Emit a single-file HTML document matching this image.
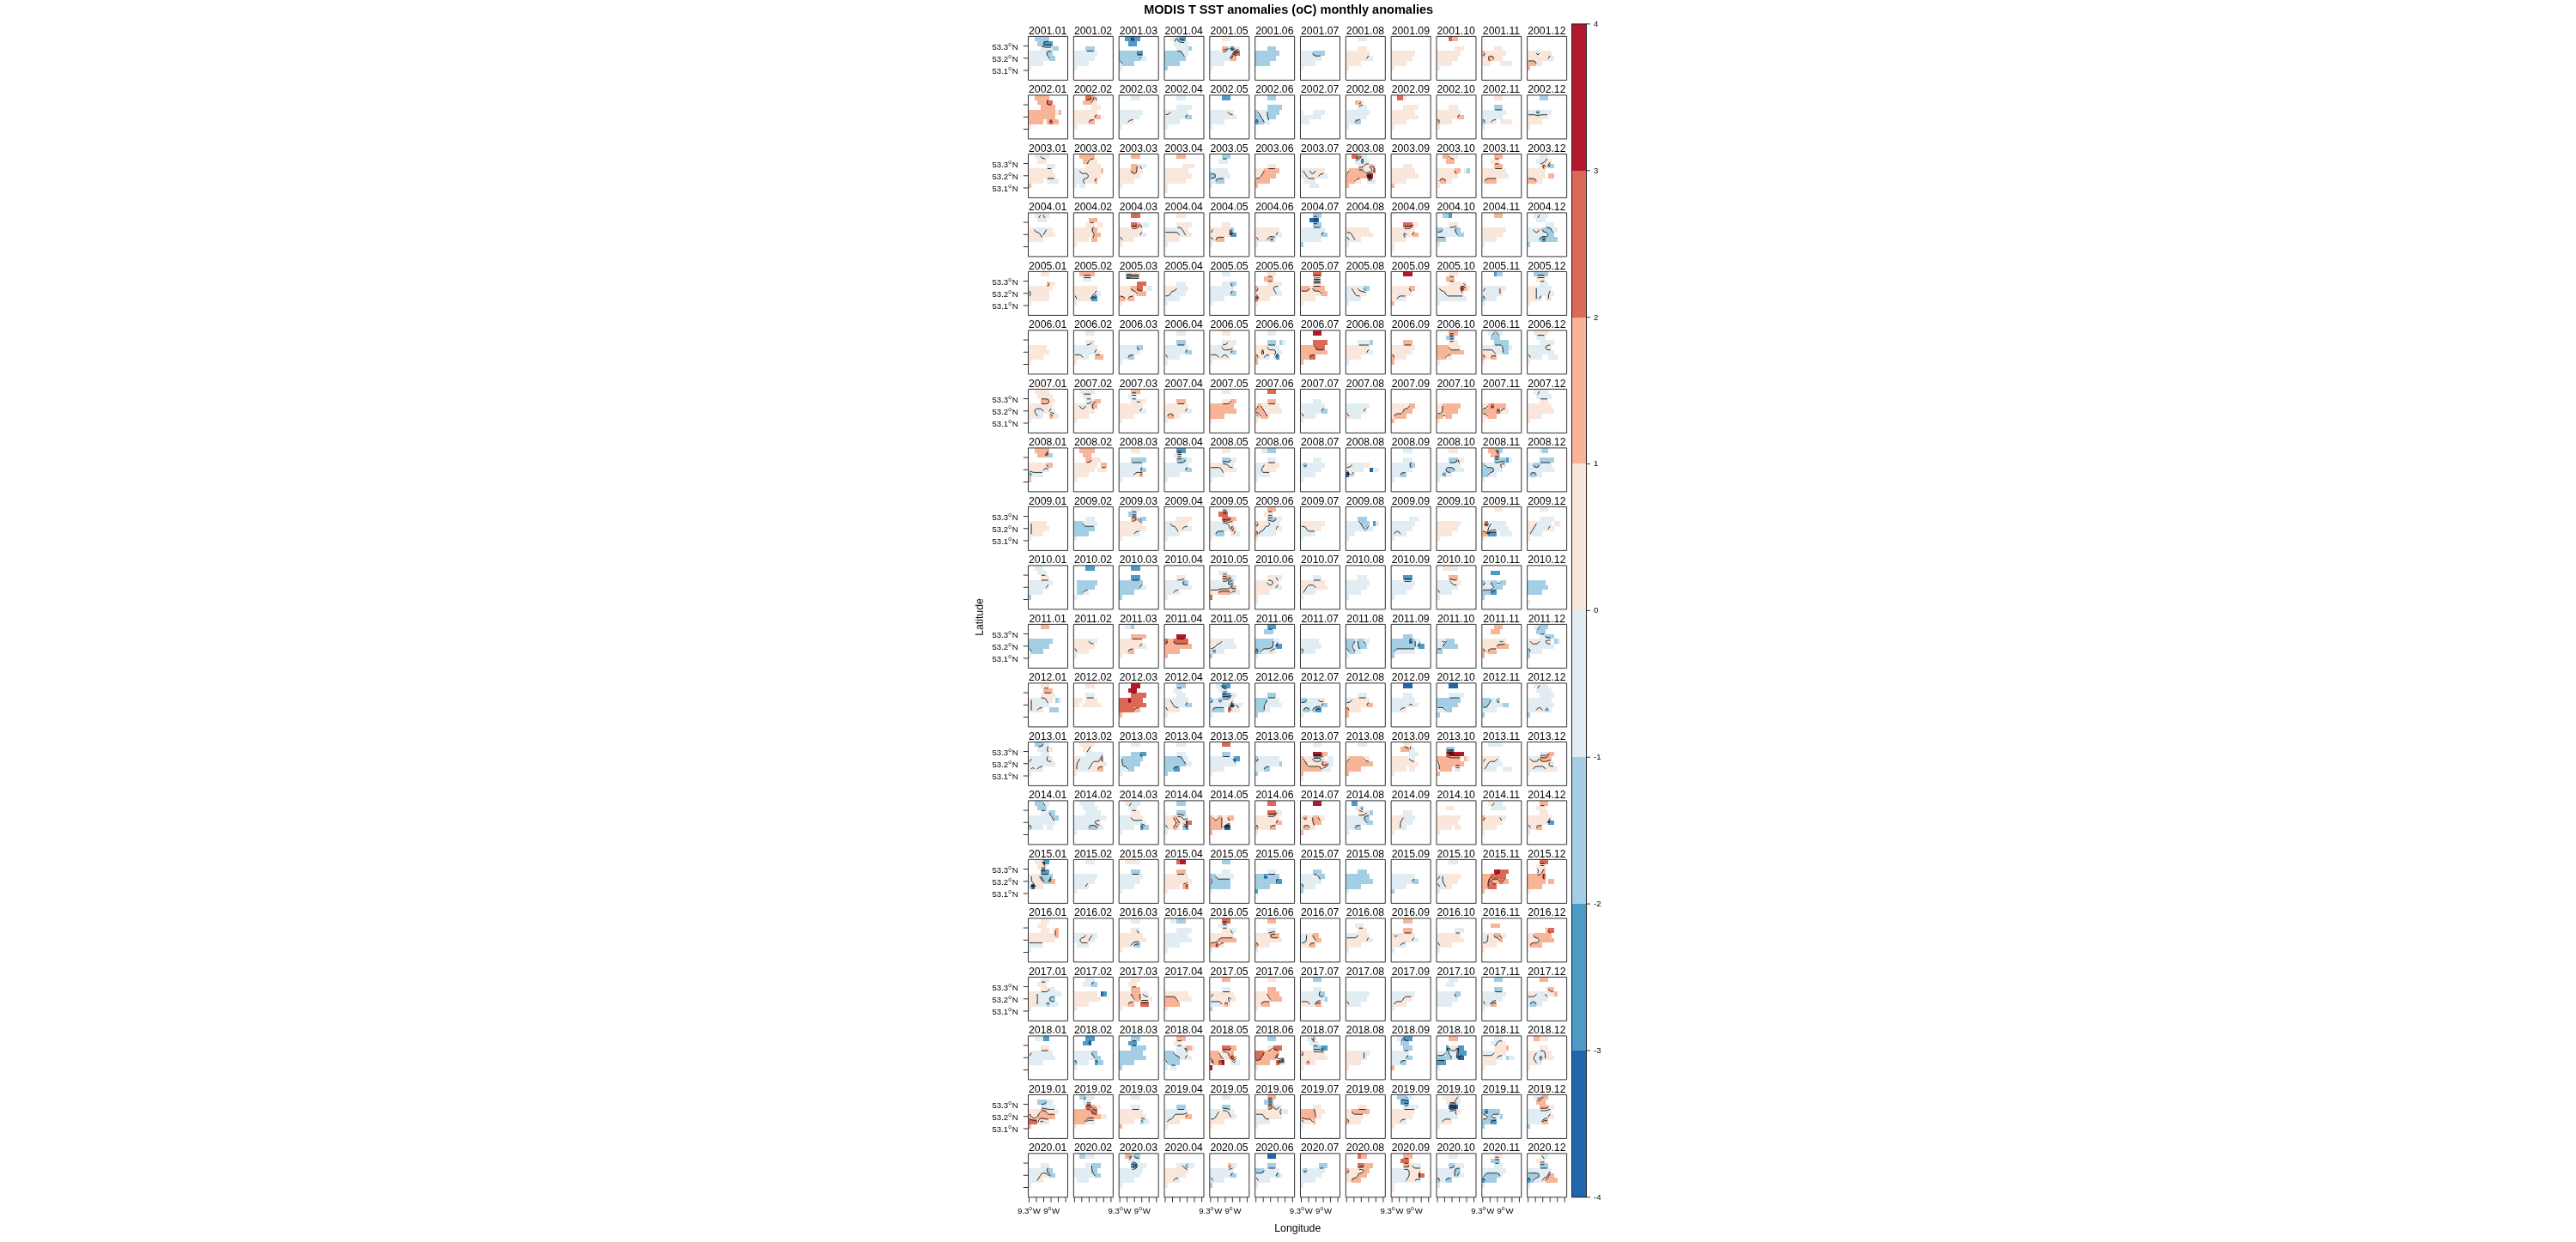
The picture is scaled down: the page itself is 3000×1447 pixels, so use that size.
<!DOCTYPE html>
<html lang="en"><head><meta charset="utf-8"><title>MODIS T SST anomalies (oC) monthly anomalies</title>
<style>html,body{margin:0;padding:0;background:#fff}body{width:3000px;height:1447px;overflow:hidden}</style></head>
<body>
<svg width="3000" height="1447" viewBox="0 0 3000 1447" style="display:block">
<rect width="3000" height="1447" fill="#fff"/>
<g font-family="'Liberation Sans', sans-serif" fill="#000" opacity="0.999">
<text x="1500.7" y="15.8" font-size="14.55" font-weight="bold" text-anchor="middle">MODIS T SST anomalies (oC) monthly anomalies</text>
<text x="1511.3" y="1435" font-size="12.3" text-anchor="middle">Longitude</text>
<text transform="translate(1144.8,719) rotate(-90)" font-size="12.3" text-anchor="middle">Latitude</text>
<text x="1220.2" y="39.6" font-size="12.25" text-anchor="middle">2001.01</text>
<text x="1185.6" y="58.05" font-size="9.6" text-anchor="end">53.3<tspan dy="-4.1" font-size="6.7">o</tspan><tspan dy="4.1" dx="0.7">N</tspan></text>
<text x="1185.6" y="72.27" font-size="9.6" text-anchor="end">53.2<tspan dy="-4.1" font-size="6.7">o</tspan><tspan dy="4.1" dx="0.7">N</tspan></text>
<text x="1185.6" y="86.49" font-size="9.6" text-anchor="end">53.1<tspan dy="-4.1" font-size="6.7">o</tspan><tspan dy="4.1" dx="0.7">N</tspan></text>
<text x="1273.03" y="39.6" font-size="12.25" text-anchor="middle">2001.02</text>
<text x="1325.86" y="39.6" font-size="12.25" text-anchor="middle">2001.03</text>
<text x="1378.69" y="39.6" font-size="12.25" text-anchor="middle">2001.04</text>
<text x="1431.52" y="39.6" font-size="12.25" text-anchor="middle">2001.05</text>
<text x="1484.35" y="39.6" font-size="12.25" text-anchor="middle">2001.06</text>
<text x="1537.18" y="39.6" font-size="12.25" text-anchor="middle">2001.07</text>
<text x="1590.01" y="39.6" font-size="12.25" text-anchor="middle">2001.08</text>
<text x="1642.84" y="39.6" font-size="12.25" text-anchor="middle">2001.09</text>
<text x="1695.67" y="39.6" font-size="12.25" text-anchor="middle">2001.10</text>
<text x="1748.5" y="39.6" font-size="12.25" text-anchor="middle">2001.11</text>
<text x="1801.33" y="39.6" font-size="12.25" text-anchor="middle">2001.12</text>
<text x="1220.2" y="108.1" font-size="12.25" text-anchor="middle">2002.01</text>
<text x="1273.03" y="108.1" font-size="12.25" text-anchor="middle">2002.02</text>
<text x="1325.86" y="108.1" font-size="12.25" text-anchor="middle">2002.03</text>
<text x="1378.69" y="108.1" font-size="12.25" text-anchor="middle">2002.04</text>
<text x="1431.52" y="108.1" font-size="12.25" text-anchor="middle">2002.05</text>
<text x="1484.35" y="108.1" font-size="12.25" text-anchor="middle">2002.06</text>
<text x="1537.18" y="108.1" font-size="12.25" text-anchor="middle">2002.07</text>
<text x="1590.01" y="108.1" font-size="12.25" text-anchor="middle">2002.08</text>
<text x="1642.84" y="108.1" font-size="12.25" text-anchor="middle">2002.09</text>
<text x="1695.67" y="108.1" font-size="12.25" text-anchor="middle">2002.10</text>
<text x="1748.5" y="108.1" font-size="12.25" text-anchor="middle">2002.11</text>
<text x="1801.33" y="108.1" font-size="12.25" text-anchor="middle">2002.12</text>
<text x="1220.2" y="176.6" font-size="12.25" text-anchor="middle">2003.01</text>
<text x="1185.6" y="195.05" font-size="9.6" text-anchor="end">53.3<tspan dy="-4.1" font-size="6.7">o</tspan><tspan dy="4.1" dx="0.7">N</tspan></text>
<text x="1185.6" y="209.27" font-size="9.6" text-anchor="end">53.2<tspan dy="-4.1" font-size="6.7">o</tspan><tspan dy="4.1" dx="0.7">N</tspan></text>
<text x="1185.6" y="223.49" font-size="9.6" text-anchor="end">53.1<tspan dy="-4.1" font-size="6.7">o</tspan><tspan dy="4.1" dx="0.7">N</tspan></text>
<text x="1273.03" y="176.6" font-size="12.25" text-anchor="middle">2003.02</text>
<text x="1325.86" y="176.6" font-size="12.25" text-anchor="middle">2003.03</text>
<text x="1378.69" y="176.6" font-size="12.25" text-anchor="middle">2003.04</text>
<text x="1431.52" y="176.6" font-size="12.25" text-anchor="middle">2003.05</text>
<text x="1484.35" y="176.6" font-size="12.25" text-anchor="middle">2003.06</text>
<text x="1537.18" y="176.6" font-size="12.25" text-anchor="middle">2003.07</text>
<text x="1590.01" y="176.6" font-size="12.25" text-anchor="middle">2003.08</text>
<text x="1642.84" y="176.6" font-size="12.25" text-anchor="middle">2003.09</text>
<text x="1695.67" y="176.6" font-size="12.25" text-anchor="middle">2003.10</text>
<text x="1748.5" y="176.6" font-size="12.25" text-anchor="middle">2003.11</text>
<text x="1801.33" y="176.6" font-size="12.25" text-anchor="middle">2003.12</text>
<text x="1220.2" y="245.1" font-size="12.25" text-anchor="middle">2004.01</text>
<text x="1273.03" y="245.1" font-size="12.25" text-anchor="middle">2004.02</text>
<text x="1325.86" y="245.1" font-size="12.25" text-anchor="middle">2004.03</text>
<text x="1378.69" y="245.1" font-size="12.25" text-anchor="middle">2004.04</text>
<text x="1431.52" y="245.1" font-size="12.25" text-anchor="middle">2004.05</text>
<text x="1484.35" y="245.1" font-size="12.25" text-anchor="middle">2004.06</text>
<text x="1537.18" y="245.1" font-size="12.25" text-anchor="middle">2004.07</text>
<text x="1590.01" y="245.1" font-size="12.25" text-anchor="middle">2004.08</text>
<text x="1642.84" y="245.1" font-size="12.25" text-anchor="middle">2004.09</text>
<text x="1695.67" y="245.1" font-size="12.25" text-anchor="middle">2004.10</text>
<text x="1748.5" y="245.1" font-size="12.25" text-anchor="middle">2004.11</text>
<text x="1801.33" y="245.1" font-size="12.25" text-anchor="middle">2004.12</text>
<text x="1220.2" y="313.6" font-size="12.25" text-anchor="middle">2005.01</text>
<text x="1185.6" y="332.05" font-size="9.6" text-anchor="end">53.3<tspan dy="-4.1" font-size="6.7">o</tspan><tspan dy="4.1" dx="0.7">N</tspan></text>
<text x="1185.6" y="346.27" font-size="9.6" text-anchor="end">53.2<tspan dy="-4.1" font-size="6.7">o</tspan><tspan dy="4.1" dx="0.7">N</tspan></text>
<text x="1185.6" y="360.49" font-size="9.6" text-anchor="end">53.1<tspan dy="-4.1" font-size="6.7">o</tspan><tspan dy="4.1" dx="0.7">N</tspan></text>
<text x="1273.03" y="313.6" font-size="12.25" text-anchor="middle">2005.02</text>
<text x="1325.86" y="313.6" font-size="12.25" text-anchor="middle">2005.03</text>
<text x="1378.69" y="313.6" font-size="12.25" text-anchor="middle">2005.04</text>
<text x="1431.52" y="313.6" font-size="12.25" text-anchor="middle">2005.05</text>
<text x="1484.35" y="313.6" font-size="12.25" text-anchor="middle">2005.06</text>
<text x="1537.18" y="313.6" font-size="12.25" text-anchor="middle">2005.07</text>
<text x="1590.01" y="313.6" font-size="12.25" text-anchor="middle">2005.08</text>
<text x="1642.84" y="313.6" font-size="12.25" text-anchor="middle">2005.09</text>
<text x="1695.67" y="313.6" font-size="12.25" text-anchor="middle">2005.10</text>
<text x="1748.5" y="313.6" font-size="12.25" text-anchor="middle">2005.11</text>
<text x="1801.33" y="313.6" font-size="12.25" text-anchor="middle">2005.12</text>
<text x="1220.2" y="382.1" font-size="12.25" text-anchor="middle">2006.01</text>
<text x="1273.03" y="382.1" font-size="12.25" text-anchor="middle">2006.02</text>
<text x="1325.86" y="382.1" font-size="12.25" text-anchor="middle">2006.03</text>
<text x="1378.69" y="382.1" font-size="12.25" text-anchor="middle">2006.04</text>
<text x="1431.52" y="382.1" font-size="12.25" text-anchor="middle">2006.05</text>
<text x="1484.35" y="382.1" font-size="12.25" text-anchor="middle">2006.06</text>
<text x="1537.18" y="382.1" font-size="12.25" text-anchor="middle">2006.07</text>
<text x="1590.01" y="382.1" font-size="12.25" text-anchor="middle">2006.08</text>
<text x="1642.84" y="382.1" font-size="12.25" text-anchor="middle">2006.09</text>
<text x="1695.67" y="382.1" font-size="12.25" text-anchor="middle">2006.10</text>
<text x="1748.5" y="382.1" font-size="12.25" text-anchor="middle">2006.11</text>
<text x="1801.33" y="382.1" font-size="12.25" text-anchor="middle">2006.12</text>
<text x="1220.2" y="450.6" font-size="12.25" text-anchor="middle">2007.01</text>
<text x="1185.6" y="469.05" font-size="9.6" text-anchor="end">53.3<tspan dy="-4.1" font-size="6.7">o</tspan><tspan dy="4.1" dx="0.7">N</tspan></text>
<text x="1185.6" y="483.27" font-size="9.6" text-anchor="end">53.2<tspan dy="-4.1" font-size="6.7">o</tspan><tspan dy="4.1" dx="0.7">N</tspan></text>
<text x="1185.6" y="497.49" font-size="9.6" text-anchor="end">53.1<tspan dy="-4.1" font-size="6.7">o</tspan><tspan dy="4.1" dx="0.7">N</tspan></text>
<text x="1273.03" y="450.6" font-size="12.25" text-anchor="middle">2007.02</text>
<text x="1325.86" y="450.6" font-size="12.25" text-anchor="middle">2007.03</text>
<text x="1378.69" y="450.6" font-size="12.25" text-anchor="middle">2007.04</text>
<text x="1431.52" y="450.6" font-size="12.25" text-anchor="middle">2007.05</text>
<text x="1484.35" y="450.6" font-size="12.25" text-anchor="middle">2007.06</text>
<text x="1537.18" y="450.6" font-size="12.25" text-anchor="middle">2007.07</text>
<text x="1590.01" y="450.6" font-size="12.25" text-anchor="middle">2007.08</text>
<text x="1642.84" y="450.6" font-size="12.25" text-anchor="middle">2007.09</text>
<text x="1695.67" y="450.6" font-size="12.25" text-anchor="middle">2007.10</text>
<text x="1748.5" y="450.6" font-size="12.25" text-anchor="middle">2007.11</text>
<text x="1801.33" y="450.6" font-size="12.25" text-anchor="middle">2007.12</text>
<text x="1220.2" y="519.1" font-size="12.25" text-anchor="middle">2008.01</text>
<text x="1273.03" y="519.1" font-size="12.25" text-anchor="middle">2008.02</text>
<text x="1325.86" y="519.1" font-size="12.25" text-anchor="middle">2008.03</text>
<text x="1378.69" y="519.1" font-size="12.25" text-anchor="middle">2008.04</text>
<text x="1431.52" y="519.1" font-size="12.25" text-anchor="middle">2008.05</text>
<text x="1484.35" y="519.1" font-size="12.25" text-anchor="middle">2008.06</text>
<text x="1537.18" y="519.1" font-size="12.25" text-anchor="middle">2008.07</text>
<text x="1590.01" y="519.1" font-size="12.25" text-anchor="middle">2008.08</text>
<text x="1642.84" y="519.1" font-size="12.25" text-anchor="middle">2008.09</text>
<text x="1695.67" y="519.1" font-size="12.25" text-anchor="middle">2008.10</text>
<text x="1748.5" y="519.1" font-size="12.25" text-anchor="middle">2008.11</text>
<text x="1801.33" y="519.1" font-size="12.25" text-anchor="middle">2008.12</text>
<text x="1220.2" y="587.6" font-size="12.25" text-anchor="middle">2009.01</text>
<text x="1185.6" y="606.05" font-size="9.6" text-anchor="end">53.3<tspan dy="-4.1" font-size="6.7">o</tspan><tspan dy="4.1" dx="0.7">N</tspan></text>
<text x="1185.6" y="620.27" font-size="9.6" text-anchor="end">53.2<tspan dy="-4.1" font-size="6.7">o</tspan><tspan dy="4.1" dx="0.7">N</tspan></text>
<text x="1185.6" y="634.49" font-size="9.6" text-anchor="end">53.1<tspan dy="-4.1" font-size="6.7">o</tspan><tspan dy="4.1" dx="0.7">N</tspan></text>
<text x="1273.03" y="587.6" font-size="12.25" text-anchor="middle">2009.02</text>
<text x="1325.86" y="587.6" font-size="12.25" text-anchor="middle">2009.03</text>
<text x="1378.69" y="587.6" font-size="12.25" text-anchor="middle">2009.04</text>
<text x="1431.52" y="587.6" font-size="12.25" text-anchor="middle">2009.05</text>
<text x="1484.35" y="587.6" font-size="12.25" text-anchor="middle">2009.06</text>
<text x="1537.18" y="587.6" font-size="12.25" text-anchor="middle">2009.07</text>
<text x="1590.01" y="587.6" font-size="12.25" text-anchor="middle">2009.08</text>
<text x="1642.84" y="587.6" font-size="12.25" text-anchor="middle">2009.09</text>
<text x="1695.67" y="587.6" font-size="12.25" text-anchor="middle">2009.10</text>
<text x="1748.5" y="587.6" font-size="12.25" text-anchor="middle">2009.11</text>
<text x="1801.33" y="587.6" font-size="12.25" text-anchor="middle">2009.12</text>
<text x="1220.2" y="656.1" font-size="12.25" text-anchor="middle">2010.01</text>
<text x="1273.03" y="656.1" font-size="12.25" text-anchor="middle">2010.02</text>
<text x="1325.86" y="656.1" font-size="12.25" text-anchor="middle">2010.03</text>
<text x="1378.69" y="656.1" font-size="12.25" text-anchor="middle">2010.04</text>
<text x="1431.52" y="656.1" font-size="12.25" text-anchor="middle">2010.05</text>
<text x="1484.35" y="656.1" font-size="12.25" text-anchor="middle">2010.06</text>
<text x="1537.18" y="656.1" font-size="12.25" text-anchor="middle">2010.07</text>
<text x="1590.01" y="656.1" font-size="12.25" text-anchor="middle">2010.08</text>
<text x="1642.84" y="656.1" font-size="12.25" text-anchor="middle">2010.09</text>
<text x="1695.67" y="656.1" font-size="12.25" text-anchor="middle">2010.10</text>
<text x="1748.5" y="656.1" font-size="12.25" text-anchor="middle">2010.11</text>
<text x="1801.33" y="656.1" font-size="12.25" text-anchor="middle">2010.12</text>
<text x="1220.2" y="724.6" font-size="12.25" text-anchor="middle">2011.01</text>
<text x="1185.6" y="743.05" font-size="9.6" text-anchor="end">53.3<tspan dy="-4.1" font-size="6.7">o</tspan><tspan dy="4.1" dx="0.7">N</tspan></text>
<text x="1185.6" y="757.27" font-size="9.6" text-anchor="end">53.2<tspan dy="-4.1" font-size="6.7">o</tspan><tspan dy="4.1" dx="0.7">N</tspan></text>
<text x="1185.6" y="771.49" font-size="9.6" text-anchor="end">53.1<tspan dy="-4.1" font-size="6.7">o</tspan><tspan dy="4.1" dx="0.7">N</tspan></text>
<text x="1273.03" y="724.6" font-size="12.25" text-anchor="middle">2011.02</text>
<text x="1325.86" y="724.6" font-size="12.25" text-anchor="middle">2011.03</text>
<text x="1378.69" y="724.6" font-size="12.25" text-anchor="middle">2011.04</text>
<text x="1431.52" y="724.6" font-size="12.25" text-anchor="middle">2011.05</text>
<text x="1484.35" y="724.6" font-size="12.25" text-anchor="middle">2011.06</text>
<text x="1537.18" y="724.6" font-size="12.25" text-anchor="middle">2011.07</text>
<text x="1590.01" y="724.6" font-size="12.25" text-anchor="middle">2011.08</text>
<text x="1642.84" y="724.6" font-size="12.25" text-anchor="middle">2011.09</text>
<text x="1695.67" y="724.6" font-size="12.25" text-anchor="middle">2011.10</text>
<text x="1748.5" y="724.6" font-size="12.25" text-anchor="middle">2011.11</text>
<text x="1801.33" y="724.6" font-size="12.25" text-anchor="middle">2011.12</text>
<text x="1220.2" y="793.1" font-size="12.25" text-anchor="middle">2012.01</text>
<text x="1273.03" y="793.1" font-size="12.25" text-anchor="middle">2012.02</text>
<text x="1325.86" y="793.1" font-size="12.25" text-anchor="middle">2012.03</text>
<text x="1378.69" y="793.1" font-size="12.25" text-anchor="middle">2012.04</text>
<text x="1431.52" y="793.1" font-size="12.25" text-anchor="middle">2012.05</text>
<text x="1484.35" y="793.1" font-size="12.25" text-anchor="middle">2012.06</text>
<text x="1537.18" y="793.1" font-size="12.25" text-anchor="middle">2012.07</text>
<text x="1590.01" y="793.1" font-size="12.25" text-anchor="middle">2012.08</text>
<text x="1642.84" y="793.1" font-size="12.25" text-anchor="middle">2012.09</text>
<text x="1695.67" y="793.1" font-size="12.25" text-anchor="middle">2012.10</text>
<text x="1748.5" y="793.1" font-size="12.25" text-anchor="middle">2012.11</text>
<text x="1801.33" y="793.1" font-size="12.25" text-anchor="middle">2012.12</text>
<text x="1220.2" y="861.6" font-size="12.25" text-anchor="middle">2013.01</text>
<text x="1185.6" y="880.05" font-size="9.6" text-anchor="end">53.3<tspan dy="-4.1" font-size="6.7">o</tspan><tspan dy="4.1" dx="0.7">N</tspan></text>
<text x="1185.6" y="894.27" font-size="9.6" text-anchor="end">53.2<tspan dy="-4.1" font-size="6.7">o</tspan><tspan dy="4.1" dx="0.7">N</tspan></text>
<text x="1185.6" y="908.49" font-size="9.6" text-anchor="end">53.1<tspan dy="-4.1" font-size="6.7">o</tspan><tspan dy="4.1" dx="0.7">N</tspan></text>
<text x="1273.03" y="861.6" font-size="12.25" text-anchor="middle">2013.02</text>
<text x="1325.86" y="861.6" font-size="12.25" text-anchor="middle">2013.03</text>
<text x="1378.69" y="861.6" font-size="12.25" text-anchor="middle">2013.04</text>
<text x="1431.52" y="861.6" font-size="12.25" text-anchor="middle">2013.05</text>
<text x="1484.35" y="861.6" font-size="12.25" text-anchor="middle">2013.06</text>
<text x="1537.18" y="861.6" font-size="12.25" text-anchor="middle">2013.07</text>
<text x="1590.01" y="861.6" font-size="12.25" text-anchor="middle">2013.08</text>
<text x="1642.84" y="861.6" font-size="12.25" text-anchor="middle">2013.09</text>
<text x="1695.67" y="861.6" font-size="12.25" text-anchor="middle">2013.10</text>
<text x="1748.5" y="861.6" font-size="12.25" text-anchor="middle">2013.11</text>
<text x="1801.33" y="861.6" font-size="12.25" text-anchor="middle">2013.12</text>
<text x="1220.2" y="930.1" font-size="12.25" text-anchor="middle">2014.01</text>
<text x="1273.03" y="930.1" font-size="12.25" text-anchor="middle">2014.02</text>
<text x="1325.86" y="930.1" font-size="12.25" text-anchor="middle">2014.03</text>
<text x="1378.69" y="930.1" font-size="12.25" text-anchor="middle">2014.04</text>
<text x="1431.52" y="930.1" font-size="12.25" text-anchor="middle">2014.05</text>
<text x="1484.35" y="930.1" font-size="12.25" text-anchor="middle">2014.06</text>
<text x="1537.18" y="930.1" font-size="12.25" text-anchor="middle">2014.07</text>
<text x="1590.01" y="930.1" font-size="12.25" text-anchor="middle">2014.08</text>
<text x="1642.84" y="930.1" font-size="12.25" text-anchor="middle">2014.09</text>
<text x="1695.67" y="930.1" font-size="12.25" text-anchor="middle">2014.10</text>
<text x="1748.5" y="930.1" font-size="12.25" text-anchor="middle">2014.11</text>
<text x="1801.33" y="930.1" font-size="12.25" text-anchor="middle">2014.12</text>
<text x="1220.2" y="998.6" font-size="12.25" text-anchor="middle">2015.01</text>
<text x="1185.6" y="1017.05" font-size="9.6" text-anchor="end">53.3<tspan dy="-4.1" font-size="6.7">o</tspan><tspan dy="4.1" dx="0.7">N</tspan></text>
<text x="1185.6" y="1031.27" font-size="9.6" text-anchor="end">53.2<tspan dy="-4.1" font-size="6.7">o</tspan><tspan dy="4.1" dx="0.7">N</tspan></text>
<text x="1185.6" y="1045.49" font-size="9.6" text-anchor="end">53.1<tspan dy="-4.1" font-size="6.7">o</tspan><tspan dy="4.1" dx="0.7">N</tspan></text>
<text x="1273.03" y="998.6" font-size="12.25" text-anchor="middle">2015.02</text>
<text x="1325.86" y="998.6" font-size="12.25" text-anchor="middle">2015.03</text>
<text x="1378.69" y="998.6" font-size="12.25" text-anchor="middle">2015.04</text>
<text x="1431.52" y="998.6" font-size="12.25" text-anchor="middle">2015.05</text>
<text x="1484.35" y="998.6" font-size="12.25" text-anchor="middle">2015.06</text>
<text x="1537.18" y="998.6" font-size="12.25" text-anchor="middle">2015.07</text>
<text x="1590.01" y="998.6" font-size="12.25" text-anchor="middle">2015.08</text>
<text x="1642.84" y="998.6" font-size="12.25" text-anchor="middle">2015.09</text>
<text x="1695.67" y="998.6" font-size="12.25" text-anchor="middle">2015.10</text>
<text x="1748.5" y="998.6" font-size="12.25" text-anchor="middle">2015.11</text>
<text x="1801.33" y="998.6" font-size="12.25" text-anchor="middle">2015.12</text>
<text x="1220.2" y="1067.1" font-size="12.25" text-anchor="middle">2016.01</text>
<text x="1273.03" y="1067.1" font-size="12.25" text-anchor="middle">2016.02</text>
<text x="1325.86" y="1067.1" font-size="12.25" text-anchor="middle">2016.03</text>
<text x="1378.69" y="1067.1" font-size="12.25" text-anchor="middle">2016.04</text>
<text x="1431.52" y="1067.1" font-size="12.25" text-anchor="middle">2016.05</text>
<text x="1484.35" y="1067.1" font-size="12.25" text-anchor="middle">2016.06</text>
<text x="1537.18" y="1067.1" font-size="12.25" text-anchor="middle">2016.07</text>
<text x="1590.01" y="1067.1" font-size="12.25" text-anchor="middle">2016.08</text>
<text x="1642.84" y="1067.1" font-size="12.25" text-anchor="middle">2016.09</text>
<text x="1695.67" y="1067.1" font-size="12.25" text-anchor="middle">2016.10</text>
<text x="1748.5" y="1067.1" font-size="12.25" text-anchor="middle">2016.11</text>
<text x="1801.33" y="1067.1" font-size="12.25" text-anchor="middle">2016.12</text>
<text x="1220.2" y="1135.6" font-size="12.25" text-anchor="middle">2017.01</text>
<text x="1185.6" y="1154.05" font-size="9.6" text-anchor="end">53.3<tspan dy="-4.1" font-size="6.7">o</tspan><tspan dy="4.1" dx="0.7">N</tspan></text>
<text x="1185.6" y="1168.27" font-size="9.6" text-anchor="end">53.2<tspan dy="-4.1" font-size="6.7">o</tspan><tspan dy="4.1" dx="0.7">N</tspan></text>
<text x="1185.6" y="1182.49" font-size="9.6" text-anchor="end">53.1<tspan dy="-4.1" font-size="6.7">o</tspan><tspan dy="4.1" dx="0.7">N</tspan></text>
<text x="1273.03" y="1135.6" font-size="12.25" text-anchor="middle">2017.02</text>
<text x="1325.86" y="1135.6" font-size="12.25" text-anchor="middle">2017.03</text>
<text x="1378.69" y="1135.6" font-size="12.25" text-anchor="middle">2017.04</text>
<text x="1431.52" y="1135.6" font-size="12.25" text-anchor="middle">2017.05</text>
<text x="1484.35" y="1135.6" font-size="12.25" text-anchor="middle">2017.06</text>
<text x="1537.18" y="1135.6" font-size="12.25" text-anchor="middle">2017.07</text>
<text x="1590.01" y="1135.6" font-size="12.25" text-anchor="middle">2017.08</text>
<text x="1642.84" y="1135.6" font-size="12.25" text-anchor="middle">2017.09</text>
<text x="1695.67" y="1135.6" font-size="12.25" text-anchor="middle">2017.10</text>
<text x="1748.5" y="1135.6" font-size="12.25" text-anchor="middle">2017.11</text>
<text x="1801.33" y="1135.6" font-size="12.25" text-anchor="middle">2017.12</text>
<text x="1220.2" y="1204.1" font-size="12.25" text-anchor="middle">2018.01</text>
<text x="1273.03" y="1204.1" font-size="12.25" text-anchor="middle">2018.02</text>
<text x="1325.86" y="1204.1" font-size="12.25" text-anchor="middle">2018.03</text>
<text x="1378.69" y="1204.1" font-size="12.25" text-anchor="middle">2018.04</text>
<text x="1431.52" y="1204.1" font-size="12.25" text-anchor="middle">2018.05</text>
<text x="1484.35" y="1204.1" font-size="12.25" text-anchor="middle">2018.06</text>
<text x="1537.18" y="1204.1" font-size="12.25" text-anchor="middle">2018.07</text>
<text x="1590.01" y="1204.1" font-size="12.25" text-anchor="middle">2018.08</text>
<text x="1642.84" y="1204.1" font-size="12.25" text-anchor="middle">2018.09</text>
<text x="1695.67" y="1204.1" font-size="12.25" text-anchor="middle">2018.10</text>
<text x="1748.5" y="1204.1" font-size="12.25" text-anchor="middle">2018.11</text>
<text x="1801.33" y="1204.1" font-size="12.25" text-anchor="middle">2018.12</text>
<text x="1220.2" y="1272.6" font-size="12.25" text-anchor="middle">2019.01</text>
<text x="1185.6" y="1291.05" font-size="9.6" text-anchor="end">53.3<tspan dy="-4.1" font-size="6.7">o</tspan><tspan dy="4.1" dx="0.7">N</tspan></text>
<text x="1185.6" y="1305.27" font-size="9.6" text-anchor="end">53.2<tspan dy="-4.1" font-size="6.7">o</tspan><tspan dy="4.1" dx="0.7">N</tspan></text>
<text x="1185.6" y="1319.49" font-size="9.6" text-anchor="end">53.1<tspan dy="-4.1" font-size="6.7">o</tspan><tspan dy="4.1" dx="0.7">N</tspan></text>
<text x="1273.03" y="1272.6" font-size="12.25" text-anchor="middle">2019.02</text>
<text x="1325.86" y="1272.6" font-size="12.25" text-anchor="middle">2019.03</text>
<text x="1378.69" y="1272.6" font-size="12.25" text-anchor="middle">2019.04</text>
<text x="1431.52" y="1272.6" font-size="12.25" text-anchor="middle">2019.05</text>
<text x="1484.35" y="1272.6" font-size="12.25" text-anchor="middle">2019.06</text>
<text x="1537.18" y="1272.6" font-size="12.25" text-anchor="middle">2019.07</text>
<text x="1590.01" y="1272.6" font-size="12.25" text-anchor="middle">2019.08</text>
<text x="1642.84" y="1272.6" font-size="12.25" text-anchor="middle">2019.09</text>
<text x="1695.67" y="1272.6" font-size="12.25" text-anchor="middle">2019.10</text>
<text x="1748.5" y="1272.6" font-size="12.25" text-anchor="middle">2019.11</text>
<text x="1801.33" y="1272.6" font-size="12.25" text-anchor="middle">2019.12</text>
<text x="1220.2" y="1341.1" font-size="12.25" text-anchor="middle">2020.01</text>
<text x="1198.4" y="1413.9" font-size="9.6" text-anchor="middle">9.3<tspan dy="-4.1" font-size="6.7">o</tspan><tspan dy="4.1" dx="0.9">W</tspan></text>
<text x="1224.66" y="1413.9" font-size="9.6" text-anchor="middle">9<tspan dy="-4.1" font-size="6.7">o</tspan><tspan dy="4.1" dx="0.9">W</tspan></text>
<text x="1273.03" y="1341.1" font-size="12.25" text-anchor="middle">2020.02</text>
<text x="1325.86" y="1341.1" font-size="12.25" text-anchor="middle">2020.03</text>
<text x="1304.06" y="1413.9" font-size="9.6" text-anchor="middle">9.3<tspan dy="-4.1" font-size="6.7">o</tspan><tspan dy="4.1" dx="0.9">W</tspan></text>
<text x="1330.32" y="1413.9" font-size="9.6" text-anchor="middle">9<tspan dy="-4.1" font-size="6.7">o</tspan><tspan dy="4.1" dx="0.9">W</tspan></text>
<text x="1378.69" y="1341.1" font-size="12.25" text-anchor="middle">2020.04</text>
<text x="1431.52" y="1341.1" font-size="12.25" text-anchor="middle">2020.05</text>
<text x="1409.72" y="1413.9" font-size="9.6" text-anchor="middle">9.3<tspan dy="-4.1" font-size="6.7">o</tspan><tspan dy="4.1" dx="0.9">W</tspan></text>
<text x="1435.98" y="1413.9" font-size="9.6" text-anchor="middle">9<tspan dy="-4.1" font-size="6.7">o</tspan><tspan dy="4.1" dx="0.9">W</tspan></text>
<text x="1484.35" y="1341.1" font-size="12.25" text-anchor="middle">2020.06</text>
<text x="1537.18" y="1341.1" font-size="12.25" text-anchor="middle">2020.07</text>
<text x="1515.38" y="1413.9" font-size="9.6" text-anchor="middle">9.3<tspan dy="-4.1" font-size="6.7">o</tspan><tspan dy="4.1" dx="0.9">W</tspan></text>
<text x="1541.64" y="1413.9" font-size="9.6" text-anchor="middle">9<tspan dy="-4.1" font-size="6.7">o</tspan><tspan dy="4.1" dx="0.9">W</tspan></text>
<text x="1590.01" y="1341.1" font-size="12.25" text-anchor="middle">2020.08</text>
<text x="1642.84" y="1341.1" font-size="12.25" text-anchor="middle">2020.09</text>
<text x="1621.04" y="1413.9" font-size="9.6" text-anchor="middle">9.3<tspan dy="-4.1" font-size="6.7">o</tspan><tspan dy="4.1" dx="0.9">W</tspan></text>
<text x="1647.3" y="1413.9" font-size="9.6" text-anchor="middle">9<tspan dy="-4.1" font-size="6.7">o</tspan><tspan dy="4.1" dx="0.9">W</tspan></text>
<text x="1695.67" y="1341.1" font-size="12.25" text-anchor="middle">2020.10</text>
<text x="1748.5" y="1341.1" font-size="12.25" text-anchor="middle">2020.11</text>
<text x="1726.7" y="1413.9" font-size="9.6" text-anchor="middle">9.3<tspan dy="-4.1" font-size="6.7">o</tspan><tspan dy="4.1" dx="0.9">W</tspan></text>
<text x="1752.96" y="1413.9" font-size="9.6" text-anchor="middle">9<tspan dy="-4.1" font-size="6.7">o</tspan><tspan dy="4.1" dx="0.9">W</tspan></text>
<text x="1801.33" y="1341.1" font-size="12.25" text-anchor="middle">2020.12</text>
<text x="1856" y="1397.7" font-size="9.6">-4</text>
<text x="1856" y="1226.84" font-size="9.6">-3</text>
<text x="1856" y="1055.98" font-size="9.6">-2</text>
<text x="1856" y="885.11" font-size="9.6">-1</text>
<text x="1856" y="714.25" font-size="9.6">0</text>
<text x="1856" y="543.39" font-size="9.6">1</text>
<text x="1856" y="372.52" font-size="9.6">2</text>
<text x="1856" y="201.66" font-size="9.6">3</text>
<text x="1856" y="30.8" font-size="9.6">4</text>
</g>
<g shape-rendering="crispEdges">
<path fill="#2166AC" d="M1317 42h4v6h-4zM1525 254h11v5h-11zM1595 545h4v5h-4zM1567 550h4v6h-4zM1634 796h11v6h-11zM1687 796h11v6h-11zM1426 961h7v6h-7zM1201 1030h4v6h-4zM1282 1155h3v6h-3zM1268 1213h3v5h-3zM1698 1230h7v5h-7zM1687 1287h11v5h-11zM1476 1344h10v6h-10z"/>
<path fill="#4E9AC7" d="M1215 48h11v6h-11zM1310 42h7v6h-7zM1321 42h7v6h-7zM1314 48h10v6h-10zM1324 59h7v6h-7zM1374 42h7v6h-7zM1433 54h4v5h-4zM1423 111h10v6h-10zM1462 139h3v6h-3zM1433 271h7v5h-7zM1687 248h4v6h-4zM1796 276h4v6h-4zM1271 345h7v6h-7zM1740 316h3v6h-3zM1486 413h4v6h-4zM1370 522h11v6h-11zM1754 533h3v6h-3zM1599 607h3v6h-3zM1733 619h10v6h-10zM1264 659h11v6h-11zM1317 659h11v6h-11zM1317 670h11v6h-11zM1634 670h11v6h-11zM1736 665h11v5h-11zM1736 687h7v6h-7zM1476 727h10v6h-10zM1486 750h7v6h-7zM1462 756h3v6h-3zM1641 744h4v6h-4zM1652 750h7v6h-7zM1423 796h10v6h-10zM1423 807h10v6h-10zM1433 819h4v5h-4zM1532 824h7v6h-7zM1328 876h7v5h-7zM1367 893h7v6h-7zM1437 881h7v6h-7zM1328 961h3v6h-3zM1381 961h3v6h-3zM1574 933h7v6h-7zM1803 956h7v5h-7zM1215 1001h7v6h-7zM1212 1013h10v5h-10zM1472 1018h4v6h-4zM1486 1024h7v6h-7zM1462 1036h3v5h-3zM1285 1155h4v6h-4zM1215 1207h7v6h-7zM1264 1207h11v6h-11zM1261 1213h7v5h-7zM1275 1235h3v6h-3zM1314 1213h10v5h-10zM1539 1218h7v6h-7zM1634 1207h11v6h-11zM1684 1218h3v6h-3zM1698 1218h7v6h-7zM1698 1224h10v6h-10zM1673 1235h11v6h-11zM1631 1281h10v6h-10zM1729 1292h4v6h-4zM1736 1304h7v6h-7zM1317 1355h7v6h-7zM1726 1372h3v6h-3zM1779 1372h3v6h-3z"/>
<path fill="#A4CEE3" d="M1205 42h17v6h-17zM1208 48h7v6h-7zM1226 54h7v5h-7zM1219 59h7v6h-7zM1222 65h7v6h-7zM1264 54h11v5h-11zM1303 59h21v6h-21zM1303 65h25v6h-25zM1307 71h14v6h-14zM1370 42h4v6h-4zM1384 54h4v5h-4zM1356 59h21v6h-21zM1356 65h25v6h-25zM1356 71h18v6h-18zM1356 77h4v5h-4zM1476 54h10v5h-10zM1462 59h28v6h-28zM1462 65h24v6h-24zM1462 71h17v6h-17zM1529 59h14v6h-14zM1381 134h7v5h-7zM1476 111h10v6h-10zM1476 122h17v6h-17zM1462 128h3v6h-3zM1476 128h14v6h-14zM1462 134h7v5h-7zM1476 134h10v5h-10zM1465 139h7v6h-7zM1578 139h7v6h-7zM1740 122h10v6h-10zM1726 139h3v6h-3zM1793 111h10v6h-10zM1789 128h4v6h-4zM1423 179h10v6h-10zM1409 202h7v6h-7zM1416 208h10v6h-10zM1585 185h3v6h-3zM1708 196h4v6h-4zM1803 191h7v5h-7zM1433 265h4v6h-4zM1479 276h4v6h-4zM1529 248h10v6h-10zM1529 259h10v6h-10zM1539 271h7v5h-7zM1515 282h3v6h-3zM1680 248h7v6h-7zM1673 265h7v6h-7zM1694 265h7v6h-7zM1698 271h7v5h-7zM1673 276h11v6h-11zM1796 265h11v6h-11zM1803 271h7v5h-7zM1793 276h3v6h-3zM1800 276h14v6h-14zM1779 282h3v6h-3zM1433 328h7v5h-7zM1433 339h7v6h-7zM1588 333h7v6h-7zM1743 316h7v6h-7zM1726 345h3v6h-3zM1786 316h17v6h-17zM1324 402h7v6h-7zM1314 413h7v6h-7zM1370 396h11v6h-11zM1381 408h7v5h-7zM1433 408h7v5h-7zM1476 396h10v6h-10zM1490 396h3v6h-3zM1595 396h4v6h-4zM1684 391h10v5h-10zM1740 385h3v6h-3zM1736 391h11v5h-11zM1740 396h17v6h-17zM1750 402h7v6h-7zM1750 408h7v5h-7zM1539 476h7v6h-7zM1219 528h7v5h-7zM1198 550h3v6h-3zM1317 533h18v6h-18zM1328 545h7v5h-7zM1370 533h11v6h-11zM1381 545h7v5h-7zM1423 533h10v6h-10zM1476 522h10v6h-10zM1518 539h4v6h-4zM1641 539h7v6h-7zM1631 550h7v6h-7zM1687 533h11v6h-11zM1684 545h10v5h-10zM1680 550h4v6h-4zM1743 522h7v6h-7zM1740 533h14v6h-14zM1726 539h3v6h-3zM1726 545h14v5h-14zM1726 550h7v6h-7zM1796 522h7v6h-7zM1793 533h17v6h-17zM1786 539h7v6h-7zM1782 550h7v6h-7zM1250 607h11v6h-11zM1250 613h25v6h-25zM1250 619h18v6h-18zM1314 596h10v6h-10zM1328 602h7v5h-7zM1416 619h10v6h-10zM1476 602h10v5h-10zM1581 602h11v5h-11zM1585 607h10v6h-10zM1588 613h4v6h-4zM1198 693h3v6h-3zM1254 676h24v6h-24zM1254 682h21v5h-21zM1254 687h7v6h-7zM1303 676h28v6h-28zM1303 682h25v5h-25zM1303 687h18v6h-18zM1303 693h4v6h-4zM1377 676h7v6h-7zM1430 676h7v6h-7zM1726 676h3v6h-3zM1736 676h7v6h-7zM1747 676h7v6h-7zM1740 682h10v5h-10zM1726 687h10v6h-10zM1726 693h3v6h-3zM1779 676h21v6h-21zM1779 682h24v5h-24zM1779 687h17v6h-17zM1198 744h28v6h-28zM1198 750h24v6h-24zM1201 756h14v6h-14zM1317 727h4v6h-4zM1412 756h4v6h-4zM1409 762h3v5h-3zM1472 733h11v6h-11zM1462 744h21v6h-21zM1462 750h21v6h-21zM1465 756h4v6h-4zM1515 756h3v6h-3zM1567 744h11v6h-11zM1581 744h7v6h-7zM1567 750h7v6h-7zM1581 750h11v6h-11zM1571 756h7v6h-7zM1634 739h11v5h-11zM1620 744h21v6h-21zM1645 744h3v6h-3zM1620 750h28v6h-28zM1620 756h4v6h-4zM1620 762h4v5h-4zM1684 744h10v6h-10zM1680 750h18v6h-18zM1673 756h7v6h-7zM1793 727h10v6h-10zM1789 733h11v6h-11zM1800 739h10v5h-10zM1810 744h4v6h-4zM1779 756h3v6h-3zM1779 762h3v5h-3zM1229 813h4v6h-4zM1222 824h11v6h-11zM1370 796h11v6h-11zM1381 819h7v5h-7zM1409 813h3v6h-3zM1419 813h4v6h-4zM1412 824h14v6h-14zM1476 807h10v6h-10zM1462 813h14v6h-14zM1462 819h10v5h-10zM1462 824h10v6h-10zM1462 830h3v6h-3zM1515 813h7v6h-7zM1539 819h7v5h-7zM1518 824h7v6h-7zM1529 824h3v6h-3zM1673 813h28v6h-28zM1673 819h25v5h-25zM1684 824h7v6h-7zM1673 830h4v6h-4zM1726 813h10v6h-10zM1743 813h4v6h-4zM1726 819h7v5h-7zM1750 819h7v5h-7zM1726 830h3v6h-3zM1800 824h3v6h-3zM1779 830h3v6h-3zM1205 864h10v6h-10zM1317 876h11v5h-11zM1307 881h24v6h-24zM1307 887h21v6h-21zM1314 893h7v6h-7zM1356 881h21v6h-21zM1356 887h25v6h-25zM1356 893h11v6h-11zM1356 899h4v5h-4zM1423 876h10v5h-10zM1462 881h3v6h-3zM1490 887h3v6h-3zM1472 893h7v6h-7zM1462 899h3v5h-3zM1684 870h10v6h-10zM1205 933h10v6h-10zM1208 939h11v5h-11zM1222 944h7v6h-7zM1226 950h7v6h-7zM1198 961h3v6h-3zM1268 961h10v6h-10zM1331 961h7v6h-7zM1370 933h11v6h-11zM1370 944h11v6h-11zM1377 961h4v6h-4zM1585 939h3v5h-3zM1595 944h4v6h-4zM1588 950h7v6h-7zM1592 956h7v5h-7zM1578 961h7v6h-7zM1212 1018h14v6h-14zM1215 1024h7v6h-7zM1317 1013h11v5h-11zM1423 1001h10v6h-10zM1409 1018h7v6h-7zM1412 1024h21v6h-21zM1409 1030h24v6h-24zM1462 1018h10v6h-10zM1476 1018h14v6h-14zM1462 1024h24v6h-24zM1462 1030h17v6h-17zM1529 1013h10v5h-10zM1536 1018h7v6h-7zM1515 1030h3v6h-3zM1515 1036h3v5h-3zM1581 1013h11v5h-11zM1567 1018h28v6h-28zM1567 1024h32v6h-32zM1567 1030h18v6h-18zM1645 1024h7v6h-7zM1620 1036h4v5h-4zM1321 1098h7v6h-7zM1370 1070h11v6h-11zM1222 1161h7v6h-7zM1219 1167h3v6h-3zM1271 1144h7v6h-7zM1409 1173h3v5h-3zM1529 1138h10v6h-10zM1536 1155h7v6h-7zM1543 1161h3v6h-3zM1694 1155h7v6h-7zM1740 1138h10v6h-10zM1740 1150h10v5h-10zM1782 1167h7v6h-7zM1271 1224h7v6h-7zM1275 1230h7v5h-7zM1250 1235h4v6h-4zM1278 1235h7v6h-7zM1317 1207h11v6h-11zM1317 1218h18v6h-18zM1303 1224h28v6h-28zM1303 1230h32v5h-32zM1303 1235h18v6h-18zM1303 1241h4v6h-4zM1356 1224h11v6h-11zM1356 1230h18v5h-18zM1360 1235h14v6h-14zM1476 1207h10v6h-10zM1529 1218h10v6h-10zM1631 1213h10v5h-10zM1634 1218h11v6h-11zM1638 1230h7v5h-7zM1631 1235h7v6h-7zM1684 1224h3v6h-3zM1673 1230h18v5h-18zM1754 1230h3v5h-3zM1793 1230h3v5h-3zM1208 1281h11v6h-11zM1257 1275h7v6h-7zM1328 1304h3v6h-3zM1370 1287h11v5h-11zM1423 1287h10v5h-10zM1472 1281h11v6h-11zM1627 1275h11v6h-11zM1726 1292h3v6h-3zM1733 1292h14v6h-14zM1733 1298h3v6h-3zM1747 1298h3v6h-3zM1726 1304h10v6h-10zM1726 1310h3v5h-3zM1779 1310h3v5h-3zM1219 1361h7v6h-7zM1222 1367h7v5h-7zM1257 1344h7v6h-7zM1271 1355h11v6h-11zM1271 1361h7v6h-7zM1275 1367h7v5h-7zM1321 1344h7v6h-7zM1381 1355h3v6h-3zM1433 1367h7v5h-7zM1409 1378h3v6h-3zM1476 1355h10v6h-10zM1462 1361h10v6h-10zM1486 1367h4v5h-4zM1536 1355h10v6h-10zM1518 1361h4v6h-4zM1687 1355h7v6h-7zM1694 1361h7v6h-7zM1694 1367h4v5h-4zM1673 1372h4v6h-4zM1684 1372h7v6h-7zM1736 1350h11v5h-11zM1729 1367h18v5h-18zM1729 1372h14v6h-14zM1793 1355h10v6h-10zM1779 1367h14v5h-14zM1782 1372h4v6h-4z"/>
<path fill="#E1EDF3" d="M1212 54h14v5h-14zM1198 59h21v6h-21zM1198 65h24v6h-24zM1198 71h17v6h-17zM1198 77h3v5h-3zM1250 59h28v6h-28zM1250 65h25v6h-25zM1250 71h18v6h-18zM1250 77h4v5h-4zM1328 65h7v6h-7zM1303 71h4v6h-4zM1303 77h4v5h-4zM1367 48h17v6h-17zM1370 54h14v5h-14zM1377 59h7v6h-7zM1430 54h3v5h-3zM1437 54h7v5h-7zM1409 59h28v6h-28zM1409 65h24v6h-24zM1409 71h17v6h-17zM1409 77h3v5h-3zM1515 59h14v6h-14zM1515 65h24v6h-24zM1515 71h17v6h-17zM1585 42h7v6h-7zM1592 65h7v6h-7zM1673 77h4v5h-4zM1789 59h4v6h-4zM1803 65h7v6h-7zM1275 111h3v6h-3zM1317 111h11v6h-11zM1303 128h28v6h-28zM1303 134h25v5h-25zM1303 139h11v6h-11zM1370 111h11v6h-11zM1370 122h18v6h-18zM1363 128h21v6h-21zM1356 134h25v5h-25zM1356 139h18v6h-18zM1409 128h21v6h-21zM1409 134h31v5h-31zM1409 139h17v6h-17zM1465 128h11v6h-11zM1469 134h7v5h-7zM1472 139h7v6h-7zM1515 128h3v6h-3zM1529 128h14v6h-14zM1515 134h24v5h-24zM1515 139h10v6h-10zM1581 122h11v6h-11zM1567 128h28v6h-28zM1567 134h25v5h-25zM1567 139h11v6h-11zM1567 145h4v6h-4zM1673 145h4v6h-4zM1726 128h28v6h-28zM1726 134h24v5h-24zM1729 139h7v6h-7zM1726 145h3v6h-3zM1779 128h10v6h-10zM1793 128h14v6h-14zM1212 179h7v6h-7zM1219 191h10v5h-10zM1219 208h14v6h-14zM1250 196h7v6h-7zM1250 202h18v6h-18zM1250 208h11v6h-11zM1250 214h4v5h-4zM1257 214h7v5h-7zM1328 191h7v5h-7zM1356 219h4v6h-4zM1419 185h11v6h-11zM1409 196h21v6h-21zM1416 202h17v6h-17zM1409 208h7v6h-7zM1409 214h3v5h-3zM1515 196h3v6h-3zM1525 196h7v6h-7zM1515 202h7v6h-7zM1536 202h10v6h-10zM1518 208h14v6h-14zM1525 214h11v5h-11zM1585 179h7v6h-7zM1578 185h7v6h-7zM1588 185h7v6h-7zM1581 191h7v5h-7zM1599 191h3v5h-3zM1592 208h10v6h-10zM1705 196h3v6h-3zM1793 179h10v6h-10zM1789 185h11v6h-11zM1212 248h3v6h-3zM1208 254h11v5h-11zM1205 265h14v6h-14zM1212 271h3v5h-3zM1328 259h10v6h-10zM1328 271h7v5h-7zM1303 276h4v6h-4zM1356 265h21v6h-21zM1374 271h7v5h-7zM1409 265h3v6h-3zM1409 276h3v6h-3zM1409 282h3v6h-3zM1486 271h7v5h-7zM1462 276h3v6h-3zM1476 276h3v6h-3zM1483 276h3v6h-3zM1462 282h3v6h-3zM1515 265h28v6h-28zM1515 271h24v5h-24zM1515 276h24v6h-24zM1567 271h7v5h-7zM1571 276h7v6h-7zM1567 282h4v6h-4zM1634 271h4v5h-4zM1620 288h4v5h-4zM1680 265h14v6h-14zM1673 271h25v5h-25zM1793 248h10v6h-10zM1789 254h11v5h-11zM1800 259h10v6h-10zM1779 265h7v6h-7zM1793 265h3v6h-3zM1807 265h7v6h-7zM1779 271h24v5h-24zM1779 276h14v6h-14zM1198 339h3v6h-3zM1261 322h10v6h-10zM1275 339h7v6h-7zM1250 345h4v6h-4zM1310 316h7v6h-7zM1338 333h4v6h-4zM1370 328h11v5h-11zM1370 333h11v6h-11zM1363 339h18v6h-18zM1356 345h18v6h-18zM1356 351h4v5h-4zM1423 316h10v6h-10zM1423 328h10v5h-10zM1409 333h28v6h-28zM1409 339h24v6h-24zM1409 345h17v6h-17zM1409 351h3v5h-3zM1483 333h7v6h-7zM1486 339h7v6h-7zM1567 333h7v6h-7zM1581 333h7v6h-7zM1567 339h11v6h-11zM1567 345h18v6h-18zM1567 351h4v5h-4zM1627 345h11v6h-11zM1705 328h3v5h-3zM1673 333h4v6h-4zM1673 339h11v6h-11zM1673 345h35v6h-35zM1673 351h4v5h-4zM1729 333h18v6h-18zM1726 339h21v6h-21zM1729 345h14v6h-14zM1726 351h3v5h-3zM1793 328h10v5h-10zM1789 333h18v6h-18zM1789 339h14v6h-14zM1789 345h4v6h-4zM1800 345h3v6h-3zM1264 385h11v6h-11zM1271 396h4v6h-4zM1250 402h28v6h-28zM1250 408h25v5h-25zM1261 413h7v6h-7zM1303 402h21v6h-21zM1303 408h25v5h-25zM1303 413h11v6h-11zM1303 419h4v6h-4zM1370 385h11v6h-11zM1356 402h28v6h-28zM1356 408h25v5h-25zM1360 413h14v6h-14zM1423 396h7v6h-7zM1437 396h3v6h-3zM1409 402h14v6h-14zM1409 408h24v5h-24zM1419 413h4v6h-4zM1430 413h3v6h-3zM1476 385h10v6h-10zM1493 396h4v6h-4zM1476 402h14v6h-14zM1486 408h7v5h-7zM1472 413h7v6h-7zM1483 413h3v6h-3zM1581 396h14v6h-14zM1592 408h7v5h-7zM1567 419h4v6h-4zM1733 385h7v6h-7zM1743 385h7v6h-7zM1726 402h24v6h-24zM1757 402h4v6h-4zM1740 408h10v5h-10zM1789 391h11v5h-11zM1793 396h17v6h-17zM1779 402h21v6h-21zM1779 408h31v5h-31zM1782 413h14v6h-14zM1803 413h11v6h-11zM1205 476h10v6h-10zM1222 476h7v6h-7zM1208 482h7v6h-7zM1198 488h3v5h-3zM1257 453h18v6h-18zM1264 465h7v5h-7zM1257 470h7v6h-7zM1250 488h4v5h-4zM1314 459h10v6h-10zM1324 465h4v5h-4zM1328 476h7v6h-7zM1381 476h7v6h-7zM1423 453h10v6h-10zM1462 482h3v6h-3zM1529 465h10v5h-10zM1515 470h28v6h-28zM1515 476h24v6h-24zM1518 482h14v6h-14zM1515 488h3v5h-3zM1567 470h28v6h-28zM1567 476h21v6h-21zM1571 482h14v6h-14zM1793 453h10v6h-10zM1789 459h18v6h-18zM1215 545h7v5h-7zM1201 550h14v6h-14zM1303 539h28v6h-28zM1303 545h25v5h-25zM1303 550h18v6h-18zM1303 556h4v6h-4zM1381 533h7v6h-7zM1356 539h28v6h-28zM1356 545h25v5h-25zM1356 550h18v6h-18zM1356 556h4v6h-4zM1433 533h7v6h-7zM1430 539h7v6h-7zM1409 545h14v5h-14zM1409 550h17v6h-17zM1409 556h3v6h-3zM1469 522h7v6h-7zM1476 533h10v6h-10zM1462 539h10v6h-10zM1462 545h7v5h-7zM1462 550h17v6h-17zM1529 533h10v6h-10zM1515 539h3v6h-3zM1522 539h21v6h-21zM1515 545h24v5h-24zM1515 550h17v6h-17zM1515 556h3v6h-3zM1574 539h14v6h-14zM1567 545h21v5h-21zM1599 545h7v5h-7zM1571 550h3v6h-3zM1634 522h11v6h-11zM1634 533h11v6h-11zM1620 539h21v6h-21zM1620 545h25v5h-25zM1620 550h11v6h-11zM1620 556h4v6h-4zM1673 539h28v6h-28zM1673 545h11v5h-11zM1694 545h11v5h-11zM1673 550h7v6h-7zM1684 550h7v6h-7zM1673 556h4v6h-4zM1757 533h4v6h-4zM1729 539h18v6h-18zM1740 545h10v5h-10zM1733 550h10v6h-10zM1793 522h3v6h-3zM1779 539h7v6h-7zM1793 539h14v6h-14zM1779 545h31v5h-31zM1779 550h3v6h-3zM1789 550h7v6h-7zM1198 607h3v6h-3zM1198 613h3v6h-3zM1198 619h3v6h-3zM1198 625h3v5h-3zM1264 602h11v5h-11zM1261 607h17v6h-17zM1250 625h4v5h-4zM1317 590h11v6h-11zM1324 602h4v5h-4zM1321 619h7v6h-7zM1356 607h7v6h-7zM1356 613h14v6h-14zM1377 613h11v6h-11zM1356 619h18v6h-18zM1423 590h10v6h-10zM1409 607h21v6h-21zM1409 613h24v6h-24zM1409 619h7v6h-7zM1437 619h7v6h-7zM1486 602h7v5h-7zM1479 607h11v6h-11zM1472 613h14v6h-14zM1465 619h21v6h-21zM1515 613h7v6h-7zM1515 619h17v6h-17zM1515 625h3v5h-3zM1567 607h18v6h-18zM1602 607h4v6h-4zM1567 613h21v6h-21zM1592 613h7v6h-7zM1567 619h11v6h-11zM1567 625h4v5h-4zM1641 602h11v5h-11zM1620 607h28v6h-28zM1620 613h25v6h-25zM1620 619h4v6h-4zM1631 619h7v6h-7zM1620 625h4v5h-4zM1736 607h18v6h-18zM1733 613h24v6h-24zM1747 619h14v6h-14zM1793 590h10v6h-10zM1793 602h17v5h-17zM1789 607h18v6h-18zM1786 613h17v6h-17zM1782 619h14v6h-14zM1205 659h10v6h-10zM1208 665h11v5h-11zM1198 676h28v6h-28zM1198 682h21v5h-21zM1198 687h17v6h-17zM1261 687h7v6h-7zM1250 693h4v6h-4zM1328 682h7v5h-7zM1356 676h21v6h-21zM1356 682h32v5h-32zM1356 687h11v6h-11zM1356 693h4v6h-4zM1419 665h11v5h-11zM1433 670h7v6h-7zM1409 676h21v6h-21zM1409 682h24v5h-24zM1433 687h11v6h-11zM1486 670h7v6h-7zM1476 676h7v6h-7zM1486 682h7v5h-7zM1462 699h3v5h-3zM1529 670h10v6h-10zM1522 682h10v5h-10zM1518 687h14v6h-14zM1515 693h3v6h-3zM1581 670h11v6h-11zM1567 676h28v6h-28zM1567 682h25v5h-25zM1567 687h18v6h-18zM1567 693h4v6h-4zM1620 676h28v6h-28zM1620 682h25v5h-25zM1620 687h18v6h-18zM1620 693h4v6h-4zM1691 659h7v6h-7zM1673 676h18v6h-18zM1673 682h25v5h-25zM1677 687h14v6h-14zM1729 676h7v6h-7zM1743 676h4v6h-4zM1726 682h14v5h-14zM1779 699h3v5h-3zM1198 756h3v6h-3zM1198 762h3v5h-3zM1268 744h10v6h-10zM1250 756h4v6h-4zM1250 762h4v5h-4zM1310 727h7v6h-7zM1328 750h7v6h-7zM1423 744h14v6h-14zM1416 750h24v6h-24zM1409 756h3v6h-3zM1416 756h10v6h-10zM1483 744h7v6h-7zM1483 750h3v6h-3zM1469 756h10v6h-10zM1462 762h3v5h-3zM1515 744h21v6h-21zM1515 750h24v6h-24zM1518 756h14v6h-14zM1578 744h3v6h-3zM1588 744h7v6h-7zM1574 750h7v6h-7zM1567 756h4v6h-4zM1578 756h7v6h-7zM1567 762h4v5h-4zM1648 744h7v6h-7zM1648 750h4v6h-4zM1624 756h24v6h-24zM1673 744h7v6h-7zM1673 750h7v6h-7zM1747 744h3v6h-3zM1786 727h7v6h-7zM1793 739h7v5h-7zM1779 744h3v6h-3zM1793 744h7v6h-7zM1814 744h3v6h-3zM1779 750h31v6h-31zM1782 756h14v6h-14zM1226 807h3v6h-3zM1201 813h18v6h-18zM1233 813h3v6h-3zM1201 819h21v5h-21zM1201 824h7v6h-7zM1264 807h11v6h-11zM1367 802h10v5h-10zM1370 807h11v6h-11zM1363 813h21v6h-21zM1367 819h14v5h-14zM1356 824h4v6h-4zM1416 796h7v6h-7zM1419 802h11v5h-11zM1433 807h7v6h-7zM1412 813h7v6h-7zM1423 813h14v6h-14zM1409 819h24v5h-24zM1440 819h7v5h-7zM1409 824h3v6h-3zM1409 830h3v6h-3zM1476 813h14v6h-14zM1472 819h21v5h-21zM1472 824h7v6h-7zM1522 813h14v6h-14zM1515 819h24v5h-24zM1515 824h3v6h-3zM1525 824h4v6h-4zM1515 830h3v6h-3zM1581 807h11v6h-11zM1567 813h7v6h-7zM1634 807h11v6h-11zM1620 813h28v6h-28zM1620 819h21v5h-21zM1645 819h7v5h-7zM1620 824h11v6h-11zM1687 807h18v6h-18zM1673 824h11v6h-11zM1736 813h7v6h-7zM1733 819h17v5h-17zM1726 824h17v6h-17zM1793 796h10v6h-10zM1789 802h18v5h-18zM1793 807h17v6h-17zM1779 813h28v6h-28zM1779 819h31v5h-31zM1779 824h10v6h-10zM1796 824h4v6h-4zM1803 824h4v6h-4zM1215 864h7v6h-7zM1208 870h11v6h-11zM1212 876h10v5h-10zM1201 881h18v6h-18zM1198 887h31v6h-31zM1198 893h3v6h-3zM1205 893h3v6h-3zM1198 899h3v5h-3zM1268 870h3v6h-3zM1264 876h21v5h-21zM1257 881h25v6h-25zM1254 887h17v6h-17zM1285 887h4v6h-4zM1254 893h14v6h-14zM1317 864h11v6h-11zM1303 881h4v6h-4zM1303 887h4v6h-4zM1303 893h11v6h-11zM1303 899h4v5h-4zM1370 864h11v6h-11zM1370 876h11v5h-11zM1377 881h7v6h-7zM1381 887h7v6h-7zM1409 881h28v6h-28zM1409 887h31v6h-31zM1409 893h17v6h-17zM1465 881h25v6h-25zM1462 887h28v6h-28zM1462 893h10v6h-10zM1529 864h10v6h-10zM1529 881h10v6h-10zM1546 881h7v6h-7zM1546 887h7v6h-7zM1539 893h11v6h-11zM1515 904h3v6h-3zM1585 864h7v6h-7zM1641 870h7v6h-7zM1641 876h11v5h-11zM1641 881h7v6h-7zM1694 893h7v6h-7zM1733 864h17v6h-17zM1726 881h3v6h-3zM1743 881h4v6h-4zM1733 887h17v6h-17zM1729 893h14v6h-14zM1750 893h11v6h-11zM1793 876h10v5h-10zM1782 881h11v6h-11zM1803 887h7v6h-7zM1786 893h14v6h-14zM1215 933h7v6h-7zM1212 944h10v6h-10zM1198 950h28v6h-28zM1198 956h31v5h-31zM1201 961h14v6h-14zM1219 961h7v6h-7zM1257 933h18v6h-18zM1261 939h17v5h-17zM1264 944h18v6h-18zM1250 950h35v6h-35zM1250 956h25v5h-25zM1250 961h18v6h-18zM1278 961h7v6h-7zM1250 967h4v6h-4zM1317 933h11v6h-11zM1314 939h10v5h-10zM1303 950h14v6h-14zM1303 956h32v5h-32zM1303 961h18v6h-18zM1303 967h4v6h-4zM1377 950h7v6h-7zM1356 961h4v6h-4zM1356 967h4v6h-4zM1462 967h3v6h-3zM1578 939h7v5h-7zM1592 944h3v6h-3zM1567 950h21v6h-21zM1567 956h25v5h-25zM1567 961h11v6h-11zM1634 944h11v6h-11zM1634 950h14v6h-14zM1631 956h14v5h-14zM1631 961h7v6h-7zM1740 933h10v6h-10zM1736 939h18v5h-18zM1747 950h7v6h-7zM1779 961h3v6h-3zM1779 967h3v6h-3zM1198 1018h3v6h-3zM1198 1024h3v6h-3zM1198 1030h3v6h-3zM1264 1001h11v6h-11zM1250 1018h28v6h-28zM1250 1024h25v6h-25zM1250 1030h14v6h-14zM1250 1036h4v5h-4zM1303 1018h28v6h-28zM1303 1024h25v6h-25zM1303 1030h18v6h-18zM1303 1036h4v5h-4zM1423 1013h10v5h-10zM1416 1018h21v6h-21zM1409 1024h3v6h-3zM1409 1036h3v5h-3zM1476 1013h10v5h-10zM1515 1018h21v6h-21zM1515 1024h24v6h-24zM1518 1030h14v6h-14zM1567 1036h4v5h-4zM1620 1018h28v6h-28zM1620 1024h25v6h-25zM1620 1030h18v6h-18zM1687 1001h11v6h-11zM1677 1018h3v6h-3zM1673 1024h7v6h-7zM1677 1030h7v6h-7zM1789 1013h4v5h-4zM1198 1098h17v6h-17zM1198 1104h3v6h-3zM1250 1087h14v6h-14zM1271 1087h7v6h-7zM1250 1093h7v5h-7zM1268 1093h7v5h-7zM1254 1098h14v6h-14zM1317 1070h11v6h-11zM1324 1081h4v6h-4zM1317 1098h4v6h-4zM1363 1070h7v6h-7zM1370 1081h18v6h-18zM1356 1087h28v6h-28zM1356 1093h32v5h-32zM1356 1098h18v6h-18zM1419 1076h11v5h-11zM1433 1081h7v6h-7zM1409 1104h3v6h-3zM1476 1081h10v6h-10zM1462 1104h3v6h-3zM1515 1087h7v6h-7zM1515 1093h7v5h-7zM1578 1076h10v5h-10zM1567 1087h14v6h-14zM1592 1093h7v5h-7zM1567 1104h4v6h-4zM1624 1087h3v6h-3zM1645 1093h7v5h-7zM1631 1098h7v6h-7zM1620 1104h4v6h-4zM1694 1081h11v6h-11zM1673 1098h4v6h-4zM1726 1087h7v6h-7zM1726 1093h7v5h-7zM1212 1138h10v6h-10zM1222 1150h7v5h-7zM1208 1155h28v6h-28zM1208 1161h14v6h-14zM1208 1167h11v6h-11zM1222 1167h11v6h-11zM1198 1173h3v5h-3zM1264 1138h11v6h-11zM1261 1144h10v6h-10zM1331 1155h7v6h-7zM1338 1161h4v6h-4zM1303 1173h4v5h-4zM1423 1150h10v5h-10zM1409 1155h3v6h-3zM1430 1161h3v6h-3zM1409 1167h14v6h-14zM1529 1150h10v5h-10zM1515 1155h21v6h-21zM1515 1161h28v6h-28zM1525 1167h7v6h-7zM1567 1155h28v6h-28zM1567 1161h25v6h-25zM1571 1167h14v6h-14zM1620 1155h28v6h-28zM1620 1161h14v6h-14zM1620 1167h4v6h-4zM1620 1173h4v5h-4zM1687 1138h11v6h-11zM1684 1144h10v6h-10zM1673 1155h21v6h-21zM1673 1161h25v6h-25zM1673 1167h18v6h-18zM1726 1155h28v6h-28zM1726 1161h24v6h-24zM1729 1167h7v6h-7zM1789 1155h11v6h-11zM1779 1161h24v6h-24zM1779 1167h3v6h-3zM1789 1167h7v6h-7zM1205 1207h10v6h-10zM1201 1224h25v6h-25zM1198 1230h31v5h-31zM1198 1235h17v6h-17zM1250 1224h21v6h-21zM1250 1230h25v5h-25zM1254 1235h14v6h-14zM1250 1241h4v6h-4zM1370 1218h11v6h-11zM1367 1224h17v6h-17zM1374 1230h7v5h-7zM1356 1235h4v6h-4zM1356 1241h4v6h-4zM1363 1241h7v6h-7zM1437 1235h7v6h-7zM1490 1235h7v6h-7zM1462 1241h3v6h-3zM1522 1207h7v6h-7zM1525 1213h11v5h-11zM1588 1224h7v6h-7zM1588 1230h4v5h-4zM1627 1207h7v6h-7zM1620 1224h21v6h-21zM1620 1230h18v5h-18zM1620 1235h11v6h-11zM1673 1224h11v6h-11zM1687 1224h11v6h-11zM1691 1230h7v5h-7zM1673 1241h4v6h-4zM1740 1207h10v6h-10zM1736 1213h7v5h-7zM1726 1224h14v6h-14zM1743 1230h7v5h-7zM1757 1230h7v5h-7zM1789 1224h11v6h-11zM1786 1230h7v5h-7zM1796 1230h4v5h-4zM1789 1235h7v6h-7zM1219 1281h7v6h-7zM1212 1287h17v5h-17zM1212 1304h3v6h-3zM1264 1275h11v6h-11zM1261 1281h10v6h-10zM1264 1304h11v6h-11zM1317 1287h11v5h-11zM1331 1304h7v6h-7zM1356 1292h28v6h-28zM1356 1298h11v6h-11zM1356 1304h4v6h-4zM1356 1310h4v5h-4zM1423 1275h10v6h-10zM1409 1292h10v6h-10zM1430 1292h7v6h-7zM1409 1298h7v6h-7zM1433 1298h7v6h-7zM1483 1287h7v5h-7zM1490 1292h10v6h-10zM1462 1298h10v6h-10zM1462 1304h17v6h-17zM1515 1304h3v6h-3zM1515 1310h3v5h-3zM1638 1275h7v6h-7zM1634 1287h18v5h-18zM1631 1304h7v6h-7zM1698 1275h3v6h-3zM1694 1281h7v6h-7zM1673 1292h21v6h-21zM1673 1298h25v6h-25zM1673 1304h7v6h-7zM1673 1310h4v5h-4zM1726 1298h7v6h-7zM1736 1298h11v6h-11zM1786 1275h10v6h-10zM1779 1292h28v6h-28zM1779 1298h24v6h-24zM1779 1304h17v6h-17zM1212 1355h10v6h-10zM1198 1361h21v6h-21zM1198 1367h14v5h-14zM1198 1372h10v6h-10zM1264 1344h11v6h-11zM1264 1355h7v6h-7zM1250 1361h21v6h-21zM1250 1367h25v5h-25zM1254 1372h14v6h-14zM1317 1344h4v6h-4zM1314 1350h14v5h-14zM1324 1355h11v6h-11zM1303 1361h28v6h-28zM1303 1367h25v5h-25zM1303 1372h18v6h-18zM1377 1355h4v6h-4zM1384 1355h7v6h-7zM1367 1372h7v6h-7zM1356 1378h4v6h-4zM1409 1361h28v6h-28zM1409 1367h24v5h-24zM1412 1372h14v6h-14zM1472 1361h18v6h-18zM1462 1367h24v5h-24zM1490 1367h3v5h-3zM1465 1372h14v6h-14zM1462 1378h3v6h-3zM1515 1361h3v6h-3zM1522 1361h21v6h-21zM1515 1367h24v5h-24zM1515 1372h17v6h-17zM1515 1378h3v6h-3zM1645 1355h10v6h-10zM1620 1361h21v6h-21zM1620 1367h21v5h-21zM1620 1372h18v6h-18zM1648 1372h7v6h-7zM1687 1344h11v6h-11zM1694 1355h11v6h-11zM1673 1361h21v6h-21zM1673 1367h21v5h-21zM1698 1367h7v5h-7zM1677 1372h7v6h-7zM1673 1378h4v6h-4zM1740 1355h10v6h-10zM1726 1361h28v6h-28zM1726 1367h3v5h-3zM1747 1367h3v5h-3zM1726 1378h3v6h-3zM1796 1344h7v6h-7zM1779 1361h28v6h-28zM1793 1367h10v5h-10zM1786 1372h10v6h-10zM1779 1378h3v6h-3z"/>
<path fill="#FAE7DC" d="M1363 42h7v6h-7zM1423 42h10v6h-10zM1515 77h3v5h-3zM1581 42h4v6h-4zM1581 54h11v5h-11zM1567 59h28v6h-28zM1567 65h25v6h-25zM1567 71h18v6h-18zM1567 77h4v5h-4zM1620 59h28v6h-28zM1620 65h25v6h-25zM1620 71h18v6h-18zM1620 77h4v5h-4zM1694 54h11v5h-11zM1673 59h28v6h-28zM1673 65h25v6h-25zM1673 71h18v6h-18zM1740 54h10v5h-10zM1729 59h25v6h-25zM1726 65h7v6h-7zM1740 65h10v6h-10zM1726 71h10v6h-10zM1747 71h14v6h-14zM1779 59h10v6h-10zM1793 59h14v6h-14zM1779 65h24v6h-24zM1789 71h7v6h-7zM1229 128h4v6h-4zM1198 145h3v6h-3zM1271 117h7v5h-7zM1271 122h11v6h-11zM1250 128h28v6h-28zM1250 134h25v5h-25zM1250 139h18v6h-18zM1250 145h4v6h-4zM1314 139h7v6h-7zM1303 145h4v6h-4zM1356 128h7v6h-7zM1356 145h4v6h-4zM1430 128h7v6h-7zM1409 145h3v6h-3zM1585 117h3v5h-3zM1634 111h4v6h-4zM1634 122h18v6h-18zM1620 128h28v6h-28zM1620 134h32v5h-32zM1620 139h18v6h-18zM1620 145h4v6h-4zM1687 122h11v6h-11zM1673 128h28v6h-28zM1673 134h25v5h-25zM1677 139h14v6h-14zM1740 111h10v6h-10zM1736 139h7v6h-7zM1747 139h14v6h-14zM1779 134h24v5h-24zM1779 139h17v6h-17zM1779 145h3v6h-3zM1205 179h7v6h-7zM1219 179h3v6h-3zM1208 185h11v6h-11zM1198 196h28v6h-28zM1198 202h31v6h-31zM1198 208h17v6h-17zM1268 185h10v6h-10zM1264 191h18v5h-18zM1257 196h25v6h-25zM1268 202h14v6h-14zM1261 208h14v6h-14zM1324 191h4v5h-4zM1303 196h14v6h-14zM1324 196h7v6h-7zM1303 202h25v6h-25zM1303 208h18v6h-18zM1303 214h4v5h-4zM1377 191h14v5h-14zM1356 196h28v6h-28zM1356 202h32v6h-32zM1356 208h25v6h-25zM1356 214h4v5h-4zM1476 191h10v5h-10zM1462 196h10v6h-10zM1462 202h7v6h-7zM1518 196h7v6h-7zM1532 196h11v6h-11zM1522 202h14v6h-14zM1588 191h7v5h-7zM1567 196h4v6h-4zM1588 196h11v6h-11zM1578 208h7v6h-7zM1634 191h11v5h-11zM1620 196h28v6h-28zM1620 202h32v6h-32zM1620 208h18v6h-18zM1687 179h11v6h-11zM1673 196h21v6h-21zM1673 202h25v6h-25zM1673 208h4v6h-4zM1684 208h7v6h-7zM1673 214h4v5h-4zM1736 185h11v6h-11zM1726 196h28v6h-28zM1726 202h31v6h-31zM1726 208h3v6h-3zM1800 185h7v6h-7zM1793 191h3v5h-3zM1800 191h3v5h-3zM1779 196h21v6h-21zM1779 202h21v6h-21zM1789 208h7v6h-7zM1205 248h7v6h-7zM1215 248h7v6h-7zM1198 265h7v6h-7zM1219 265h7v6h-7zM1198 271h14v5h-14zM1215 271h14v5h-14zM1198 276h17v6h-17zM1264 259h11v6h-11zM1278 259h7v6h-7zM1250 265h21v6h-21zM1250 271h25v5h-25zM1250 276h18v6h-18zM1250 282h4v6h-4zM1303 265h28v6h-28zM1303 271h25v5h-25zM1307 276h14v6h-14zM1303 282h4v6h-4zM1370 248h11v6h-11zM1370 259h18v6h-18zM1377 265h7v6h-7zM1356 271h18v5h-18zM1381 271h7v5h-7zM1356 276h18v6h-18zM1356 282h4v6h-4zM1423 259h10v6h-10zM1412 265h21v6h-21zM1409 271h24v5h-24zM1412 276h4v6h-4zM1462 265h28v6h-28zM1462 271h24v5h-24zM1465 276h11v6h-11zM1567 265h28v6h-28zM1574 271h25v5h-25zM1567 276h4v6h-4zM1578 276h7v6h-7zM1645 259h7v6h-7zM1620 265h28v6h-28zM1620 271h14v5h-14zM1638 271h7v5h-7zM1620 276h18v6h-18zM1620 282h4v6h-4zM1687 259h11v6h-11zM1673 282h4v6h-4zM1726 265h28v6h-28zM1726 271h24v5h-24zM1726 276h17v6h-17zM1726 282h3v6h-3zM1786 248h7v6h-7zM1786 265h7v6h-7zM1212 316h10v6h-10zM1222 328h7v5h-7zM1198 333h28v6h-28zM1201 339h21v6h-21zM1198 345h24v6h-24zM1198 351h3v5h-3zM1250 333h28v6h-28zM1250 339h25v6h-25zM1254 345h17v6h-17zM1250 351h4v5h-4zM1317 316h11v6h-11zM1303 333h14v6h-14zM1335 333h3v6h-3zM1303 339h21v6h-21zM1310 345h4v6h-4zM1303 351h4v5h-4zM1356 333h14v6h-14zM1381 333h3v6h-3zM1356 339h7v6h-7zM1476 316h10v6h-10zM1476 328h17v5h-17zM1465 333h18v6h-18zM1462 339h24v6h-24zM1465 345h14v6h-14zM1462 351h3v5h-3zM1529 328h10v5h-10zM1525 333h4v6h-4zM1515 339h24v6h-24zM1515 345h17v6h-17zM1515 351h3v5h-3zM1574 333h7v6h-7zM1578 339h14v6h-14zM1620 333h21v6h-21zM1620 339h25v6h-25zM1620 345h7v6h-7zM1687 316h11v6h-11zM1687 328h18v5h-18zM1677 333h24v6h-24zM1708 333h4v6h-4zM1684 339h21v6h-21zM1726 333h3v6h-3zM1747 333h7v6h-7zM1747 339h3v6h-3zM1789 322h11v6h-11zM1779 333h10v6h-10zM1779 339h10v6h-10zM1803 339h7v6h-7zM1779 345h10v6h-10zM1793 345h3v6h-3zM1803 345h4v6h-4zM1779 351h3v5h-3zM1198 402h21v6h-21zM1198 408h24v5h-24zM1198 413h17v6h-17zM1198 419h3v6h-3zM1264 396h7v6h-7zM1275 408h7v5h-7zM1250 413h11v6h-11zM1250 419h4v6h-4zM1356 413h4v6h-4zM1356 419h4v6h-4zM1423 385h10v6h-10zM1430 396h7v6h-7zM1423 402h14v6h-14zM1409 413h10v6h-10zM1423 413h7v6h-7zM1409 419h3v6h-3zM1462 402h14v6h-14zM1462 408h7v5h-7zM1472 408h14v5h-14zM1465 413h7v6h-7zM1567 402h28v6h-28zM1567 408h25v5h-25zM1567 413h18v6h-18zM1620 402h28v6h-28zM1620 408h25v5h-25zM1624 413h14v6h-14zM1687 396h11v6h-11zM1687 402h14v6h-14zM1684 413h7v6h-7zM1673 419h4v6h-4zM1726 408h14v5h-14zM1729 413h7v6h-7zM1726 419h3v6h-3zM1786 385h17v6h-17zM1800 402h7v6h-7zM1779 413h3v6h-3zM1779 419h3v6h-3zM1205 453h17v6h-17zM1208 459h18v6h-18zM1222 465h7v5h-7zM1198 470h28v6h-28zM1198 476h7v6h-7zM1215 476h7v6h-7zM1198 482h10v6h-10zM1226 482h7v6h-7zM1261 459h10v6h-10zM1271 465h4v5h-4zM1250 470h7v6h-7zM1264 470h7v6h-7zM1250 476h25v6h-25zM1250 482h18v6h-18zM1317 465h7v5h-7zM1328 465h7v5h-7zM1303 470h28v6h-28zM1303 476h25v6h-25zM1303 482h18v6h-18zM1303 488h4v5h-4zM1356 470h28v6h-28zM1356 476h25v6h-25zM1356 482h4v6h-4zM1367 482h7v6h-7zM1356 488h4v5h-4zM1423 465h10v5h-10zM1409 488h3v5h-3zM1462 470h3v6h-3zM1469 470h21v6h-21zM1472 476h21v6h-21zM1465 482h4v6h-4zM1476 482h3v6h-3zM1462 488h3v5h-3zM1515 482h3v6h-3zM1588 476h4v6h-4zM1567 482h4v6h-4zM1620 470h21v6h-21zM1620 476h14v6h-14zM1620 482h4v6h-4zM1673 470h7v6h-7zM1673 476h7v6h-7zM1680 482h4v6h-4zM1673 488h4v5h-4zM1726 470h7v6h-7zM1747 476h10v6h-10zM1726 482h7v6h-7zM1726 488h3v5h-3zM1786 453h7v6h-7zM1793 465h10v5h-10zM1779 470h28v6h-28zM1779 476h31v6h-31zM1779 482h17v6h-17zM1779 488h3v5h-3zM1198 539h21v6h-21zM1198 545h17v5h-17zM1271 533h11v6h-11zM1250 539h28v6h-28zM1250 545h25v5h-25zM1278 545h11v5h-11zM1250 550h18v6h-18zM1250 556h4v6h-4zM1317 522h11v6h-11zM1321 550h7v6h-7zM1367 528h10v5h-10zM1423 522h10v6h-10zM1409 539h21v6h-21zM1423 545h17v5h-17zM1472 539h18v6h-18zM1469 545h17v5h-17zM1462 556h3v6h-3zM1567 539h7v6h-7zM1588 539h7v6h-7zM1574 550h4v6h-4zM1687 522h11v6h-11zM1698 533h7v6h-7zM1747 539h7v6h-7zM1726 556h3v6h-3zM1201 607h18v6h-18zM1201 613h21v6h-21zM1201 619h14v6h-14zM1303 607h28v6h-28zM1303 613h32v6h-32zM1303 619h18v6h-18zM1303 625h4v5h-4zM1370 602h18v5h-18zM1363 607h21v6h-21zM1370 613h7v6h-7zM1356 625h4v5h-4zM1430 607h7v6h-7zM1437 613h3v6h-3zM1433 619h4v6h-4zM1409 625h3v5h-3zM1472 596h11v6h-11zM1465 607h14v6h-14zM1462 613h10v6h-10zM1486 613h7v6h-7zM1462 625h3v5h-3zM1515 607h28v6h-28zM1522 613h17v6h-17zM1624 619h7v6h-7zM1673 607h28v6h-28zM1673 613h25v6h-25zM1673 619h18v6h-18zM1673 625h4v5h-4zM1740 590h10v6h-10zM1726 607h3v6h-3zM1733 607h3v6h-3zM1726 613h7v6h-7zM1726 625h3v5h-3zM1779 607h10v6h-10zM1810 607h7v6h-7zM1779 613h7v6h-7zM1803 613h7v6h-7zM1779 619h3v6h-3zM1779 625h3v5h-3zM1212 670h10v6h-10zM1219 682h3v5h-3zM1370 670h11v6h-11zM1367 687h7v6h-7zM1409 687h10v6h-10zM1476 670h10v6h-10zM1462 676h14v6h-14zM1483 676h7v6h-7zM1462 682h24v5h-24zM1462 687h17v6h-17zM1462 693h3v6h-3zM1515 676h28v6h-28zM1515 682h7v5h-7zM1532 682h14v5h-14zM1515 687h3v6h-3zM1680 659h11v6h-11zM1691 676h10v6h-10zM1673 687h4v6h-4zM1673 693h4v6h-4zM1250 744h18v6h-18zM1250 750h25v6h-25zM1254 756h14v6h-14zM1303 744h28v6h-28zM1303 750h25v6h-25zM1303 756h11v6h-11zM1303 762h4v5h-4zM1409 744h14v6h-14zM1409 750h7v6h-7zM1479 756h7v6h-7zM1680 744h4v6h-4zM1726 744h21v6h-21zM1750 744h4v6h-4zM1726 750h17v6h-17zM1729 756h4v6h-4zM1782 744h11v6h-11zM1800 744h7v6h-7zM1212 796h10v6h-10zM1212 807h14v6h-14zM1198 813h3v6h-3zM1219 813h7v6h-7zM1198 819h3v5h-3zM1198 824h3v6h-3zM1208 824h7v6h-7zM1264 796h11v6h-11zM1250 813h11v6h-11zM1264 813h14v6h-14zM1250 819h7v5h-7zM1261 819h21v5h-21zM1356 813h7v6h-7zM1356 819h11v5h-11zM1360 824h14v6h-14zM1356 830h4v6h-4zM1437 819h3v5h-3zM1433 824h11v6h-11zM1536 813h7v6h-7zM1574 813h21v6h-21zM1567 819h25v5h-25zM1571 824h14v6h-14zM1641 819h4v5h-4zM1631 824h7v6h-7zM1786 796h7v6h-7zM1789 824h7v6h-7zM1219 870h7v6h-7zM1198 881h3v6h-3zM1219 881h7v6h-7zM1201 893h4v6h-4zM1208 893h7v6h-7zM1257 864h18v6h-18zM1261 870h7v6h-7zM1250 881h7v6h-7zM1250 887h4v6h-4zM1271 887h14v6h-14zM1250 893h4v6h-4zM1268 893h10v6h-10zM1250 899h4v5h-4zM1409 899h3v5h-3zM1518 881h11v6h-11zM1539 881h4v6h-4zM1522 887h17v6h-17zM1581 864h4v6h-4zM1567 881h4v6h-4zM1588 881h7v6h-7zM1634 864h11v6h-11zM1620 881h21v6h-21zM1620 887h32v6h-32zM1620 893h18v6h-18zM1641 893h7v6h-7zM1620 899h4v5h-4zM1708 881h4v6h-4zM1673 887h4v6h-4zM1673 893h4v6h-4zM1729 881h14v6h-14zM1726 887h7v6h-7zM1726 893h3v6h-3zM1779 881h3v6h-3zM1779 887h24v6h-24zM1779 893h7v6h-7zM1800 893h14v6h-14zM1779 899h3v5h-3zM1285 950h4v6h-4zM1275 956h7v5h-7zM1310 933h7v6h-7zM1317 944h11v6h-11zM1317 950h14v6h-14zM1356 950h11v6h-11zM1370 950h7v6h-7zM1356 956h14v5h-14zM1374 956h7v5h-7zM1360 961h7v6h-7zM1370 961h4v6h-4zM1412 950h7v6h-7zM1423 950h7v6h-7zM1423 956h10v5h-10zM1423 961h3v6h-3zM1486 944h7v6h-7zM1462 950h28v6h-28zM1462 956h24v5h-24zM1465 961h14v6h-14zM1515 950h3v6h-3zM1522 950h7v6h-7zM1536 950h7v6h-7zM1515 956h14v5h-14zM1515 961h3v6h-3zM1525 961h7v6h-7zM1581 944h11v6h-11zM1567 967h4v6h-4zM1620 950h14v6h-14zM1620 956h11v5h-11zM1620 961h11v6h-11zM1620 967h4v6h-4zM1684 939h10v5h-10zM1673 950h28v6h-28zM1673 956h25v5h-25zM1673 961h18v6h-18zM1694 961h7v6h-7zM1673 967h4v6h-4zM1733 933h7v6h-7zM1729 950h18v6h-18zM1726 956h24v5h-24zM1726 961h17v6h-17zM1726 967h3v6h-3zM1789 939h11v5h-11zM1793 944h10v6h-10zM1779 950h28v6h-28zM1779 956h24v5h-24zM1782 961h7v6h-7zM1205 1001h10v6h-10zM1208 1007h11v6h-11zM1201 1018h11v6h-11zM1201 1024h14v6h-14zM1205 1030h10v6h-10zM1264 1030h4v6h-4zM1310 1001h18v6h-18zM1356 1018h28v6h-28zM1356 1024h32v6h-32zM1356 1030h18v6h-18zM1356 1036h4v5h-4zM1673 1018h4v6h-4zM1680 1018h21v6h-21zM1680 1024h18v6h-18zM1673 1030h4v6h-4zM1684 1030h7v6h-7zM1673 1036h4v5h-4zM1789 1007h11v6h-11zM1793 1013h3v5h-3zM1779 1036h3v5h-3zM1212 1070h10v6h-10zM1208 1076h11v5h-11zM1212 1081h10v6h-10zM1226 1081h3v6h-3zM1198 1087h31v6h-31zM1198 1093h31v5h-31zM1264 1087h7v6h-7zM1257 1093h11v5h-11zM1317 1081h7v6h-7zM1303 1087h28v6h-28zM1303 1093h32v5h-32zM1303 1098h14v6h-14zM1303 1104h4v6h-4zM1356 1104h4v6h-4zM1423 1081h10v6h-10zM1409 1087h28v6h-28zM1409 1093h10v5h-10zM1419 1098h7v6h-7zM1462 1087h17v6h-17zM1462 1093h31v5h-31zM1465 1098h14v6h-14zM1522 1087h7v6h-7zM1522 1093h10v5h-10zM1515 1098h10v6h-10zM1581 1081h11v6h-11zM1581 1087h14v6h-14zM1567 1093h25v5h-25zM1567 1098h18v6h-18zM1620 1087h4v6h-4zM1627 1087h21v6h-21zM1620 1093h25v5h-25zM1620 1098h11v6h-11zM1673 1087h28v6h-28zM1673 1093h32v5h-32zM1677 1098h14v6h-14zM1673 1104h4v6h-4zM1733 1087h7v6h-7zM1747 1087h7v6h-7zM1733 1093h14v5h-14zM1726 1098h17v6h-17zM1726 1104h3v6h-3zM1779 1087h7v6h-7zM1779 1093h14v5h-14zM1779 1098h3v6h-3zM1208 1144h11v6h-11zM1212 1150h10v5h-10zM1198 1155h10v6h-10zM1198 1161h10v6h-10zM1198 1167h10v6h-10zM1250 1155h28v6h-28zM1250 1161h32v6h-32zM1250 1167h18v6h-18zM1250 1173h4v5h-4zM1317 1138h11v6h-11zM1314 1144h10v6h-10zM1303 1155h14v6h-14zM1328 1155h3v6h-3zM1303 1161h18v6h-18zM1328 1161h10v6h-10zM1303 1167h11v6h-11zM1356 1155h28v6h-28zM1370 1161h18v6h-18zM1356 1173h4v5h-4zM1412 1155h25v6h-25zM1409 1161h21v6h-21zM1433 1161h7v6h-7zM1423 1167h3v6h-3zM1430 1167h3v6h-3zM1476 1138h10v6h-10zM1462 1155h14v6h-14zM1462 1161h17v6h-17zM1462 1167h7v6h-7zM1462 1173h3v5h-3zM1515 1167h10v6h-10zM1567 1167h4v6h-4zM1634 1161h11v6h-11zM1624 1167h14v6h-14zM1726 1167h3v6h-3zM1726 1173h3v5h-3zM1800 1150h3v5h-3zM1779 1155h10v6h-10zM1800 1155h10v6h-10zM1212 1218h10v6h-10zM1198 1224h3v6h-3zM1367 1213h10v5h-10zM1388 1218h3v6h-3zM1381 1230h7v5h-7zM1419 1224h11v6h-11zM1423 1230h10v5h-10zM1433 1235h4v6h-4zM1476 1218h7v6h-7zM1518 1224h25v6h-25zM1515 1230h31v5h-31zM1515 1235h7v6h-7zM1525 1235h7v6h-7zM1515 1241h3v6h-3zM1567 1224h21v6h-21zM1567 1230h21v5h-21zM1567 1235h18v6h-18zM1567 1241h4v6h-4zM1687 1218h11v6h-11zM1743 1213h11v5h-11zM1740 1218h14v6h-14zM1740 1224h14v6h-14zM1726 1230h17v5h-17zM1726 1235h17v6h-17zM1726 1241h3v6h-3zM1793 1207h10v6h-10zM1793 1218h10v6h-10zM1779 1224h10v6h-10zM1800 1224h7v6h-7zM1779 1230h7v5h-7zM1800 1230h10v5h-10zM1779 1235h10v6h-10zM1779 1241h3v6h-3zM1198 1292h14v6h-14zM1219 1292h14v6h-14zM1201 1298h7v6h-7zM1208 1304h4v6h-4zM1215 1304h7v6h-7zM1275 1287h7v5h-7zM1282 1298h7v6h-7zM1250 1310h4v5h-4zM1317 1275h11v6h-11zM1303 1292h28v6h-28zM1303 1298h32v6h-32zM1303 1304h18v6h-18zM1367 1298h14v6h-14zM1360 1304h14v6h-14zM1419 1292h11v6h-11zM1416 1298h17v6h-17zM1409 1304h17v6h-17zM1409 1310h3v5h-3zM1490 1287h3v5h-3zM1462 1292h28v6h-28zM1472 1298h21v6h-21zM1462 1310h3v5h-3zM1529 1287h10v5h-10zM1532 1292h11v6h-11zM1532 1298h7v6h-7zM1518 1304h11v6h-11zM1581 1287h11v5h-11zM1567 1292h7v6h-7zM1567 1298h21v6h-21zM1571 1304h14v6h-14zM1620 1292h28v6h-28zM1620 1298h25v6h-25zM1620 1304h11v6h-11zM1620 1310h4v5h-4zM1680 1275h18v6h-18zM1684 1281h10v6h-10zM1694 1292h7v6h-7zM1680 1304h11v6h-11zM1803 1287h7v5h-7zM1803 1298h7v6h-7zM1212 1367h10v5h-10zM1208 1372h7v6h-7zM1198 1378h3v6h-3zM1303 1378h4v6h-4zM1370 1355h7v6h-7zM1356 1361h28v6h-28zM1356 1367h25v5h-25zM1356 1372h11v6h-11zM1433 1355h7v6h-7zM1409 1372h3v6h-3zM1462 1372h3v6h-3zM1571 1361h17v6h-17zM1567 1367h14v5h-14zM1567 1372h7v6h-7zM1641 1355h4v6h-4zM1641 1361h14v6h-14zM1641 1367h11v5h-11zM1638 1372h10v6h-10zM1620 1378h4v6h-4zM1620 1384h4v5h-4zM1740 1344h10v6h-10zM1793 1344h3v6h-3zM1789 1350h11v5h-11zM1796 1372h4v6h-4z"/>
<path fill="#F7B496" d="M1423 54h7v5h-7zM1433 65h7v6h-7zM1691 42h7v6h-7zM1726 59h3v6h-3zM1733 65h7v6h-7zM1779 71h10v6h-10zM1779 77h3v5h-3zM1205 111h17v6h-17zM1208 117h11v5h-11zM1212 122h17v6h-17zM1198 128h31v6h-31zM1233 128h3v6h-3zM1198 134h31v5h-31zM1198 139h17v6h-17zM1219 139h3v6h-3zM1226 139h7v6h-7zM1271 111h4v6h-4zM1261 117h10v5h-10zM1275 134h7v5h-7zM1268 139h7v6h-7zM1578 117h7v5h-7zM1698 134h7v5h-7zM1673 139h4v6h-4zM1198 214h3v5h-3zM1257 179h18v6h-18zM1261 185h7v6h-7zM1282 196h3v6h-3zM1275 208h3v6h-3zM1317 179h11v6h-11zM1317 191h7v5h-7zM1317 196h7v6h-7zM1370 179h11v6h-11zM1472 196h18v6h-18zM1469 202h17v6h-17zM1462 208h17v6h-17zM1462 214h3v5h-3zM1581 179h4v6h-4zM1595 191h4v5h-4zM1571 196h17v6h-17zM1567 202h25v6h-25zM1567 208h11v6h-11zM1567 214h4v5h-4zM1620 214h4v5h-4zM1680 179h7v6h-7zM1684 185h10v6h-10zM1694 196h7v6h-7zM1677 208h7v6h-7zM1740 179h10v6h-10zM1740 191h10v5h-10zM1729 208h14v6h-14zM1796 191h4v5h-4zM1803 202h7v6h-7zM1779 208h10v6h-10zM1268 254h10v5h-10zM1271 265h7v6h-7zM1275 271h7v5h-7zM1271 276h7v6h-7zM1324 259h4v6h-4zM1416 276h10v6h-10zM1645 271h7v5h-7zM1740 248h10v6h-10zM1219 328h3v5h-3zM1257 316h18v6h-18zM1317 333h7v6h-7zM1324 339h11v6h-11zM1303 345h7v6h-7zM1314 345h7v6h-7zM1472 322h11v6h-11zM1462 333h3v6h-3zM1515 333h10v6h-10zM1529 333h14v6h-14zM1539 339h7v6h-7zM1641 333h7v6h-7zM1620 351h4v5h-4zM1684 322h10v6h-10zM1705 333h3v6h-3zM1275 413h10v6h-10zM1469 408h3v5h-3zM1462 413h3v6h-3zM1462 419h3v6h-3zM1515 402h17v6h-17zM1515 408h31v5h-31zM1515 413h10v6h-10zM1515 419h3v6h-3zM1634 396h11v6h-11zM1620 413h4v6h-4zM1620 419h4v6h-4zM1687 385h11v6h-11zM1673 402h14v6h-14zM1673 408h32v5h-32zM1673 413h11v6h-11zM1726 413h3v6h-3zM1736 413h7v6h-7zM1212 465h10v5h-10zM1222 482h4v6h-4zM1275 465h7v5h-7zM1271 470h7v6h-7zM1317 453h11v6h-11zM1370 465h11v5h-11zM1360 482h7v6h-7zM1433 465h7v5h-7zM1409 470h28v6h-28zM1409 476h31v6h-31zM1409 482h17v6h-17zM1476 465h10v5h-10zM1465 470h4v6h-4zM1462 476h10v6h-10zM1469 482h7v6h-7zM1641 470h7v6h-7zM1634 476h11v6h-11zM1624 482h14v6h-14zM1620 488h4v5h-4zM1680 470h21v6h-21zM1680 476h18v6h-18zM1673 482h7v6h-7zM1684 482h7v6h-7zM1733 470h3v6h-3zM1740 470h14v6h-14zM1726 476h17v6h-17zM1733 482h10v6h-10zM1205 522h17v6h-17zM1208 528h11v5h-11zM1219 539h7v6h-7zM1198 556h3v6h-3zM1257 522h18v6h-18zM1261 528h10v5h-10zM1264 533h7v6h-7zM1282 539h7v6h-7zM1328 550h3v6h-3zM1733 522h10v6h-10zM1736 528h11v5h-11zM1317 602h7v5h-7zM1433 602h7v5h-7zM1433 613h4v6h-4zM1476 590h10v6h-10zM1462 607h3v6h-3zM1462 619h3v6h-3zM1726 619h7v6h-7zM1423 670h10v6h-10zM1433 682h7v5h-7zM1419 687h14v6h-14zM1687 670h11v6h-11zM1212 727h10v6h-10zM1317 739h18v5h-18zM1314 756h7v6h-7zM1360 744h7v6h-7zM1356 750h32v6h-32zM1356 756h18v6h-18zM1356 762h4v5h-4zM1740 727h10v6h-10zM1736 733h11v6h-11zM1743 750h14v6h-14zM1726 756h3v6h-3zM1733 756h10v6h-10zM1726 762h3v5h-3zM1215 802h11v5h-11zM1321 824h7v6h-7zM1303 830h4v6h-4zM1592 819h7v5h-7zM1567 824h4v6h-4zM1567 830h4v6h-4zM1282 881h3v6h-3zM1278 893h7v6h-7zM1539 876h7v5h-7zM1515 881h3v6h-3zM1515 887h7v6h-7zM1539 887h7v6h-7zM1515 893h24v6h-24zM1515 899h3v5h-3zM1571 881h17v6h-17zM1567 887h32v6h-32zM1567 893h18v6h-18zM1567 899h4v5h-4zM1631 870h10v6h-10zM1673 881h28v6h-28zM1705 881h3v6h-3zM1677 887h28v6h-28zM1677 893h14v6h-14zM1673 899h4v5h-4zM1803 876h7v5h-7zM1793 881h14v6h-14zM1367 950h3v6h-3zM1370 956h4v5h-4zM1367 961h3v6h-3zM1409 950h3v6h-3zM1419 950h4v6h-4zM1430 950h7v6h-7zM1409 956h14v5h-14zM1409 961h14v6h-14zM1409 967h3v6h-3zM1486 956h7v5h-7zM1462 961h3v6h-3zM1479 961h7v6h-7zM1518 950h4v6h-4zM1529 950h7v6h-7zM1529 956h10v5h-10zM1518 961h7v6h-7zM1515 967h3v6h-3zM1726 950h3v6h-3zM1793 933h10v6h-10zM1789 961h7v6h-7zM1222 1024h7v6h-7zM1370 1013h11v5h-11zM1377 1030h4v6h-4zM1726 1018h10v6h-10zM1726 1024h7v6h-7zM1736 1024h11v6h-11zM1750 1024h7v6h-7zM1726 1030h7v6h-7zM1726 1036h3v5h-3zM1796 1013h4v5h-4zM1779 1018h17v6h-17zM1779 1024h21v6h-21zM1803 1024h7v6h-7zM1779 1030h17v6h-17zM1229 1081h4v6h-4zM1229 1087h4v6h-4zM1419 1093h21v5h-21zM1409 1098h7v6h-7zM1476 1070h10v6h-10zM1479 1087h11v6h-11zM1462 1098h3v6h-3zM1529 1087h7v6h-7zM1532 1093h7v5h-7zM1525 1098h7v6h-7zM1634 1070h11v6h-11zM1634 1081h11v6h-11zM1736 1076h11v5h-11zM1740 1087h7v6h-7zM1747 1093h3v5h-3zM1800 1081h3v6h-3zM1786 1087h21v6h-21zM1793 1093h17v5h-17zM1782 1098h14v6h-14zM1317 1150h11v5h-11zM1317 1155h11v6h-11zM1321 1161h7v6h-7zM1314 1167h7v6h-7zM1356 1161h14v6h-14zM1356 1167h18v6h-18zM1423 1138h10v6h-10zM1426 1167h4v6h-4zM1476 1150h10v5h-10zM1476 1155h14v6h-14zM1479 1161h14v6h-14zM1469 1167h10v6h-10zM1532 1167h7v6h-7zM1736 1167h7v6h-7zM1793 1138h10v6h-10zM1803 1150h7v5h-7zM1810 1155h4v6h-4zM1370 1207h11v6h-11zM1381 1218h7v6h-7zM1433 1218h7v6h-7zM1409 1224h10v6h-10zM1430 1224h7v6h-7zM1409 1230h14v5h-14zM1437 1230h3v5h-3zM1412 1235h7v6h-7zM1472 1224h18v6h-18zM1469 1230h17v5h-17zM1462 1235h17v6h-17zM1529 1207h3v6h-3zM1515 1224h3v6h-3zM1522 1235h3v6h-3zM1620 1241h4v6h-4zM1687 1207h11v6h-11zM1754 1218h3v6h-3zM1786 1207h7v6h-7zM1212 1292h7v6h-7zM1198 1298h3v6h-3zM1208 1298h21v6h-21zM1198 1310h3v5h-3zM1271 1287h4v5h-4zM1250 1292h21v6h-21zM1250 1298h32v6h-32zM1250 1304h14v6h-14zM1303 1310h4v5h-4zM1381 1298h7v6h-7zM1476 1275h10v6h-10zM1476 1287h7v5h-7zM1515 1292h17v6h-17zM1515 1298h17v6h-17zM1529 1304h3v6h-3zM1574 1292h21v6h-21zM1567 1304h4v6h-4zM1796 1275h7v6h-7zM1789 1281h11v6h-11zM1793 1287h10v5h-10zM1796 1304h7v6h-7zM1310 1344h7v6h-7zM1430 1355h3v6h-3zM1585 1344h7v6h-7zM1588 1355h11v6h-11zM1567 1361h4v6h-4zM1588 1361h7v6h-7zM1581 1367h11v5h-11zM1574 1372h11v6h-11zM1634 1344h11v6h-11zM1634 1355h7v6h-7zM1803 1367h7v5h-7zM1800 1372h14v6h-14z"/>
<path fill="#DA6A55" d="M1437 59h7v6h-7zM1687 42h4v6h-4zM1219 117h7v5h-7zM1222 139h4v6h-4zM1264 111h7v6h-7zM1627 111h7v6h-7zM1574 179h7v6h-7zM1599 196h3v6h-3zM1317 248h11v6h-11zM1317 259h7v6h-7zM1634 259h11v6h-11zM1324 328h11v5h-11zM1324 333h7v6h-7zM1462 345h3v6h-3zM1529 316h10v6h-10zM1701 333h4v6h-4zM1529 396h17v6h-17zM1532 402h11v6h-11zM1525 413h7v6h-7zM1476 453h10v6h-10zM1736 470h4v6h-4zM1743 476h4v6h-4zM1419 596h11v6h-11zM1423 602h10v5h-10zM1729 607h4v6h-4zM1409 693h3v6h-3zM1356 744h4v6h-4zM1367 744h17v6h-17zM1317 807h18v6h-18zM1303 813h11v6h-11zM1317 813h14v6h-14zM1303 819h32v5h-32zM1303 824h18v6h-18zM1430 824h3v6h-3zM1423 864h10v6h-10zM1684 876h3v5h-3zM1381 956h7v5h-7zM1476 933h10v6h-10zM1476 944h10v6h-10zM1370 1001h4v6h-4zM1381 1030h3v6h-3zM1747 1013h10v5h-10zM1736 1018h18v6h-18zM1733 1024h3v6h-3zM1747 1024h3v6h-3zM1733 1030h10v6h-10zM1793 1001h10v6h-10zM1796 1018h4v6h-4zM1423 1070h10v6h-10zM1416 1098h3v6h-3zM1803 1081h7v6h-7zM1328 1167h10v6h-10zM1423 1218h10v6h-10zM1433 1230h4v5h-4zM1419 1235h4v6h-4zM1483 1218h10v6h-10zM1462 1224h10v6h-10zM1462 1230h7v5h-7zM1486 1235h4v6h-4zM1198 1304h10v6h-10zM1264 1287h7v5h-7zM1271 1292h7v6h-7zM1581 1344h4v6h-4zM1581 1355h7v6h-7zM1631 1350h10v5h-10zM1652 1367h7v5h-7z"/>
<path fill="#B2182B" d="M1592 202h7v6h-7zM1634 316h11v6h-11zM1529 385h10v6h-10zM1370 739h11v5h-11zM1317 796h11v6h-11zM1314 802h10v5h-10zM1314 813h3v6h-3zM1529 876h10v5h-10zM1687 876h18v5h-18zM1529 933h10v6h-10zM1374 1001h7v6h-7zM1740 1013h7v5h-7zM1423 1235h3v6h-3zM1409 1241h3v6h-3z"/>
<rect x="1830.5" y="1223.94" width="17" height="170.86" fill="#2166AC"/>
<rect x="1830.5" y="1053.08" width="17" height="170.86" fill="#4E9AC7"/>
<rect x="1830.5" y="882.21" width="17" height="170.86" fill="#A4CEE3"/>
<rect x="1830.5" y="711.35" width="17" height="170.86" fill="#E1EDF3"/>
<rect x="1830.5" y="540.49" width="17" height="170.86" fill="#FAE7DC"/>
<rect x="1830.5" y="369.62" width="17" height="170.86" fill="#F7B496"/>
<rect x="1830.5" y="198.76" width="17" height="170.86" fill="#DA6A55"/>
<rect x="1830.5" y="27.9" width="17" height="170.86" fill="#B2182B"/>
</g>
<path d="M1220.3 48.1Q1216.8 48.1 1216 49.5Q1215.1 51 1216 51.7Q1216.8 52.4 1218.6 52.4Q1220.3 52.4 1223.8 52.4M1213.3 53.8Q1216.8 55.2 1218.6 55.2Q1220.3 55.2 1223.8 55.2M1223.8 59.5Q1220.3 59.5 1219.5 60.9Q1218.6 62.3 1219.5 63.8Q1220.3 65.2 1222.1 68M1266.2 59.5Q1269.7 59.5 1273.2 59.5M1317.2 45.2Q1319 48.1 1320.7 45.2M1324.2 62.3Q1326 65.2 1329.5 63.8M1329.5 66.6L1327.7 68M1306.7 73.8L1305 70.9M1370.9 45.2Q1371.8 48.1 1373.6 48.8Q1375.3 49.5 1378.8 49.5M1369.2 45.2L1368.3 48.1M1373.6 45.2Q1375.3 46.7 1378.8 46.7M1371.8 59.5Q1375.3 59.5 1376.2 60.9Q1377.1 62.3 1378.8 65.2M1424.6 60.9Q1428.1 60.9 1430.8 56.6M1424.6 58.1Q1428.1 58.1 1429 56.6M1434.3 56.6Q1435.1 58.1 1436 56.6M1432.5 56.6Q1435.1 60.9 1437.8 56.6M1442.1 57.6Q1438.6 57.6 1437.2 60Q1435.7 62.3 1435.4 63.1Q1435.1 63.8 1432.5 68M1442.1 59.5Q1438.6 59.5 1437.8 60.9Q1436.9 62.3 1436 64.5Q1435.1 66.6 1434.3 68M1442.1 61.4Q1438.6 61.4 1438.4 61.9Q1438.1 62.3 1438.6 65.2M1528.6 62.3Q1530.3 65.2 1532.1 65.2Q1533.8 65.2 1537.3 65.2M1593.6 65.2L1591.9 68M1729.4 62.3L1727.6 65.2M1739.9 68Q1738.1 65.2 1736.4 65.2Q1734.6 65.2 1733.8 66.6Q1732.9 68 1734.6 70.9M1789.2 62.3Q1791 65.2 1792.7 62.3M1805 65.2L1803.2 68M1780.5 70.9Q1784 70.9 1785.7 70.9Q1787.5 70.9 1789.2 73.8M1220.3 116.6Q1218.6 119.5 1219.5 120.9Q1220.3 122.3 1223.8 122.3M1222.1 142.2Q1223.8 139.4 1225.6 142.2M1266.2 116.6Q1269.7 116.6 1271.4 113.8M1271.4 119.5Q1273.2 116.6 1274 113.8M1275.8 113.8L1276.7 116.6M1276.7 133.7L1274.9 136.6M1267.9 142.2Q1269.7 139.4 1273.2 139.4M1313.7 142.2Q1315.5 139.4 1319 139.4M1357.8 133.7Q1361.3 133.7 1363.1 130.8M1382.3 133.7L1380.6 136.6M1429.9 130.8Q1431.6 133.7 1435.1 133.7M1465.2 130.8Q1467 133.7 1467.9 135.1Q1468.7 136.6 1469.6 138Q1470.5 139.4 1472.2 142.2M1475.7 130.8Q1475.7 136.6 1477.5 139.4M1465.2 142.2L1463.5 139.4M1586.6 122.3L1583.1 123.7M1584.9 119.5L1583.1 120.9M1577.9 142.2Q1579.6 139.4 1583.1 139.4M1699.3 133.7L1697.5 136.6M1676.5 142.2L1674.8 139.4M1741.6 128Q1745.1 128 1748.6 128M1729.4 142.2L1727.6 139.4M1736.4 142.2Q1738.1 139.4 1741.6 139.4M1780.5 133.7Q1784 133.7 1785.7 133.7Q1787.5 133.7 1789.2 134.4Q1791 135.1 1792.7 134.4Q1794.5 133.7 1796.2 133.7Q1798 133.7 1801.5 133.7M1789.2 130.8Q1791 132.3 1792.7 130.8M1211.6 182.2Q1213.3 185.1 1216.8 185.1M1223.8 196.5L1220.3 196.5M1220.3 207.9Q1223.8 207.9 1227.3 207.9M1273.2 185.1Q1269.7 185.1 1268.8 186.5Q1267.9 188 1266.2 190.8M1257.4 199.3Q1259.2 202.2 1260.9 202.2Q1262.7 202.2 1264.4 202.2Q1266.2 202.2 1267 203.6Q1267.9 205.1 1267 206.5Q1266.2 207.9 1264.4 207.9Q1262.7 207.9 1261.8 209.3Q1260.9 210.8 1262.7 213.6M1276.7 207.9L1274.9 210.8M1324.2 193.7Q1324.2 199.3 1323.4 200.8Q1322.5 202.2 1320.7 202.2Q1319 202.2 1317.2 199.3M1327.7 193.7L1329.5 196.5M1428.1 185.1L1424.6 185.1M1410.6 202.2Q1414.1 202.2 1415 203.6Q1415.9 205.1 1415 206.5Q1414.1 207.9 1410.6 207.9M1415.9 210.8Q1417.6 207.9 1419.4 207.9Q1421.1 207.9 1424.6 207.9M1477.5 196.5Q1481 196.5 1484.5 196.5M1472.2 199.3Q1470.5 202.2 1469.6 203.6Q1468.7 205.1 1467.9 206.5Q1467 207.9 1463.5 207.9M1518.1 199.3Q1519.8 202.2 1520.7 203.6Q1521.6 205.1 1522.4 206.5Q1523.3 207.9 1525.1 207.9Q1526.8 207.9 1530.3 207.9M1525.1 199.3Q1526.8 202.2 1528.6 202.2Q1530.3 202.2 1532.1 199.3M1535.6 205.1Q1537.3 202.2 1540.8 202.2M1579.6 187Q1583.1 186.5 1585.8 182.2M1579.6 185.1Q1583.1 183.7 1584 182.2M1581.4 182.2L1579.6 183.2M1593.6 190.8Q1590.1 190.8 1589.3 192.2Q1588.4 193.7 1587.5 194.4Q1586.6 195.1 1583.1 195.1M1583.1 197.9Q1586.6 197.9 1587.5 198.6Q1588.4 199.3 1589.3 200.8Q1590.1 202.2 1591.9 201.2Q1593.6 200.3 1597.1 200.3M1595.4 193.7Q1597.1 196.5 1598 199.3M1599.8 193.7L1600.6 194.6M1598 193.7L1600.6 196.5M1600.6 198.4L1599.8 199.3M1570.9 199.3L1569.1 202.2M1591 205.1Q1593.6 202.2 1597.1 202.2M1592.8 205.1Q1593.6 204.1 1597.1 204.1M1577.9 210.8Q1579.6 207.9 1583.1 207.9M1597.1 210L1593.6 210M1597.1 208.6L1593.6 208.6M1597.1 207.2L1593.6 207.2M1597.1 205.8L1593.6 205.8M1586.6 185.1Q1584.9 188 1585.8 189.4Q1586.6 190.8 1587.5 189.4Q1588.4 188 1586.6 185.1M1687 182.2Q1688.8 185.1 1692.3 185.1M1694 199.3L1695.8 202.2M1676.5 210.8Q1678.3 207.9 1680 207.9Q1681.8 207.9 1683.5 210.8M1745.1 185.1L1741.6 185.1M1745.1 190.8L1741.6 190.8M1741.6 196.5Q1745.1 196.5 1748.6 196.5M1729.4 210.8Q1731.1 207.9 1732.9 207.9Q1734.6 207.9 1736.4 207.9Q1738.1 207.9 1741.6 207.9M1801.5 185.1Q1799.7 188 1798.8 188.7Q1798 189.4 1794.5 190.8M1799.7 193.7Q1798 192.2 1797.1 192.9Q1796.2 193.7 1798 196.5M1805 192.2L1804.1 193.7M1805 189.4L1802.3 193.7M1780.5 207.9Q1784 207.9 1785.7 207.9Q1787.5 207.9 1789.2 210.8M1211.6 250.8L1209.8 253.6M1215.1 250.8L1216.8 253.6M1204.6 267.9Q1206.3 270.7 1208.1 270.7Q1209.8 270.7 1210.7 272.1Q1211.6 273.6 1213.3 276.4M1215.1 273.6Q1216.8 270.7 1218.6 267.9M1273.2 259.3L1269.7 259.3M1273.2 265Q1271.4 267.9 1272.3 269.3Q1273.2 270.7 1274 272.1Q1274.9 273.6 1273.2 276.4M1319 266.4Q1322.5 266.4 1324.2 265.7Q1326 265 1326.9 262.1M1319 263.6Q1322.5 263.6 1324.2 262.1M1328.6 262.1L1329.5 265M1329.5 270.7L1327.7 273.6M1306.7 279.2L1305 276.4M1371.8 265Q1375.3 265 1376.2 266.4Q1377.1 267.9 1377.9 269.3Q1378.8 270.7 1380.6 273.6M1357.8 270.7Q1361.3 270.7 1363.1 270.7Q1364.8 270.7 1366.6 270.7Q1368.3 270.7 1370.1 270.7Q1371.8 270.7 1373.6 273.6M1412.4 267.9L1410.6 270.7M1435.1 270.7L1434.6 273.6M1434.3 267.9L1433.4 273.6M1432.5 267.9L1432.2 273.6M1412.4 279.2L1410.6 276.4M1415.9 279.2Q1417.6 276.4 1419.4 276.4Q1421.1 276.4 1424.6 276.4M1488 270.7L1486.2 273.6M1465.2 279.2L1463.5 276.4M1475.7 279.2Q1477.5 276.4 1479.2 275.7Q1481 275 1484.5 276.4M1479.2 279.2Q1481 277.8 1482.7 279.2M1533.8 255L1530.3 255M1533.8 252.2L1530.3 252.2M1533.8 257.9L1530.3 257.9M1533.8 260.7L1530.3 260.7M1530.3 265Q1533.8 265 1537.3 265M1540.8 270.7L1539.1 273.6M1569.1 270.7Q1572.6 270.7 1573.5 272.1Q1574.4 273.6 1575.3 275Q1576.1 276.4 1577.9 279.2M1570.9 279.2L1569.1 276.4M1636 266.4Q1639.5 266.4 1641.2 266.4Q1643 266.4 1645.6 262.1M1636 263.6Q1639.5 263.6 1641.2 263.6Q1643 263.6 1643.8 262.1M1637.7 273.6Q1636 270.7 1635.1 272.1Q1634.2 273.6 1636 276.4M1646.5 270.7L1644.7 273.6M1688.8 265Q1692.3 265 1695.8 263.6M1695.8 266.4Q1694 267.9 1694.9 269.3Q1695.8 270.7 1697.5 273.6M1674.8 270.7Q1678.3 270.7 1680 267.9M1674.8 276.4Q1678.3 276.4 1681.8 276.4M1792.7 250.8L1791 253.6M1801.5 265Q1805 265 1805.8 266.4Q1806.7 267.9 1808.5 270.7M1785.7 267.9Q1787.5 270.7 1789.2 270.7Q1791 270.7 1792.7 267.9M1796.2 267.9Q1798 270.7 1799.7 270.7Q1801.5 270.7 1802.3 272.1Q1803.2 273.6 1802.3 275Q1801.5 276.4 1799.7 275.7Q1798 275 1796.2 275.7Q1794.5 276.4 1792.7 279.2M1796.2 279.2Q1798 277.8 1799.7 279.2M1222.1 330.6L1220.3 333.5M1199.3 339.2Q1201.1 342 1199.3 344.9M1262.7 323.5Q1266.2 323.5 1269.7 323.5M1262.7 320.7Q1266.2 320.7 1269.7 320.7M1276.7 339.2Q1274.9 342 1274 342.5Q1273.2 343 1270.2 347.8M1253.9 347.8L1252.2 344.9M1272.6 347.8Q1273.2 346.8 1276.7 346.3M1271.4 347.8Q1273.2 344.9 1276.7 343.5M1312 319.8Q1315.5 319.8 1317.2 319.2M1312 321Q1315.5 321 1317.2 320.5Q1319 320 1320.7 320Q1322.5 320 1326 320M1312 322.2Q1315.5 322.2 1317.2 321.8Q1319 321.4 1320.7 321.4Q1322.5 321.4 1326 321.4M1312 323.3Q1315.5 323.3 1317.2 323.1Q1319 322.9 1320.7 322.9Q1322.5 322.9 1326 322.9M1312 324.5Q1315.5 324.5 1317.2 324.4Q1319 324.4 1320.7 324.4Q1322.5 324.4 1326 324.4M1317.2 336.3Q1319 339.2 1320.7 339.2Q1322.5 339.2 1324.2 342M1324.2 336.3Q1326 339.2 1329.5 339.2M1305 344.9Q1308.5 344.9 1310.2 347.8M1313.7 347.8Q1315.5 344.9 1319 344.9M1370.1 336.3Q1368.3 339.2 1366.6 339.2Q1364.8 339.2 1363.9 340.6Q1363.1 342 1362.2 343.5Q1361.3 344.9 1357.8 344.9M1433.4 330.6L1435.1 333.5M1435.1 339.2L1433.4 342M1481 322.1L1477.5 322.1M1481 327.8L1477.5 327.8M1488 333.5Q1484.5 333.5 1483.6 334.9Q1482.7 336.3 1483.6 337.8Q1484.5 339.2 1486.2 342M1465.2 336.3L1463.5 339.2M1466.1 347.8L1463.5 343.5M1464.4 347.8L1463.5 346.3M1530.3 320.8Q1533.8 320.8 1537.3 320.8M1530.3 323.8Q1533.8 323.8 1537.3 323.8M1530.3 329.9Q1533.8 329.9 1537.3 329.9M1530.3 328.5Q1533.8 328.5 1537.3 328.5M1530.3 327Q1533.8 327 1537.3 327M1530.3 325.5Q1533.8 325.5 1537.3 325.5M1530.3 333.5Q1533.8 333.5 1537.3 333.5M1516.3 339.2Q1519.8 339.2 1521.6 339.2Q1523.3 339.2 1525.1 336.3M1528.6 336.3Q1530.3 339.2 1532.1 339.2Q1533.8 339.2 1535.6 339.2Q1537.3 339.2 1539.1 342M1574.4 336.3Q1576.1 339.2 1577 340.6Q1577.9 342 1578.8 343.5Q1579.6 344.9 1583.1 344.9M1581.4 336.3Q1583.1 339.2 1584.9 339.2Q1586.6 339.2 1590.1 340.6M1588.4 336.3L1590.1 337.8M1641.2 336.3L1643 339.2M1627.2 347.8Q1629 344.9 1630.7 344.9Q1632.5 344.9 1636 344.9M1692.3 322.1L1688.8 322.1M1692.3 327.8L1688.8 327.8M1704.5 330.6L1706.3 332.1M1706.3 334.9Q1702.8 332.1 1701.5 334.2Q1700.2 336.3 1702.8 340.6M1704.5 336.3Q1702.8 334.9 1702.4 335.6Q1701.9 336.3 1702.8 337.8M1676.5 336.3Q1678.3 339.2 1680 339.2Q1681.8 339.2 1682.7 340.6Q1683.5 342 1684.4 343.5Q1685.3 344.9 1687 344.9Q1688.8 344.9 1690.5 344.9Q1692.3 344.9 1694 344.9Q1695.8 344.9 1697.5 344.9Q1699.3 344.9 1702.8 344.9M1729.4 336.3L1727.6 339.2M1746.9 336.3L1746.9 342M1729.4 347.8L1727.6 344.9M1791 320.7Q1794.5 320.7 1798 320.7M1791 323.5Q1794.5 323.5 1798 323.5M1798 327.8L1794.5 327.8M1789.2 336.3Q1789.2 342 1789.2 347.8M1805 339.2Q1803.2 342 1803.2 347.8M1794.5 344.9L1792.7 347.8M1266.2 402Q1269.7 402 1271.4 399.1M1276.7 407.7L1274.9 410.5M1252.2 413.4Q1255.7 413.4 1257.4 413.4Q1259.2 413.4 1260.9 416.2M1280.2 413.4L1276.7 413.4M1324.2 404.8L1326 407.7M1313.7 416.2Q1315.5 413.4 1319 413.4M1371.8 402Q1375.3 402 1378.8 402M1382.3 407.7L1380.6 410.5M1359.6 416.2L1357.8 413.4M1424.6 402Q1428.1 402 1429.9 399.1M1422.9 404.8Q1424.6 407.7 1426.4 407.7Q1428.1 407.7 1429.9 407.7Q1431.6 407.7 1435.1 406.3M1435.1 409.1L1433.4 410.5M1410.6 413.4Q1414.1 413.4 1415.9 413.4Q1417.6 413.4 1419.4 416.2M1422.9 416.2Q1424.6 413.4 1426.4 413.4Q1428.1 413.4 1429.9 416.2M1477.5 402Q1481 402 1484.5 402M1475.7 404.8Q1477.5 407.7 1479.2 407.7Q1481 407.7 1482.7 407.7Q1484.5 407.7 1485.4 409.1Q1486.2 410.5 1484.5 413.4M1465.2 416.2L1463.5 413.4M1472.2 416.2Q1474 413.4 1477.5 413.4M1488 414.8L1487.1 416.2M1488 412L1485.4 416.2M1470.5 407.7Q1468.7 410.5 1469.6 412Q1470.5 413.4 1471.4 412Q1472.2 410.5 1470.5 407.7M1530.3 402Q1532.1 404.8 1532.9 406.3Q1533.8 407.7 1535.6 407.7Q1537.3 407.7 1540.8 407.7M1525.1 416.2Q1526.8 413.4 1530.3 413.4M1583.1 402Q1586.6 402 1588.4 402Q1590.1 402 1593.6 402M1593.6 407.7L1591.9 410.5M1636 402Q1639.5 402 1643 402M1623.7 416.2L1622 413.4M1692.3 392.5L1688.8 392.5M1692.3 390.6L1688.8 390.6M1692.3 388.7L1688.8 388.7M1692.3 394.9L1688.8 394.9M1692.3 397.7L1688.8 397.7M1687 404.8Q1688.8 407.7 1690.5 407.7Q1692.3 407.7 1694 407.7Q1695.8 407.7 1699.3 407.7M1683.5 416.2Q1685.3 413.4 1688.8 413.4M1739.9 387.8L1738.1 390.6M1743.4 387.8L1745.1 390.6M1741.6 402Q1745.1 402 1746.9 402Q1748.6 402 1749.5 403.4Q1750.4 404.8 1750.4 410.5M1727.6 407.7Q1731.1 407.7 1732.9 407.7Q1734.6 407.7 1736.4 407.7Q1738.1 407.7 1739 409.1Q1739.9 410.5 1741.6 412M1729.4 416.2L1727.6 413.4M1736.4 416.2Q1738.1 413.4 1741.6 414.8M1791 390.6Q1794.5 390.6 1798 390.6M1805 402Q1801.5 402 1800.6 403.4Q1799.7 404.8 1800.6 406.3Q1801.5 407.7 1805 407.7M1782.2 416.2L1780.5 413.4M1213.3 464.8Q1216.8 464.8 1218.6 464.8Q1220.3 464.8 1221.2 466.2Q1222.1 467.6 1221.2 469.1Q1220.3 470.5 1218.6 470.5Q1216.8 470.5 1213.3 470.5M1215.1 479Q1213.3 476.2 1211.6 476.2Q1209.8 476.2 1208.1 476.2Q1206.3 476.2 1205.5 477.6Q1204.6 479 1205.5 480.5Q1206.3 481.9 1208.1 484.8M1223.8 476.2L1222.1 479M1227.3 481.9L1223.8 480.5M1225.6 484.8L1223.8 483.3M1262.7 459.1Q1266.2 459.1 1269.7 459.1M1269.7 464.8L1266.2 464.8M1266.2 470.5Q1269.7 470.5 1271.4 467.6M1274.9 467.6Q1273.2 470.5 1272.3 471.9Q1271.4 473.3 1273.2 476.2M1257.4 473.3Q1259.2 476.2 1260.9 476.2Q1262.7 476.2 1264.4 473.3M1322.5 460.5L1319 460.5M1322.5 457.7L1319 457.7M1322.5 464.8L1319 464.8M1324.2 467.6Q1326 470.5 1327.7 467.6M1329.5 476.2L1327.7 479M1371.8 470.5Q1375.3 470.5 1378.8 470.5M1382.3 476.2L1380.6 479M1359.6 484.8Q1361.3 481.9 1363.1 481.9Q1364.8 481.9 1366.6 484.8M1424.6 470.5Q1428.1 470.5 1429.9 470.5Q1431.6 470.5 1433.4 467.6M1477.5 470.5Q1481 470.5 1484.5 470.5M1465.2 473.3L1463.5 476.2M1468.7 473.3Q1470.5 476.2 1471.4 477.6Q1472.2 479 1473.1 480.5Q1474 481.9 1475.7 484.8M1465.2 484.8L1463.5 483.3M1463.5 480.5Q1467 481.9 1468.7 484.8M1540.8 476.2L1539.1 479M1518.1 484.8L1516.3 481.9M1590.1 476.2L1588.4 479M1570.9 484.8L1569.1 481.9M1641.2 473.3Q1639.5 476.2 1637.7 476.2Q1636 476.2 1635.1 477.6Q1634.2 479 1633.3 480.5Q1632.5 481.9 1630.7 481.9Q1629 481.9 1627.2 481.9Q1625.5 481.9 1623.7 484.8M1680 473.3Q1680 479 1679.2 480.5Q1678.3 481.9 1674.8 481.9M1680 484.8Q1681.8 481.9 1683.5 484.8M1727.6 476.2Q1731.1 476.2 1732.9 473.3M1736.4 473.3Q1738.1 476.2 1739.9 473.3M1743.4 479Q1745.1 476.2 1746 479M1747.8 479Q1748.6 476.2 1752.1 476.2M1727.6 481.9Q1731.1 481.9 1732.9 484.8M1792.7 456.2L1791 459.1M1794.5 464.8Q1798 464.8 1801.5 464.8M1220.3 529.5L1219.7 530.4M1220.3 527.6L1218.6 530.4M1220.3 525.7L1217.4 530.4M1215.1 547.5Q1216.8 544.7 1220.3 546.1M1218.6 541.9L1220.3 543.3M1201.1 553.2L1199.3 551.8M1199.3 549Q1202.8 550.4 1204.6 550.4Q1206.3 550.4 1208.1 550.4Q1209.8 550.4 1213.3 550.4M1266.2 539Q1269.7 539 1271.4 536.1M1287.2 544.7L1283.7 544.7M1319 539Q1322.5 539 1324.2 539Q1326 539 1329.5 539M1329.5 544.7Q1327.7 547.5 1329.5 548.5M1320.7 553.2Q1322.5 550.4 1324.2 550.4Q1326 550.4 1329.5 550.4M1329.5 552.3L1327.7 553.2M1375.3 525.7L1371.8 525.7M1375.3 527.6L1371.8 527.6M1375.3 529.5L1371.8 529.5M1375.3 534.7L1371.8 534.7M1375.3 531.9L1371.8 531.9M1371.8 539Q1375.3 539 1377.1 539Q1378.8 539 1380.6 536.1M1382.3 544.7L1380.6 547.5M1424.6 537.6Q1428.1 537.6 1429.9 538.3Q1431.6 539 1433.4 536.1M1424.6 540.4Q1428.1 540.4 1429 541.1Q1429.9 541.9 1430.8 543.3Q1431.6 544.7 1435.1 544.7M1410.6 544.7Q1414.1 544.7 1415.9 544.7Q1417.6 544.7 1419.4 544.7Q1421.1 544.7 1422 546.1Q1422.9 547.5 1424.6 550.4M1477.5 539Q1481 539 1484.5 539M1472.2 541.9Q1470.5 544.7 1469.6 546.1Q1468.7 547.5 1469.6 549Q1470.5 550.4 1472.2 550.4Q1474 550.4 1477.5 550.4M1518.1 541.9Q1519.8 544.7 1521.6 541.9M1569.1 544.7Q1572.6 544.7 1574.4 541.9M1569.7 553.2L1569.1 552.3M1570.9 553.2L1569.1 550.4M1572.1 553.2L1569.1 548.5M1576.1 550.4L1574.4 553.2M1643 539Q1641.2 541.9 1643 544.7M1630.7 553.2Q1632.5 550.4 1636 550.4M1688.8 539Q1692.3 539 1694 539Q1695.8 539 1696.7 536.1M1698.4 536.1L1699.3 539M1694 547.5Q1692.3 544.7 1690.5 544.7Q1688.8 544.7 1687 544.7Q1685.3 544.7 1684.4 546.1Q1683.5 547.5 1684.4 549Q1685.3 550.4 1688.8 550.4M1680 553.2Q1681.8 550.4 1683.5 553.2M1744.5 524.8L1745.1 525.7M1743.4 524.8L1745.1 527.6M1742.2 524.8L1745.1 529.5M1745.1 535.2L1741.6 535.2M1745.1 533.3L1741.6 533.3M1745.1 531.4L1741.6 531.4M1741.6 539Q1745.1 539 1746.9 538.3Q1748.6 537.6 1752.1 537.6M1752.1 540.4Q1748.6 540.4 1747.8 541.1Q1746.9 541.9 1748.6 544.7M1729.4 541.9Q1731.1 544.7 1732.9 544.7Q1734.6 544.7 1736.4 544.7Q1738.1 544.7 1739 546.1Q1739.9 547.5 1739 549Q1738.1 550.4 1736.4 550.4Q1734.6 550.4 1732.9 553.2M1794.5 539Q1798 539 1799.7 539Q1801.5 539 1805 539M1785.7 541.9Q1787.5 544.7 1789.2 544.7Q1791 544.7 1792.7 541.9M1782.2 553.2Q1784 550.4 1785.7 550.4Q1787.5 550.4 1789.2 553.2M1201.1 610.4Q1201.1 616 1201.1 621.8M1260.9 610.4Q1262.7 613.2 1264.4 613.2Q1266.2 613.2 1267.9 613.2Q1269.7 613.2 1273.2 613.2M1322.5 596.1L1319 596.1M1322.5 599.9L1319 599.9M1322.5 601.8L1319 601.8M1322.5 603.7L1319 603.7M1319 607.5Q1322.5 607.5 1323.4 604.6M1325.1 604.6Q1326 607.5 1329.5 608.9M1327.7 604.6L1329.5 606.1M1320.7 621.8Q1322.5 618.9 1326 618.9M1363.1 610.4Q1364.8 613.2 1366.6 613.2Q1368.3 613.2 1369.2 614.6Q1370.1 616 1371.8 618.9M1377.1 616Q1378.8 613.2 1382.3 613.2M1428.1 594.2L1424.6 594.2M1428.1 596.1L1424.6 596.1M1428.1 598L1424.6 598M1424.6 609.4Q1428.1 609.4 1429 609.9Q1429.9 610.4 1430.8 611.8Q1431.6 613.2 1432.5 616M1424.6 607.5Q1428.1 607.5 1429.9 608.2Q1431.6 608.9 1435.1 607.5M1424.6 605.6Q1428.1 605.6 1429.9 605.8Q1431.6 606.1 1433.4 604.6M1435.1 613.2L1434.3 616M1415.9 621.8Q1417.6 618.9 1419.4 618.9Q1421.1 618.9 1424.6 618.9M1438.6 618.9L1436.9 621.8M1436.9 616L1435.1 618.9M1481 596.1L1477.5 596.1M1481 603.2L1477.5 603.2M1481 600.4L1477.5 600.4M1477.5 606.1Q1481 607.5 1482.7 607.5Q1484.5 607.5 1486.2 604.6M1477.5 608.9Q1479.2 610.4 1478.4 611.8Q1477.5 613.2 1475.7 613.2Q1474 613.2 1473.1 614.6Q1472.2 616 1471.4 617.5Q1470.5 618.9 1468.7 618.9Q1467 618.9 1466.1 621.8M1465.2 610.4L1463.5 613.2M1488 613.2L1486.2 616M1464.4 621.8L1463.5 618.9M1516.3 613.2Q1519.8 613.2 1520.7 614.6Q1521.6 616 1522.4 617.5Q1523.3 618.9 1525.1 618.9Q1526.8 618.9 1530.3 618.9M1583.1 607.5Q1584.9 610.4 1585.8 611.8Q1586.6 613.2 1588.4 616M1593.6 613.2L1591.9 616M1623.7 621.8Q1625.5 618.9 1627.2 618.9Q1629 618.9 1630.7 621.8M1728.5 610.4Q1731.1 614.6 1733.8 610.4M1730.3 610.4Q1731.1 611.8 1732 610.4M1736.4 610.4Q1734.6 613.2 1733.8 614.6Q1732.9 616 1732.4 621.8M1727.6 618.9Q1731.1 618.9 1731.6 621.8M1734.2 621.8Q1734.6 620.3 1736.4 620.3Q1738.1 620.3 1741.6 620.3M1733.3 621.8Q1734.6 617.5 1736.4 617.5Q1738.1 617.5 1741.6 617.5M1789.2 610.4Q1787.5 613.2 1786.6 614.6Q1785.7 616 1784.8 617.5Q1784 618.9 1782.2 621.8M1805 613.2L1803.2 616M1216.8 670.3L1213.3 670.3M1213.3 676Q1216.8 676 1220.3 676M1220.3 681.7L1218.6 684.5M1260.9 690.2Q1262.7 687.4 1266.2 687.4M1319 676Q1322.5 676 1326 676M1329.5 681.7L1327.7 684.5M1371.8 676Q1375.3 676 1378.8 674.6M1378.8 677.4Q1377.1 678.9 1377.9 680.3Q1378.8 681.7 1382.3 681.7M1366.6 690.2Q1368.3 687.4 1371.8 687.4M1428.1 668.9L1424.6 668.9M1428.1 671.7L1424.6 671.7M1424.6 677.4Q1428.1 677.4 1429.9 676.7Q1431.6 676 1434.3 673.1M1424.6 674.6Q1428.1 674.6 1429.9 674.3Q1431.6 674.1 1432.5 673.1M1435.1 676Q1431.6 677.9 1430.8 678.4Q1429.9 678.9 1430.8 680.3Q1431.6 681.7 1435.1 679.8M1435.1 681.7Q1432.5 684.5 1432.1 685.3Q1431.6 686 1429.9 686Q1428.1 686 1426.4 686Q1424.6 686 1422.9 686Q1421.1 686 1419.4 686.7Q1417.6 687.4 1415.9 687.4Q1414.1 687.4 1410.6 687.4M1435.1 683.6Q1434.3 684.5 1434.7 685.3Q1435.1 686 1438.6 686M1419.4 690.2Q1421.1 688.8 1422.9 688.8Q1424.6 688.8 1426.4 688.8Q1428.1 688.8 1429.9 688.8Q1431.6 688.8 1432.5 690.2M1434.3 690.2Q1435.1 688.8 1438.6 688.8M1477.5 676Q1481 676 1481.9 677.4Q1482.7 678.9 1481.9 680.3Q1481 681.7 1479.2 681.7Q1477.5 681.7 1475.7 678.9M1486.2 673.1L1488 676M1488 681.7L1486.2 684.5M1530.3 676Q1533.8 676 1537.3 676M1532.1 684.5Q1530.3 681.7 1528.6 681.7Q1526.8 681.7 1525.1 681.7Q1523.3 681.7 1522.4 683.1Q1521.6 684.5 1520.7 686Q1519.8 687.4 1518.1 690.2M1636 674.6Q1639.5 674.6 1643 674.6M1636 677.4Q1639.5 677.4 1643 677.4M1688.8 677.4Q1690.5 678.9 1691.4 680.3Q1692.3 681.7 1695.8 681.7M1688.8 674.6Q1692.3 676 1695.8 676M1676.5 690.2L1674.8 687.4M1729.4 678.9L1727.6 681.7M1736.4 678.9Q1738.1 681.7 1739 683.1Q1739.9 684.5 1739 685.3Q1738.1 686 1736.4 686.7Q1734.6 687.4 1732.9 687.4Q1731.1 687.4 1727.6 687.4M1743.4 678.9Q1745.1 681.7 1746.9 678.9M1736.4 690.2Q1738.1 688.8 1741.6 687.4M1201.1 758.8L1199.3 755.9M1267.9 747.4Q1269.7 750.2 1273.2 750.2M1253.9 758.8L1252.2 755.9M1319 744.5Q1322.5 744.5 1324.2 744.5Q1326 744.5 1329.5 744.5M1329.5 750.2L1327.7 753M1313.7 758.8Q1315.5 755.9 1319 755.9M1371.8 744.5Q1375.3 744.5 1378.8 744.5M1359.6 747.4L1357.8 750.2M1366.6 747.4Q1368.3 750.2 1370.1 750.2Q1371.8 750.2 1373.6 750.2Q1375.3 750.2 1377.1 750.2Q1378.8 750.2 1382.3 750.2M1422.9 747.4Q1421.1 750.2 1419.4 750.2Q1417.6 750.2 1416.8 751.6Q1415.9 753 1415 753.8Q1414.1 754.5 1410.6 755.9M1412.4 758.8Q1414.1 757.3 1415.9 758.8M1481 733.1L1477.5 733.1M1482.7 747.4Q1482.7 753 1481.9 753.8Q1481 754.5 1479.2 755.2Q1477.5 755.9 1475.7 755.9Q1474 755.9 1472.2 755.9Q1470.5 755.9 1468.7 758.8M1488 751.6L1487.1 753M1488 748.8L1485.4 753M1465.2 758.8L1463.5 755.9M1479.2 758.8Q1481 757.3 1484.5 755.9M1518.1 758.8L1516.3 755.9M1577.9 747.4Q1576.1 750.2 1575.3 751.6Q1574.4 753 1575.3 754.5Q1576.1 755.9 1577.9 758.8M1581.4 747.4Q1581.4 753 1583.1 755.9M1588.4 747.4L1590.1 750.2M1570.9 758.8L1569.1 755.9M1643 744.5Q1641.2 747.4 1642.1 748.8Q1643 750.2 1644.7 747.4M1648.2 747.4L1648.2 753M1653.5 751.6L1652.6 753M1653.5 748.8L1650.8 753M1623.7 758.8Q1625.5 755.9 1627.2 755.9Q1629 755.9 1630.7 755.9Q1632.5 755.9 1634.2 755.9Q1636 755.9 1637.7 755.9Q1639.5 755.9 1641.2 755.9Q1643 755.9 1646.5 755.9M1680 753Q1681.8 751.6 1684.4 747.4M1680 747.4Q1681.8 748.8 1682.7 747.4M1678.3 755.9L1674.8 755.9M1743.4 753Q1745.1 750.2 1746.9 750.9Q1748.6 751.6 1752.1 750.2M1746.9 747.4Q1748.6 748.8 1750.4 747.4M1729.4 758.8L1727.6 755.9M1732.9 758.8Q1734.6 755.9 1736.4 755.9Q1738.1 755.9 1741.6 755.9M1792.7 730.2L1791 733.1M1798 738.8L1794.5 738.8M1799.7 741.6Q1801.5 743.1 1805 743.1M1805 745.9Q1801.5 745.9 1800.6 746.6Q1799.7 747.4 1800.6 748.8Q1801.5 750.2 1805 750.2M1782.2 747.4Q1784 750.2 1785.7 750.2Q1787.5 750.2 1789.2 750.2Q1791 750.2 1792.7 747.4M1782.2 758.8L1780.5 755.9M1220.3 801.6L1216.8 801.6M1216.8 807.3Q1220.3 807.3 1223.8 807.3M1213.3 813Q1216.8 813 1217.7 814.4Q1218.6 815.9 1220.3 818.7M1201.1 815.9Q1201.1 821.5 1201.1 827.2M1208.1 827.2Q1209.8 824.4 1213.3 824.4M1266.2 813Q1269.7 813 1273.2 813M1322.5 807.3L1319 807.3M1313.7 815.9Q1315.5 818.7 1317.2 815.9M1320.7 827.2Q1322.5 824.4 1326 824.4M1375.3 801.6L1371.8 801.6M1363.1 815.9Q1364.8 818.7 1365.7 820.1Q1366.6 821.5 1367.4 823Q1368.3 824.4 1371.8 824.4M1382.3 818.7L1380.6 821.5M1359.6 827.2L1357.8 824.4M1423.8 798.8Q1424.6 800.2 1428.1 800.2M1422 798.8Q1424.6 803 1428.1 803M1428.1 808.7L1424.6 808.7M1428.1 805.9L1424.6 805.9M1424.6 811.6Q1428.1 811.6 1429.9 811.6Q1431.6 811.6 1432.5 810.1M1424.6 814.4Q1428.1 814.4 1429.9 814.4Q1431.6 814.4 1434.3 810.1M1412.4 815.9L1410.6 818.7M1419.4 815.9Q1421.1 818.7 1422.9 815.9M1435.1 820.1Q1434.3 821.5 1434.7 822Q1435.1 822.5 1435.7 821.5M1435.1 817.3Q1432.5 821.5 1433.8 823Q1435.1 824.4 1436.9 821.5M1412.4 827.2Q1414.1 824.4 1415.9 824.4Q1417.6 824.4 1419.4 824.4Q1421.1 824.4 1424.6 824.4M1431.6 822.5Q1435.1 826.3 1438.1 821.5M1434.3 827.2L1431.6 824.4M1432.5 827.2L1431.6 826.3M1440.4 821.5L1442.1 824.4M1477.5 813Q1481 813 1484.5 813M1475.7 815.9Q1474 818.7 1473.1 820.1Q1472.2 821.5 1472.2 827.2M1516.3 818.7Q1519.8 818.7 1521.6 815.9M1535.6 815.9Q1537.3 818.7 1540.8 817.3M1540.8 820.1L1539.1 821.5M1518.1 827.2Q1519.8 824.4 1521.6 824.4Q1523.3 824.4 1525.1 827.2M1528.6 827.2Q1530.3 824.4 1532.1 823.7Q1533.8 823 1537.3 823M1532.1 827.2Q1533.8 825.8 1537.3 825.8M1583.1 813Q1586.6 813 1590.1 813M1569.1 818.7Q1572.6 818.7 1574.4 815.9M1593.6 818.7L1591.9 821.5M1570.9 827.2L1569.1 824.4M1641.2 821.5Q1643 818.7 1644.7 821.5M1630.7 827.2Q1632.5 824.4 1636 824.4M1688.8 813Q1692.3 813 1694 813Q1695.8 813 1699.3 813M1674.8 824.4Q1678.3 824.4 1680 824.4Q1681.8 824.4 1683.5 827.2M1736.4 815.9Q1734.6 818.7 1733.8 820.1Q1732.9 821.5 1732 823Q1731.1 824.4 1727.6 824.4M1743.4 815.9L1745.1 818.7M1792.7 798.8L1791 801.6M1789.2 827.2Q1791 824.4 1792.7 824.4Q1794.5 824.4 1796.2 827.2M1799.7 827.2Q1801.5 824.4 1803.2 827.2M1209.8 870.1Q1213.3 870.1 1215.1 867.2M1220.3 870.1Q1218.6 872.9 1220.3 875.8M1220.3 881.5Q1218.6 884.4 1219.5 885.8Q1220.3 887.2 1223.8 887.2M1201.1 884.4L1199.3 887.2M1201.1 895.8Q1202.8 892.9 1204.6 895.8M1208.1 895.8Q1209.8 892.9 1213.3 892.9M1269.7 870.1Q1267.9 872.9 1266.2 875.8M1283.7 880.1Q1281 884.4 1280.6 885.8Q1280.2 887.2 1278.4 887.2Q1276.7 887.2 1274.9 887.2Q1273.2 887.2 1272.3 888.6Q1271.4 890 1270.5 891.5Q1269.7 892.9 1267.9 895.8M1283.7 882.9Q1282.8 884.4 1283.7 887.2M1257.4 884.4Q1255.7 887.2 1254.8 888.6Q1253.9 890 1253.9 895.8M1278.4 895.8Q1280.2 892.9 1283.7 892.9M1327.7 878.6L1329.5 881.5M1306.7 884.4Q1306.7 890 1307.6 891.5Q1308.5 892.9 1310.2 892.9Q1312 892.9 1313.7 895.8M1371.8 881.5Q1375.3 881.5 1376.2 882.9Q1377.1 884.4 1377.9 885.8Q1378.8 887.2 1380.6 890M1366.6 895.8Q1368.3 892.9 1371.8 892.9M1424.6 881.5Q1428.1 881.5 1431.6 881.5M1437.8 884.4L1438.6 885.8M1436 884.4L1438.6 888.6M1465.2 884.4L1463.5 887.2M1472.2 895.8Q1474 892.9 1477.5 892.9M1530.3 883.6Q1533.8 883.6 1535.6 883.6Q1537.3 883.6 1538.2 884Q1539.1 884.4 1538.2 885.8Q1537.3 887.2 1535.6 887.2Q1533.8 887.2 1532.1 887.2Q1530.3 887.2 1528.6 884.4M1530.3 882.2Q1533.8 882.2 1535.6 882.2Q1537.3 882.2 1540.8 881.5M1530.3 880.8Q1533.8 880.8 1535.6 880.8Q1537.3 880.8 1539.9 878.6M1530.3 879.4Q1533.8 879.4 1535.6 879.4Q1537.3 879.4 1538.2 878.6M1518.1 884.4Q1519.8 887.2 1520.7 888.6Q1521.6 890 1522.4 891.5Q1523.3 892.9 1525.1 892.9Q1526.8 892.9 1528.6 892.9Q1530.3 892.9 1532.1 892.9Q1533.8 892.9 1535.6 892.9Q1537.3 892.9 1538.2 895.8M1540.8 887.2Q1539.1 890 1539.9 890.8Q1540.8 891.5 1542.6 891.5Q1544.3 891.5 1545.2 890M1539.9 895.8Q1540.8 894.3 1542.6 894.3Q1544.3 894.3 1546.9 890M1570.9 884.4L1569.1 887.2M1588.4 884.4Q1590.1 887.2 1593.6 887.2M1636 870.1Q1639.5 870.1 1640.3 872.9M1643 870.1L1642.1 872.9M1641.2 884.4Q1643 887.2 1646.5 887.2M1685.3 873.7Q1688.8 873.5 1692.3 873.5M1685.3 875.1Q1688.8 874.7 1692.3 874.7M1685.3 876.5Q1688.8 875.8 1692.3 875.8M1685.3 877.9Q1688.8 876.9 1692.3 876.9M1692.3 878.1Q1688.8 878.1 1687.9 878.4Q1687 878.6 1687.9 879.4Q1688.8 880.1 1690.5 880.1Q1692.3 880.1 1694 880.1Q1695.8 880.1 1699.3 880.1M1685.3 881.5Q1688.8 882.9 1690.5 882.9Q1692.3 882.9 1694 882.9Q1695.8 882.9 1699.3 882.9M1674.8 887.2Q1676.5 890 1676.5 895.8M1699.3 894.3L1695.8 894.3M1699.3 891.5L1695.8 891.5M1729.4 884.4L1727.6 887.2M1743.4 884.4Q1741.6 887.2 1739.9 887.2Q1738.1 887.2 1736.4 887.2Q1734.6 887.2 1733.8 888.6Q1732.9 890 1732 891.5Q1731.1 892.9 1729.4 895.8M1794.5 880.1Q1798 880.1 1799.7 880.1Q1801.5 880.1 1802.3 878.6M1794.5 882.9Q1798 882.9 1799.7 882.9Q1801.5 882.9 1804.1 878.6M1782.2 884.4Q1784 887.2 1785.7 887.2Q1787.5 887.2 1789.2 887.2Q1791 887.2 1791.8 884.4M1793.6 884.4Q1794.5 887.2 1796.2 887.2Q1798 887.2 1799.7 887.2Q1801.5 887.2 1805 885.8M1805 888.6Q1803.2 890 1804.1 891.5Q1805 892.9 1808.5 892.9M1785.7 895.8Q1787.5 892.9 1789.2 892.9Q1791 892.9 1792.7 892.9Q1794.5 892.9 1796.2 892.9Q1798 892.9 1799.7 895.8M1215.1 935.8L1216.8 938.6M1216.8 944.3L1213.3 944.3M1222.1 947.1Q1223.8 950 1224.7 951.4Q1225.6 952.9 1227.3 955.7M1201.1 964.2L1199.3 961.4M1280.2 955.7Q1276.7 955.7 1275.8 957.1Q1274.9 958.5 1275.8 959.3Q1276.7 960 1280.2 961.4M1267.9 964.2Q1269.7 961.4 1271.4 961.4Q1273.2 961.4 1274.9 962.1Q1276.7 962.8 1278.4 964.2M1317.2 935.8L1315.5 938.6M1322.5 944.3L1319 944.3M1317.2 952.9Q1319 955.7 1320.7 955.7Q1322.5 955.7 1324.2 955.7Q1326 955.7 1329.5 955.7M1331.2 964.2L1329.5 962.8M1333 961.4L1329.5 960M1371.8 948.6Q1375.3 948.6 1378.8 950M1371.8 951.4Q1375.3 951.4 1376.2 952.1Q1377.1 952.9 1377.9 954.3Q1378.8 955.7 1382.3 953.8M1366.6 952.9Q1368.3 955.7 1369.2 957.1Q1370.1 958.5 1369.2 960Q1368.3 961.4 1366.6 964.2M1370.1 952.9Q1371.8 955.7 1373.6 958.5M1382.3 955.7Q1379.7 958.5 1382.3 960.3M1382.3 957.6Q1381.4 958.5 1382.3 959.1M1359.6 964.2L1357.8 961.4M1371.8 961.4L1370.1 964.2M1382.3 963.7L1380.6 964.2M1382.3 962.5L1378.8 962.8M1382.3 961.4L1378.8 960M1412.4 952.9Q1414.1 955.7 1415.9 955.7Q1417.6 955.7 1419.4 952.9M1422.9 952.9Q1422.9 958.5 1422.9 964.2M1429.9 952.9L1431.6 955.7M1427.7 964.2Q1428.1 963.5 1431.6 963.5M1426.8 964.2Q1428.1 962.1 1431.6 962.1M1426 964.2Q1428.1 960.7 1431.6 960.7M1425.1 964.2Q1428.1 959.3 1431.6 959.3M1477.5 951.4Q1481 951.4 1482.7 951.4Q1484.5 951.4 1487.1 947.1M1477.5 948.6Q1481 948.6 1482.7 948.6Q1484.5 948.6 1485.4 947.1M1488 955.7L1486.2 958.5M1465.2 964.2L1463.5 961.4M1479.2 964.2Q1481 961.4 1484.5 961.4M1518.1 952.9Q1519.8 955.7 1521.6 952.9M1528.6 952.9Q1528.6 958.5 1530.3 961.4M1535.6 952.9L1537.3 955.7M1518.1 964.2Q1519.8 961.4 1521.6 961.4Q1523.3 961.4 1525.1 964.2M1584.9 941.4L1586.6 942.9M1586.6 945.7L1583.1 944.3M1583.1 950Q1586.6 950 1588.4 949.3Q1590.1 948.6 1591.9 947.1M1593.6 950Q1590.1 951.4 1589.3 952.1Q1588.4 952.9 1589.3 954.3Q1590.1 955.7 1591.9 958.5M1577.9 964.2Q1579.6 961.4 1583.1 961.4M1634.2 952.9Q1632.5 955.7 1631.6 957.1Q1630.7 958.5 1630.7 964.2M1739.9 935.8L1738.1 938.6M1729.4 952.9L1727.6 955.7M1746.9 952.9L1748.6 955.7M1798 938.6L1794.5 938.6M1805 957.6L1804.4 958.5M1805 955.7L1803.2 958.5M1805 953.8L1802 958.5M1782.2 964.2L1780.5 961.4M1789.2 964.2Q1791 961.4 1794.5 961.4M1216.2 1004.2L1216.8 1005.2M1215.1 1004.2L1216.8 1007.1M1213.9 1004.2L1216.8 1009M1216.8 1014.7L1213.3 1014.7M1216.8 1012.8L1213.3 1012.8M1216.8 1010.9L1213.3 1010.9M1213.3 1018.5Q1216.8 1018.5 1220.3 1018.5M1201.1 1021.4Q1201.1 1027 1202 1027.4Q1202.8 1027.8 1205.9 1032.8M1212.5 1021.4Q1213.3 1022.8 1216 1027M1210.7 1021.4Q1213.3 1025.6 1214.2 1027M1223.8 1022.3L1220.9 1027M1223.8 1024.2L1222.1 1027M1223.8 1026.1L1223.2 1027M1202.2 1032.8Q1202.8 1032 1203.3 1032.8M1201.1 1032.8Q1202.8 1030.6 1204.1 1032.8M1199.9 1032.8Q1202.8 1029.2 1205 1032.8M1266.2 1029.9L1264.4 1032.8M1319 1018.5Q1322.5 1018.5 1326 1018.5M1371.8 1018.5Q1375.3 1018.5 1378.8 1018.5M1382.3 1028.5L1378.8 1029.9M1382.3 1031.3L1380.6 1032.8M1410.6 1024.2Q1412.4 1027 1410.6 1029.9M1415.9 1021.4Q1417.6 1024.2 1419.4 1024.2Q1421.1 1024.2 1422.9 1024.2Q1424.6 1024.2 1426.4 1024.2Q1428.1 1024.2 1431.6 1024.2M1477.5 1018.5Q1481 1018.5 1484.5 1018.5M1472.2 1021.4Q1474 1024.2 1475.7 1021.4M1488 1024.2L1486.2 1027M1530.3 1018.5Q1533.8 1018.5 1534.7 1019.9Q1535.6 1021.4 1537.3 1024.2M1518.1 1032.8L1516.3 1029.9M1646.5 1024.2L1644.7 1027M1676.5 1021.4L1674.8 1024.2M1680 1021.4Q1680 1027 1680.9 1028.5Q1681.8 1029.9 1683.5 1032.8M1676.5 1032.8L1674.8 1029.9M1741.6 1018.5Q1745.1 1018.5 1746.9 1015.6M1736.4 1021.4Q1734.6 1024.2 1733.8 1025.6Q1732.9 1027 1732.9 1032.8M1746.9 1027Q1745.1 1024.2 1743.4 1024.2Q1741.6 1024.2 1739.9 1024.2Q1738.1 1024.2 1737.3 1025.6Q1736.4 1027 1737.3 1028.5Q1738.1 1029.9 1741.6 1029.9M1752.1 1024.2L1750.4 1027M1798 1008.5L1794.5 1008.5M1798 1005.7L1794.5 1005.7M1791 1012.8Q1792.7 1015.6 1791 1017.1M1798 1012.8Q1796.2 1015.6 1795.3 1017.1Q1794.5 1018.5 1791 1019.9M1798 1018.5Q1796.2 1021.4 1798 1024.2M1229.1 1084.2L1229.1 1089.9M1199.3 1098.4Q1202.8 1098.4 1204.6 1098.4Q1206.3 1098.4 1208.1 1098.4Q1209.8 1098.4 1213.3 1098.4M1264.4 1089.9Q1262.7 1092.7 1260.9 1092.7Q1259.2 1092.7 1258.3 1094.1Q1257.4 1095.6 1258.3 1097Q1259.2 1098.4 1260.9 1098.4Q1262.7 1098.4 1266.2 1098.4M1267.9 1095.6Q1269.7 1092.7 1271.4 1089.9M1324.2 1084.2L1326 1087M1317.2 1101.2Q1319 1098.4 1320.7 1097.7Q1322.5 1097 1326 1097M1320.7 1101.2Q1322.5 1099.8 1326 1099.8M1428.1 1077.5L1424.6 1077.5M1428.1 1075.6L1424.6 1075.6M1428.1 1073.7L1424.6 1073.7M1428.1 1081.3L1424.6 1081.3M1433.4 1084.2L1435.1 1087M1435.1 1092.7Q1431.6 1092.7 1429.9 1092.7Q1428.1 1092.7 1426.4 1092.7Q1424.6 1092.7 1422.9 1092.7Q1421.1 1092.7 1420.3 1094.1Q1419.4 1095.6 1418.5 1096.3Q1417.6 1097 1415.9 1097.7Q1414.1 1098.4 1410.6 1098.4M1415.9 1101.2Q1417.6 1099.8 1418.5 1101.2M1420.3 1101.2Q1421.1 1098.4 1424.6 1098.4M1477.5 1087Q1481 1085.6 1484.5 1085.6M1484.5 1088.4Q1481 1088.4 1480.1 1089.1Q1479.2 1089.9 1480.1 1091.3Q1481 1092.7 1482.7 1092.7Q1484.5 1092.7 1488 1092.7M1465.2 1101.2L1463.5 1098.4M1521.6 1089.9Q1521.6 1095.6 1520.7 1097Q1519.8 1098.4 1516.3 1098.4M1528.6 1089.9Q1530.3 1092.7 1532.1 1095.6M1525.1 1101.2Q1526.8 1098.4 1530.3 1098.4M1586.6 1081.3L1583.1 1081.3M1569.1 1092.7Q1572.6 1092.7 1574.4 1092.7Q1576.1 1092.7 1577.9 1092.7Q1579.6 1092.7 1581.4 1089.9M1593.6 1092.7L1591.9 1095.6M1636 1087Q1639.5 1087 1643 1087M1623.7 1089.9Q1625.5 1092.7 1627.2 1089.9M1646.5 1092.7L1644.7 1095.6M1630.7 1101.2Q1632.5 1098.4 1636 1098.4M1699.3 1087L1695.8 1087M1676.5 1101.2L1674.8 1098.4M1732.9 1089.9Q1732.9 1095.6 1732 1097Q1731.1 1098.4 1727.6 1098.4M1739.9 1089.9Q1741.6 1092.7 1743.4 1092.7Q1745.1 1092.7 1746.9 1095.6M1746.9 1089.9L1748.6 1092.7M1803.2 1084.2L1805 1087M1785.7 1089.9Q1787.5 1092.7 1789.2 1092.7Q1791 1092.7 1791.8 1094.1Q1792.7 1095.6 1791.8 1097Q1791 1098.4 1789.2 1098.4Q1787.5 1098.4 1785.7 1098.4Q1784 1098.4 1782.2 1101.2M1216.8 1144.1L1213.3 1144.1M1213.3 1155.5Q1216.8 1155.5 1218.6 1155.5Q1220.3 1155.5 1222.1 1152.7M1208.1 1158.4Q1208.1 1164.1 1208.1 1169.8M1227.3 1161.2Q1223.8 1161.2 1223 1162.6Q1222.1 1164.1 1223 1165.5Q1223.8 1166.9 1227.3 1166.9M1218.6 1169.8Q1220.3 1166.9 1222.1 1169.8M1273.2 1144.1L1271.4 1147M1322.5 1149.8L1319 1149.8M1317.2 1158.4Q1319 1161.2 1320.7 1164.1M1327.7 1158.4L1327.7 1164.1M1331.2 1158.4Q1333 1161.2 1336.5 1161.2M1313.7 1169.8Q1315.5 1166.9 1319 1166.9M1329.5 1165.5Q1333 1165.5 1336.5 1165.5M1329.5 1168.3Q1333 1168.3 1336.5 1168.3M1357.8 1161.2Q1361.3 1161.2 1363.1 1161.2Q1364.8 1161.2 1366.6 1161.2Q1368.3 1161.2 1369.2 1162.6Q1370.1 1164.1 1371.8 1166.9M1424.6 1155.5Q1428.1 1155.5 1431.6 1155.5M1412.4 1158.4L1410.6 1161.2M1433.4 1164.1Q1431.6 1161.2 1430.8 1162.6Q1429.9 1164.1 1431.6 1166.9M1410.6 1166.9Q1414.1 1166.9 1415.9 1166.9Q1417.6 1166.9 1419.4 1166.9Q1421.1 1166.9 1422.9 1169.8M1426.4 1169.8Q1428.1 1166.9 1429.9 1169.8M1475.7 1158.4Q1477.5 1161.2 1479.2 1164.1M1468.7 1169.8Q1470.5 1166.9 1472.2 1166.9Q1474 1166.9 1477.5 1166.9M1537.3 1155.5Q1535.6 1158.4 1536.4 1159.8Q1537.3 1161.2 1540.8 1161.2M1516.3 1166.9Q1519.8 1166.9 1521.6 1166.9Q1523.3 1166.9 1525.1 1169.8M1531.2 1169.8Q1533.8 1165.5 1537.3 1165.5M1532.9 1169.8Q1533.8 1168.3 1537.3 1168.3M1570.9 1169.8L1569.1 1166.9M1643 1161.2Q1639.5 1161.2 1637.7 1161.2Q1636 1161.2 1635.1 1162.6Q1634.2 1164.1 1633.3 1165.5Q1632.5 1166.9 1630.7 1166.9Q1629 1166.9 1627.2 1166.9Q1625.5 1166.9 1623.7 1169.8M1694 1158.4L1695.8 1161.2M1741.6 1155.5Q1745.1 1155.5 1748.6 1155.5M1729.4 1169.8L1727.6 1166.9M1735.5 1169.8Q1738.1 1165.5 1741.6 1165.5M1737.3 1169.8Q1738.1 1168.3 1741.6 1168.3M1803.2 1152.7Q1805 1155.5 1808.5 1155.5M1780.5 1161.2Q1784 1161.2 1785.7 1161.2Q1787.5 1161.2 1789.2 1158.4M1799.7 1158.4L1801.5 1161.2M1782.2 1169.8Q1784 1166.9 1785.7 1166.9Q1787.5 1166.9 1789.2 1169.8M1213.3 1224Q1216.8 1224 1220.3 1224M1201.1 1226.9L1199.3 1229.7M1269.7 1212.6L1267.9 1215.5M1271.4 1226.9Q1273.2 1229.7 1274.9 1232.6M1253.9 1238.2L1252.2 1235.4M1278.4 1238.2L1276.7 1235.4M1322.5 1212.6L1319 1212.6M1322.5 1218.3L1319 1218.3M1375.3 1212.6L1371.8 1212.6M1375.3 1218.3L1371.8 1218.3M1379.7 1221.2L1382.3 1225.4M1381.4 1221.2L1382.3 1222.6M1366.6 1226.9Q1368.3 1229.7 1370.1 1229.7Q1371.8 1229.7 1373.6 1232.6M1382.3 1229.7L1380.6 1232.6M1359.6 1238.2L1357.8 1235.4M1368.3 1241.1L1364.8 1241.1M1424.6 1225.4Q1428.1 1225.4 1429 1226.1Q1429.9 1226.9 1430.8 1228.3Q1431.6 1229.7 1432.5 1232.6M1424.6 1222.6Q1428.1 1222.6 1429.9 1223.3Q1431.6 1224 1433.4 1221.2M1419.4 1226.9Q1421.1 1229.7 1422 1231.1Q1422.9 1232.6 1424.6 1233.5M1435.1 1229.7L1434.3 1232.6M1413.5 1238.2L1410.6 1233.5M1412.3 1238.2L1410.6 1235.5M1411.1 1238.2L1410.6 1237.5M1419.4 1238.2Q1421.1 1235.4 1424.6 1235.4M1424.6 1237.3L1422.9 1238.2M1438.6 1236.8L1436.9 1238.2M1438.6 1234L1435.1 1236.8M1436.9 1232.6L1435.1 1234M1477.5 1224Q1481 1224 1481.9 1221.2M1483.6 1221.2Q1484.5 1224 1488 1224M1472.2 1226.9Q1470.5 1229.7 1469.6 1231.1Q1468.7 1232.6 1467.9 1234Q1467 1235.4 1463.5 1235.4M1488 1227.8L1485.1 1232.6M1488 1229.8L1486.3 1232.6M1488 1231.8L1487.5 1232.6M1490.9 1238.2Q1491.5 1237.7 1495 1237.7M1489.7 1238.2Q1491.5 1236.5 1495 1236.5M1488.6 1238.2Q1491.5 1235.3 1495 1235.3M1488 1236.8Q1491.5 1234.2 1495 1234.2M1488 1233.8Q1491.5 1233 1495 1233M1527.7 1209.8L1530.3 1214M1529.4 1209.8L1530.3 1211.2M1533.8 1218.3L1530.3 1218.3M1530.3 1222.6Q1533.8 1222.6 1535.6 1222.6Q1537.3 1222.6 1540.8 1224M1530.3 1225.4Q1533.8 1225.4 1535.6 1225.4Q1537.3 1225.4 1540.8 1225.9M1539.1 1221.2L1540.8 1222.1M1518.1 1226.9L1516.3 1229.7M1521.6 1238.2Q1523.3 1235.4 1525.1 1238.2M1588.4 1226.9L1588.4 1232.6M1635.1 1209.8Q1636 1212.6 1639.5 1212.6M1633.3 1209.8L1632.5 1212.6M1639.5 1224L1636 1224M1639.5 1229.7L1637.7 1232.6M1630.7 1238.2Q1632.5 1235.4 1636 1235.4M1685.9 1221.2L1685.3 1224M1687 1221.2Q1687 1226.9 1687.9 1228.3Q1688.8 1229.7 1690.5 1232.6M1688.2 1221.2Q1688.8 1224 1690.5 1224Q1692.3 1224 1694 1224Q1695.8 1224 1696.4 1221.2M1698.7 1221.2Q1698.4 1226.9 1697.5 1232.6M1697.5 1221.2Q1696.7 1226.9 1696.4 1232.6M1674.8 1229.7Q1678.3 1229.7 1680 1229.7Q1681.8 1229.7 1683.5 1226.9M1698.7 1232.6Q1699.3 1229.7 1702.8 1229.7M1674.8 1235.4Q1678.3 1235.4 1681.8 1235.4M1748.6 1212.6Q1745.1 1212.6 1744.3 1214Q1743.4 1215.5 1741.6 1218.3M1727.6 1229.7Q1731.1 1229.7 1732.9 1229.7Q1734.6 1229.7 1736.4 1229.7Q1738.1 1229.7 1739.9 1226.9M1743.4 1232.6Q1745.1 1229.7 1748.6 1229.7M1794.5 1224Q1798 1224 1798.8 1225.4Q1799.7 1226.9 1799.7 1232.6M1789.2 1226.9Q1787.5 1229.7 1786.6 1231.1Q1785.7 1232.6 1786.6 1234Q1787.5 1235.4 1789.2 1238.2M1796.2 1232.6Q1794.5 1229.7 1793.6 1231.1Q1792.7 1232.6 1794.5 1235.4M1213.3 1286.8Q1216.8 1286.8 1218.6 1284M1213.3 1291.1Q1216.8 1291.1 1218.6 1291.8Q1220.3 1292.5 1222.1 1292.5Q1223.8 1292.5 1227.3 1292.5M1213.3 1293.9Q1216.8 1293.9 1217.7 1294.6Q1218.6 1295.4 1219.5 1296.8Q1220.3 1298.2 1222.1 1298.2Q1223.8 1298.2 1227.3 1298.2M1199.3 1298.2Q1201.1 1301.1 1202 1301.8Q1202.8 1302.5 1204.6 1302.5Q1206.3 1302.5 1207.2 1301.8Q1208.1 1301.1 1209 1299.6Q1209.8 1298.2 1211.6 1295.4M1199.3 1303.9Q1202.8 1305.3 1204.6 1305.3Q1206.3 1305.3 1207.2 1306.8M1209 1306.8Q1209.8 1303.9 1211.6 1303.2Q1213.3 1302.5 1215.1 1303.2Q1216.8 1303.9 1220.3 1303.9M1211.6 1306.8Q1213.3 1305.3 1215.1 1306.8M1264.4 1278.2L1262.7 1281.1M1269.7 1284.9L1266.2 1284.9M1269.7 1286.8L1266.2 1286.8M1269.7 1288.7L1266.2 1288.7M1266.2 1292.5Q1269.7 1292.5 1270.5 1293.9Q1271.4 1295.4 1272.3 1296.8Q1273.2 1298.2 1276.7 1298.2M1271.4 1289.7Q1273.2 1292.5 1276.7 1293.9M1274.9 1289.7L1276.7 1291.1M1265.3 1306.8Q1266.2 1305.3 1267.9 1305.3Q1269.7 1305.3 1273.2 1305.3M1263.5 1306.8Q1266.2 1302.5 1267.9 1302.5Q1269.7 1302.5 1273.2 1302.5M1319 1292.5Q1322.5 1292.5 1326 1292.5M1331.2 1306.8L1329.5 1305.3M1333 1303.9L1329.5 1302.5M1371.8 1292.5Q1375.3 1292.5 1378.8 1292.5M1382.3 1296.8Q1378.8 1298.2 1377.1 1298.2Q1375.3 1298.2 1373.6 1298.2Q1371.8 1298.2 1370.1 1298.2Q1368.3 1298.2 1367.4 1299.6Q1366.6 1301.1 1365.7 1302.5Q1364.8 1303.9 1363.1 1303.9Q1361.3 1303.9 1359.6 1306.8M1382.3 1299.6L1380.6 1301.1M1424.6 1291.1Q1428.1 1291.1 1431.6 1292.5M1424.6 1293.9Q1428.1 1293.9 1429 1294.6Q1429.9 1295.4 1430.8 1296.8Q1431.6 1298.2 1433.4 1301.1M1419.4 1295.4Q1417.6 1298.2 1416.8 1299.6Q1415.9 1301.1 1415 1302.5Q1414.1 1303.9 1410.6 1303.9M1481 1283L1477.5 1283M1481 1281.1L1477.5 1281.1M1481 1279.2L1477.5 1279.2M1481 1284.9L1477.5 1284.9M1481 1286.8L1477.5 1286.8M1481 1288.7L1477.5 1288.7M1477.5 1292.5Q1481 1292.5 1481.9 1289.7M1483.6 1289.7Q1484.5 1292.5 1486.2 1292.5Q1488 1292.5 1489.7 1289.7M1491.5 1292.5Q1489.7 1295.4 1491.5 1298.2M1463.5 1298.2Q1467 1298.2 1468.7 1298.2Q1470.5 1298.2 1471.4 1299.6Q1472.2 1301.1 1473.1 1302.5Q1474 1303.9 1477.5 1303.9M1530.3 1292.5Q1532.1 1295.4 1532.1 1301.1M1518.1 1306.8L1516.3 1305.3M1516.3 1302.5Q1519.8 1303.9 1521.6 1303.9Q1523.3 1303.9 1525.1 1303.9Q1526.8 1303.9 1528.6 1306.8M1583.1 1292.5Q1586.6 1292.5 1590.1 1292.5M1574.4 1295.4Q1576.1 1298.2 1577.9 1298.2Q1579.6 1298.2 1581.4 1298.2Q1583.1 1298.2 1586.6 1298.2M1570.9 1306.8L1569.1 1303.9M1632.5 1281.1Q1636 1281.1 1639.5 1282.5M1637.7 1278.2L1639.5 1279.7M1639.5 1285.4L1636 1285.4M1639.5 1288.2L1636 1288.2M1636 1292.5Q1639.5 1292.5 1641.2 1292.5Q1643 1292.5 1646.5 1292.5M1630.7 1306.8Q1632.5 1303.9 1636 1303.9M1697.5 1278.2Q1695.8 1281.1 1694.9 1282.5Q1694 1284 1693.2 1284.3Q1692.3 1284.7 1688.8 1284.7M1688.8 1288.9Q1692.3 1288.9 1695.8 1288.7M1688.8 1287.5Q1692.3 1287.5 1695.8 1286.8M1688.8 1286.1Q1692.3 1286.1 1695.8 1284.9M1688.8 1290.6Q1692.3 1290.6 1695.8 1290.4M1688.8 1292.5Q1692.3 1292.5 1695.8 1291.8M1688.8 1294.4Q1692.3 1294.4 1695.8 1293.2M1695.8 1294.6Q1694 1295.4 1695.8 1298.2M1680 1306.8Q1681.8 1303.9 1683.5 1303.9Q1685.3 1303.9 1688.8 1303.9M1729.4 1295.4Q1731.1 1296.8 1732.9 1295.4M1727.6 1298.2Q1731.1 1299.6 1732 1300.3Q1732.9 1301.1 1732 1302.5Q1731.1 1303.9 1727.6 1303.9M1745.1 1298.2Q1741.6 1298.2 1739.9 1298.2Q1738.1 1298.2 1737.3 1299.6Q1736.4 1301.1 1737.3 1301.8Q1738.1 1302.5 1741.6 1302.5M1736.4 1306.8Q1738.1 1305.3 1741.6 1305.3M1791 1279.7Q1794.5 1279.7 1795.3 1278.2M1791 1282.5Q1794.5 1282.5 1797.1 1278.2M1794.5 1293.9Q1798 1293.9 1799.7 1293.9Q1801.5 1293.9 1805 1292.5M1794.5 1291.1Q1798 1291.1 1799.7 1291.1Q1801.5 1291.1 1803.2 1289.7M1805 1298.2L1803.2 1301.1M1795.3 1306.8Q1798 1302.5 1801.5 1302.5M1797.1 1306.8Q1798 1305.3 1801.5 1305.3M1220.3 1361Q1218.6 1363.9 1219.5 1364.6Q1220.3 1365.3 1223 1369.6M1221.2 1369.6Q1220.3 1368.1 1218.6 1367.4Q1216.8 1366.7 1215.1 1366.7Q1213.3 1366.7 1212.5 1368.1Q1211.6 1369.6 1210.7 1371Q1209.8 1372.4 1208.1 1375.2M1271.4 1358.2Q1271.4 1363.9 1272.3 1365.3Q1273.2 1366.7 1274.9 1369.6M1318.1 1346.8L1315.5 1351M1316.4 1346.8L1315.5 1348.2M1320.7 1346.8Q1322.5 1349.6 1326 1349.6M1319 1356.7Q1322.5 1356.7 1322.9 1357.4Q1323.4 1358.2 1322.9 1358.9Q1322.5 1359.6 1319 1359.6M1319 1353.9Q1322.5 1353.9 1323.8 1356Q1325.1 1358.2 1323.8 1360.3Q1322.5 1362.4 1319 1362.4M1377.1 1358.2Q1378.8 1361 1382.3 1362.4M1380.6 1358.2L1382.3 1359.6M1366.6 1375.2Q1368.3 1372.4 1371.8 1372.4M1435.1 1361L1431.6 1362.4M1433.4 1358.2L1431.6 1359.6M1435.1 1366.7L1433.4 1369.6M1412.4 1375.2L1410.6 1372.4M1477.5 1361Q1481 1361 1484.5 1361M1463.5 1366.7Q1467 1366.7 1468.7 1366.7Q1470.5 1366.7 1472.2 1363.9M1488 1366.7L1486.2 1369.6M1465.2 1375.2L1463.5 1372.4M1540.8 1361L1537.3 1361M1518.1 1363.9Q1519.8 1366.7 1521.6 1363.9M1583.1 1362.4Q1586.6 1362.4 1587.5 1363.1Q1588.4 1363.9 1587.5 1365.3Q1586.6 1366.7 1584.9 1366.7Q1583.1 1366.7 1582.3 1368.1Q1581.4 1369.6 1580.5 1371Q1579.6 1372.4 1577.9 1372.4Q1576.1 1372.4 1574.4 1375.2M1583.1 1359.6Q1586.6 1359.6 1588.4 1358.2M1570.9 1363.9L1569.1 1366.7M1639.5 1349.6L1636 1349.6M1639.5 1355.3L1636 1355.3M1636 1362.4Q1639.5 1362.4 1640.3 1363.1Q1641.2 1363.9 1641.2 1366.7Q1641.2 1369.6 1640.3 1371Q1639.5 1372.4 1637.7 1375.2M1636 1359.6Q1639.5 1359.6 1641.2 1358.2M1644.7 1358.2Q1646.5 1361 1648.2 1361Q1650 1361 1653.5 1361M1653.5 1365.3Q1650.8 1369.6 1653.5 1372.4M1653.5 1368.1Q1652.6 1369.6 1653.5 1370.5M1648.2 1375.2Q1650 1372.4 1653.5 1374.3M1688.8 1361Q1692.3 1361 1694 1358.2M1699.3 1361Q1695.8 1361 1694.9 1362.4Q1694 1363.9 1694 1369.6M1699.3 1366.7L1697.5 1369.6M1676.5 1375.2L1674.8 1372.4M1683.5 1375.2Q1685.3 1372.4 1688.8 1372.4M1745.1 1351L1741.6 1351M1745.1 1348.2L1741.6 1348.2M1745.1 1355.3L1741.6 1355.3M1746.9 1369.6Q1745.1 1366.7 1743.4 1366.7Q1741.6 1366.7 1739.9 1366.7Q1738.1 1366.7 1736.4 1366.7Q1734.6 1366.7 1732.9 1366.7Q1731.1 1366.7 1730.3 1368.1Q1729.4 1369.6 1727.6 1371M1729.4 1375.2L1727.6 1373.8M1796.2 1346.8L1798 1349.6M1798 1356.7L1794.5 1356.7M1798 1353.9L1794.5 1353.9M1794.5 1361Q1798 1361 1801.5 1361M1780.5 1366.7Q1784 1366.7 1785.7 1366.7Q1787.5 1366.7 1789.2 1366.7Q1791 1366.7 1791.8 1368.1Q1792.7 1369.6 1791.8 1371Q1791 1372.4 1789.2 1372.4Q1787.5 1372.4 1785.7 1375.2M1805 1365.3Q1802.3 1369.6 1801.9 1370.3Q1801.5 1371 1799.7 1371.7Q1798 1372.4 1796.2 1375.2M1805 1368.1Q1804.1 1369.6 1802.8 1371.7Q1801.5 1373.8 1799.7 1375.2M1782.2 1375.2L1780.5 1372.4" fill="none" stroke="#111" stroke-width="0.88" stroke-linecap="round" stroke-linejoin="round"/>
<path d="M1191.8 53.55h5.7M1191.8 67.77h5.7M1191.8 81.99h5.7M1191.8 122.05h5.7M1191.8 136.27h5.7M1191.8 150.49h5.7M1191.8 190.55h5.7M1191.8 204.77h5.7M1191.8 218.99h5.7M1191.8 259.05h5.7M1191.8 273.27h5.7M1191.8 287.49h5.7M1191.8 327.55h5.7M1191.8 341.77h5.7M1191.8 355.99h5.7M1191.8 396.05h5.7M1191.8 410.27h5.7M1191.8 424.49h5.7M1191.8 464.55h5.7M1191.8 478.77h5.7M1191.8 492.99h5.7M1191.8 533.05h5.7M1191.8 547.27h5.7M1191.8 561.49h5.7M1191.8 601.55h5.7M1191.8 615.77h5.7M1191.8 629.99h5.7M1191.8 670.05h5.7M1191.8 684.27h5.7M1191.8 698.49h5.7M1191.8 738.55h5.7M1191.8 752.77h5.7M1191.8 766.99h5.7M1191.8 807.05h5.7M1191.8 821.27h5.7M1191.8 835.49h5.7M1191.8 875.55h5.7M1191.8 889.77h5.7M1191.8 903.99h5.7M1191.8 944.05h5.7M1191.8 958.27h5.7M1191.8 972.49h5.7M1191.8 1012.55h5.7M1191.8 1026.77h5.7M1191.8 1040.99h5.7M1191.8 1081.05h5.7M1191.8 1095.27h5.7M1191.8 1109.49h5.7M1191.8 1149.55h5.7M1191.8 1163.77h5.7M1191.8 1177.99h5.7M1191.8 1218.05h5.7M1191.8 1232.27h5.7M1191.8 1246.49h5.7M1191.8 1286.55h5.7M1191.8 1300.77h5.7M1191.8 1314.99h5.7M1191.8 1355.05h5.7M1191.8 1369.27h5.7M1191.8 1383.49h5.7M1198.5 1394.9v5.8M1207.02 1394.9v5.8M1215.54 1394.9v5.8M1224.06 1394.9v5.8M1232.58 1394.9v5.8M1241.1 1394.9v5.8M1251.33 1394.9v5.8M1259.85 1394.9v5.8M1268.37 1394.9v5.8M1276.89 1394.9v5.8M1285.41 1394.9v5.8M1293.93 1394.9v5.8M1304.16 1394.9v5.8M1312.68 1394.9v5.8M1321.2 1394.9v5.8M1329.72 1394.9v5.8M1338.24 1394.9v5.8M1346.76 1394.9v5.8M1356.99 1394.9v5.8M1365.51 1394.9v5.8M1374.03 1394.9v5.8M1382.55 1394.9v5.8M1391.07 1394.9v5.8M1399.59 1394.9v5.8M1409.82 1394.9v5.8M1418.34 1394.9v5.8M1426.86 1394.9v5.8M1435.38 1394.9v5.8M1443.9 1394.9v5.8M1452.42 1394.9v5.8M1462.65 1394.9v5.8M1471.17 1394.9v5.8M1479.69 1394.9v5.8M1488.21 1394.9v5.8M1496.73 1394.9v5.8M1505.25 1394.9v5.8M1515.48 1394.9v5.8M1524 1394.9v5.8M1532.52 1394.9v5.8M1541.04 1394.9v5.8M1549.56 1394.9v5.8M1558.08 1394.9v5.8M1568.31 1394.9v5.8M1576.83 1394.9v5.8M1585.35 1394.9v5.8M1593.87 1394.9v5.8M1602.39 1394.9v5.8M1610.91 1394.9v5.8M1621.14 1394.9v5.8M1629.66 1394.9v5.8M1638.18 1394.9v5.8M1646.7 1394.9v5.8M1655.22 1394.9v5.8M1663.74 1394.9v5.8M1673.97 1394.9v5.8M1682.49 1394.9v5.8M1691.01 1394.9v5.8M1699.53 1394.9v5.8M1708.05 1394.9v5.8M1716.57 1394.9v5.8M1726.8 1394.9v5.8M1735.32 1394.9v5.8M1743.84 1394.9v5.8M1752.36 1394.9v5.8M1760.88 1394.9v5.8M1769.4 1394.9v5.8M1779.63 1394.9v5.8M1788.15 1394.9v5.8M1796.67 1394.9v5.8M1805.19 1394.9v5.8M1813.71 1394.9v5.8M1822.23 1394.9v5.8M1847.5 1394.8h4.4M1847.5 1223.94h4.4M1847.5 1053.08h4.4M1847.5 882.21h4.4M1847.5 711.35h4.4M1847.5 540.49h4.4M1847.5 369.62h4.4M1847.5 198.76h4.4M1847.5 27.9h4.4" fill="none" stroke="#333" stroke-width="1"/>
<path d="M1197.5 42.4h46v51h-46zM1250.33 42.4h46v51h-46zM1303.16 42.4h46v51h-46zM1355.99 42.4h46v51h-46zM1408.82 42.4h46v51h-46zM1461.65 42.4h46v51h-46zM1514.48 42.4h46v51h-46zM1567.31 42.4h46v51h-46zM1620.14 42.4h46v51h-46zM1672.97 42.4h46v51h-46zM1725.8 42.4h46v51h-46zM1778.63 42.4h46v51h-46zM1197.5 110.9h46v51h-46zM1250.33 110.9h46v51h-46zM1303.16 110.9h46v51h-46zM1355.99 110.9h46v51h-46zM1408.82 110.9h46v51h-46zM1461.65 110.9h46v51h-46zM1514.48 110.9h46v51h-46zM1567.31 110.9h46v51h-46zM1620.14 110.9h46v51h-46zM1672.97 110.9h46v51h-46zM1725.8 110.9h46v51h-46zM1778.63 110.9h46v51h-46zM1197.5 179.4h46v51h-46zM1250.33 179.4h46v51h-46zM1303.16 179.4h46v51h-46zM1355.99 179.4h46v51h-46zM1408.82 179.4h46v51h-46zM1461.65 179.4h46v51h-46zM1514.48 179.4h46v51h-46zM1567.31 179.4h46v51h-46zM1620.14 179.4h46v51h-46zM1672.97 179.4h46v51h-46zM1725.8 179.4h46v51h-46zM1778.63 179.4h46v51h-46zM1197.5 247.9h46v51h-46zM1250.33 247.9h46v51h-46zM1303.16 247.9h46v51h-46zM1355.99 247.9h46v51h-46zM1408.82 247.9h46v51h-46zM1461.65 247.9h46v51h-46zM1514.48 247.9h46v51h-46zM1567.31 247.9h46v51h-46zM1620.14 247.9h46v51h-46zM1672.97 247.9h46v51h-46zM1725.8 247.9h46v51h-46zM1778.63 247.9h46v51h-46zM1197.5 316.4h46v51h-46zM1250.33 316.4h46v51h-46zM1303.16 316.4h46v51h-46zM1355.99 316.4h46v51h-46zM1408.82 316.4h46v51h-46zM1461.65 316.4h46v51h-46zM1514.48 316.4h46v51h-46zM1567.31 316.4h46v51h-46zM1620.14 316.4h46v51h-46zM1672.97 316.4h46v51h-46zM1725.8 316.4h46v51h-46zM1778.63 316.4h46v51h-46zM1197.5 384.9h46v51h-46zM1250.33 384.9h46v51h-46zM1303.16 384.9h46v51h-46zM1355.99 384.9h46v51h-46zM1408.82 384.9h46v51h-46zM1461.65 384.9h46v51h-46zM1514.48 384.9h46v51h-46zM1567.31 384.9h46v51h-46zM1620.14 384.9h46v51h-46zM1672.97 384.9h46v51h-46zM1725.8 384.9h46v51h-46zM1778.63 384.9h46v51h-46zM1197.5 453.4h46v51h-46zM1250.33 453.4h46v51h-46zM1303.16 453.4h46v51h-46zM1355.99 453.4h46v51h-46zM1408.82 453.4h46v51h-46zM1461.65 453.4h46v51h-46zM1514.48 453.4h46v51h-46zM1567.31 453.4h46v51h-46zM1620.14 453.4h46v51h-46zM1672.97 453.4h46v51h-46zM1725.8 453.4h46v51h-46zM1778.63 453.4h46v51h-46zM1197.5 521.9h46v51h-46zM1250.33 521.9h46v51h-46zM1303.16 521.9h46v51h-46zM1355.99 521.9h46v51h-46zM1408.82 521.9h46v51h-46zM1461.65 521.9h46v51h-46zM1514.48 521.9h46v51h-46zM1567.31 521.9h46v51h-46zM1620.14 521.9h46v51h-46zM1672.97 521.9h46v51h-46zM1725.8 521.9h46v51h-46zM1778.63 521.9h46v51h-46zM1197.5 590.4h46v51h-46zM1250.33 590.4h46v51h-46zM1303.16 590.4h46v51h-46zM1355.99 590.4h46v51h-46zM1408.82 590.4h46v51h-46zM1461.65 590.4h46v51h-46zM1514.48 590.4h46v51h-46zM1567.31 590.4h46v51h-46zM1620.14 590.4h46v51h-46zM1672.97 590.4h46v51h-46zM1725.8 590.4h46v51h-46zM1778.63 590.4h46v51h-46zM1197.5 658.9h46v51h-46zM1250.33 658.9h46v51h-46zM1303.16 658.9h46v51h-46zM1355.99 658.9h46v51h-46zM1408.82 658.9h46v51h-46zM1461.65 658.9h46v51h-46zM1514.48 658.9h46v51h-46zM1567.31 658.9h46v51h-46zM1620.14 658.9h46v51h-46zM1672.97 658.9h46v51h-46zM1725.8 658.9h46v51h-46zM1778.63 658.9h46v51h-46zM1197.5 727.4h46v51h-46zM1250.33 727.4h46v51h-46zM1303.16 727.4h46v51h-46zM1355.99 727.4h46v51h-46zM1408.82 727.4h46v51h-46zM1461.65 727.4h46v51h-46zM1514.48 727.4h46v51h-46zM1567.31 727.4h46v51h-46zM1620.14 727.4h46v51h-46zM1672.97 727.4h46v51h-46zM1725.8 727.4h46v51h-46zM1778.63 727.4h46v51h-46zM1197.5 795.9h46v51h-46zM1250.33 795.9h46v51h-46zM1303.16 795.9h46v51h-46zM1355.99 795.9h46v51h-46zM1408.82 795.9h46v51h-46zM1461.65 795.9h46v51h-46zM1514.48 795.9h46v51h-46zM1567.31 795.9h46v51h-46zM1620.14 795.9h46v51h-46zM1672.97 795.9h46v51h-46zM1725.8 795.9h46v51h-46zM1778.63 795.9h46v51h-46zM1197.5 864.4h46v51h-46zM1250.33 864.4h46v51h-46zM1303.16 864.4h46v51h-46zM1355.99 864.4h46v51h-46zM1408.82 864.4h46v51h-46zM1461.65 864.4h46v51h-46zM1514.48 864.4h46v51h-46zM1567.31 864.4h46v51h-46zM1620.14 864.4h46v51h-46zM1672.97 864.4h46v51h-46zM1725.8 864.4h46v51h-46zM1778.63 864.4h46v51h-46zM1197.5 932.9h46v51h-46zM1250.33 932.9h46v51h-46zM1303.16 932.9h46v51h-46zM1355.99 932.9h46v51h-46zM1408.82 932.9h46v51h-46zM1461.65 932.9h46v51h-46zM1514.48 932.9h46v51h-46zM1567.31 932.9h46v51h-46zM1620.14 932.9h46v51h-46zM1672.97 932.9h46v51h-46zM1725.8 932.9h46v51h-46zM1778.63 932.9h46v51h-46zM1197.5 1001.4h46v51h-46zM1250.33 1001.4h46v51h-46zM1303.16 1001.4h46v51h-46zM1355.99 1001.4h46v51h-46zM1408.82 1001.4h46v51h-46zM1461.65 1001.4h46v51h-46zM1514.48 1001.4h46v51h-46zM1567.31 1001.4h46v51h-46zM1620.14 1001.4h46v51h-46zM1672.97 1001.4h46v51h-46zM1725.8 1001.4h46v51h-46zM1778.63 1001.4h46v51h-46zM1197.5 1069.9h46v51h-46zM1250.33 1069.9h46v51h-46zM1303.16 1069.9h46v51h-46zM1355.99 1069.9h46v51h-46zM1408.82 1069.9h46v51h-46zM1461.65 1069.9h46v51h-46zM1514.48 1069.9h46v51h-46zM1567.31 1069.9h46v51h-46zM1620.14 1069.9h46v51h-46zM1672.97 1069.9h46v51h-46zM1725.8 1069.9h46v51h-46zM1778.63 1069.9h46v51h-46zM1197.5 1138.4h46v51h-46zM1250.33 1138.4h46v51h-46zM1303.16 1138.4h46v51h-46zM1355.99 1138.4h46v51h-46zM1408.82 1138.4h46v51h-46zM1461.65 1138.4h46v51h-46zM1514.48 1138.4h46v51h-46zM1567.31 1138.4h46v51h-46zM1620.14 1138.4h46v51h-46zM1672.97 1138.4h46v51h-46zM1725.8 1138.4h46v51h-46zM1778.63 1138.4h46v51h-46zM1197.5 1206.9h46v51h-46zM1250.33 1206.9h46v51h-46zM1303.16 1206.9h46v51h-46zM1355.99 1206.9h46v51h-46zM1408.82 1206.9h46v51h-46zM1461.65 1206.9h46v51h-46zM1514.48 1206.9h46v51h-46zM1567.31 1206.9h46v51h-46zM1620.14 1206.9h46v51h-46zM1672.97 1206.9h46v51h-46zM1725.8 1206.9h46v51h-46zM1778.63 1206.9h46v51h-46zM1197.5 1275.4h46v51h-46zM1250.33 1275.4h46v51h-46zM1303.16 1275.4h46v51h-46zM1355.99 1275.4h46v51h-46zM1408.82 1275.4h46v51h-46zM1461.65 1275.4h46v51h-46zM1514.48 1275.4h46v51h-46zM1567.31 1275.4h46v51h-46zM1620.14 1275.4h46v51h-46zM1672.97 1275.4h46v51h-46zM1725.8 1275.4h46v51h-46zM1778.63 1275.4h46v51h-46zM1197.5 1343.9h46v51h-46zM1250.33 1343.9h46v51h-46zM1303.16 1343.9h46v51h-46zM1355.99 1343.9h46v51h-46zM1408.82 1343.9h46v51h-46zM1461.65 1343.9h46v51h-46zM1514.48 1343.9h46v51h-46zM1567.31 1343.9h46v51h-46zM1620.14 1343.9h46v51h-46zM1672.97 1343.9h46v51h-46zM1725.8 1343.9h46v51h-46zM1778.63 1343.9h46v51h-46z" fill="none" stroke="#333" stroke-width="1"/>
<rect x="1830.5" y="27.9" width="17" height="1366.9" fill="none" stroke="#222" stroke-width="1"/>
</svg>
</body></html>
